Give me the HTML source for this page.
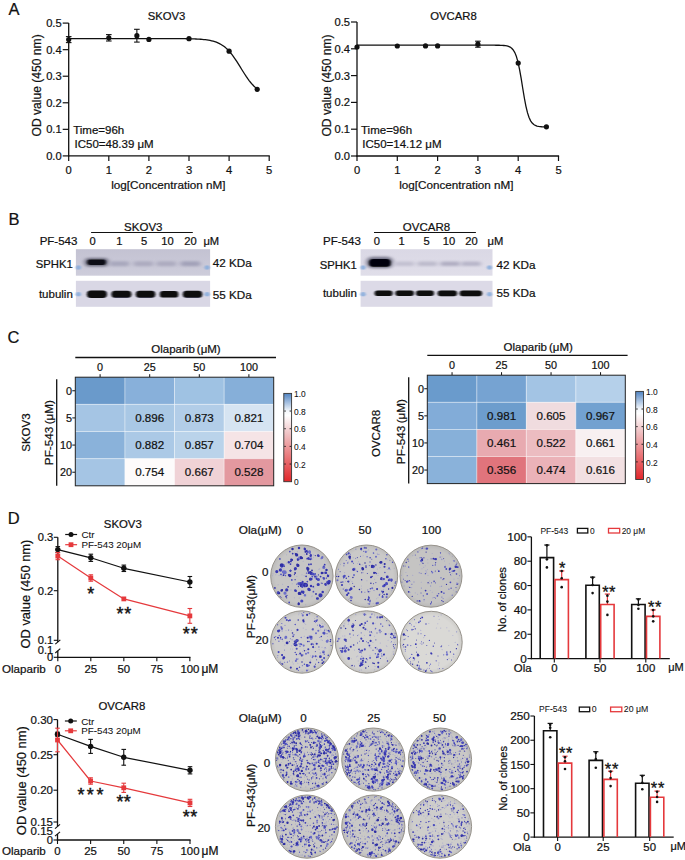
<!DOCTYPE html>
<html><head><meta charset="utf-8"><style>
html,body{margin:0;padding:0;background:#fff;}
svg{display:block;font-family:"Liberation Sans",sans-serif;}
</style></head><body>
<svg width="685" height="860" viewBox="0 0 685 860">
<defs><filter id="bl1" x="-50%" y="-100%" width="200%" height="300%"><feGaussianBlur stdDeviation="0.9 0.7"/></filter><filter id="bl2" x="-50%" y="-100%" width="200%" height="300%"><feGaussianBlur stdDeviation="2.0 1.3"/></filter><linearGradient id="sg75" x1="0" y1="0" x2="0" y2="1"><stop offset="0" stop-color="#c3c2d2"/><stop offset="1" stop-color="#cecddb"/></linearGradient><linearGradient id="sg360" x1="0" y1="0" x2="0" y2="1"><stop offset="0" stop-color="#dad8e5"/><stop offset="1" stop-color="#e0dee9"/></linearGradient><linearGradient id="cb75" x1="0" y1="0" x2="0" y2="1"><stop offset="0" stop-color="#4f83c2"/><stop offset="0.2" stop-color="#f4f7fb"/><stop offset="0.25" stop-color="#ffffff"/><stop offset="0.45" stop-color="#f0c4c6"/><stop offset="1" stop-color="#e2262a"/></linearGradient><linearGradient id="cb427" x1="0" y1="0" x2="0" y2="1"><stop offset="0" stop-color="#4f83c2"/><stop offset="0.2" stop-color="#f4f7fb"/><stop offset="0.25" stop-color="#ffffff"/><stop offset="0.45" stop-color="#f0c4c6"/><stop offset="1" stop-color="#e2262a"/></linearGradient><filter id="pblur" x="-10%" y="-10%" width="120%" height="120%"><feGaussianBlur stdDeviation="0.35"/></filter><radialGradient id="pshade" cx="0.5" cy="0.5" r="0.5"><stop offset="0.85" stop-color="#000" stop-opacity="0"/><stop offset="1" stop-color="#000" stop-opacity="0.06"/></radialGradient></defs>
<rect width="685" height="860" fill="#fff"/>
<text x="8.5" y="15.0" font-size="16.5" text-anchor="start" fill="#111" stroke="#111" stroke-width="0.22">A</text>
<text x="8.5" y="224.5" font-size="16.5" text-anchor="start" fill="#111" stroke="#111" stroke-width="0.22">B</text>
<text x="7.5" y="343.0" font-size="16.5" text-anchor="start" fill="#111" stroke="#111" stroke-width="0.22">C</text>
<text x="7.8" y="523.8" font-size="16.5" text-anchor="start" fill="#111" stroke="#111" stroke-width="0.22">D</text>
<line x1="68.70" y1="23.10" x2="68.70" y2="156.50" stroke="#111" stroke-width="1.3"/>
<line x1="68.10" y1="155.90" x2="269.80" y2="155.90" stroke="#111" stroke-width="1.3"/>
<line x1="62.70" y1="155.90" x2="68.70" y2="155.90" stroke="#111" stroke-width="1.2"/>
<text x="61.7" y="159.9" font-size="11.2" text-anchor="end" fill="#111" stroke="#111" stroke-width="0.22">0.0</text>
<line x1="62.70" y1="129.34" x2="68.70" y2="129.34" stroke="#111" stroke-width="1.2"/>
<text x="61.7" y="133.3" font-size="11.2" text-anchor="end" fill="#111" stroke="#111" stroke-width="0.22">0.1</text>
<line x1="62.70" y1="102.78" x2="68.70" y2="102.78" stroke="#111" stroke-width="1.2"/>
<text x="61.7" y="106.8" font-size="11.2" text-anchor="end" fill="#111" stroke="#111" stroke-width="0.22">0.2</text>
<line x1="62.70" y1="76.22" x2="68.70" y2="76.22" stroke="#111" stroke-width="1.2"/>
<text x="61.7" y="80.2" font-size="11.2" text-anchor="end" fill="#111" stroke="#111" stroke-width="0.22">0.3</text>
<line x1="62.70" y1="49.66" x2="68.70" y2="49.66" stroke="#111" stroke-width="1.2"/>
<text x="61.7" y="53.7" font-size="11.2" text-anchor="end" fill="#111" stroke="#111" stroke-width="0.22">0.4</text>
<line x1="62.70" y1="23.10" x2="68.70" y2="23.10" stroke="#111" stroke-width="1.2"/>
<text x="61.7" y="27.1" font-size="11.2" text-anchor="end" fill="#111" stroke="#111" stroke-width="0.22">0.5</text>
<line x1="68.70" y1="155.90" x2="68.70" y2="160.90" stroke="#111" stroke-width="1.2"/>
<text x="68.7" y="174.2" font-size="11.2" text-anchor="middle" fill="#111" stroke="#111" stroke-width="0.22">0</text>
<line x1="108.80" y1="155.90" x2="108.80" y2="160.90" stroke="#111" stroke-width="1.2"/>
<text x="108.8" y="174.2" font-size="11.2" text-anchor="middle" fill="#111" stroke="#111" stroke-width="0.22">1</text>
<line x1="148.90" y1="155.90" x2="148.90" y2="160.90" stroke="#111" stroke-width="1.2"/>
<text x="148.9" y="174.2" font-size="11.2" text-anchor="middle" fill="#111" stroke="#111" stroke-width="0.22">2</text>
<line x1="189.00" y1="155.90" x2="189.00" y2="160.90" stroke="#111" stroke-width="1.2"/>
<text x="189.0" y="174.2" font-size="11.2" text-anchor="middle" fill="#111" stroke="#111" stroke-width="0.22">3</text>
<line x1="229.10" y1="155.90" x2="229.10" y2="160.90" stroke="#111" stroke-width="1.2"/>
<text x="229.1" y="174.2" font-size="11.2" text-anchor="middle" fill="#111" stroke="#111" stroke-width="0.22">4</text>
<line x1="269.20" y1="155.90" x2="269.20" y2="160.90" stroke="#111" stroke-width="1.2"/>
<text x="269.2" y="174.2" font-size="11.2" text-anchor="middle" fill="#111" stroke="#111" stroke-width="0.22">5</text>
<text x="168.3" y="189.1" font-size="11.7" text-anchor="middle" fill="#111" stroke="#111" stroke-width="0.22">log[Concentration nM]</text>
<text x="40.9" y="85.4" font-size="12.1" text-anchor="middle" fill="#111" stroke="#111" stroke-width="0.22" transform="rotate(-90 40.9 85.4)">OD value (450 nm)</text>
<text x="166.5" y="20.2" font-size="11.3" text-anchor="middle" fill="#111" stroke="#111" stroke-width="0.22">SKOV3</text>
<text x="73.2" y="133.9" font-size="11.5" text-anchor="start" fill="#111" stroke="#111" stroke-width="0.22">Time=96h</text>
<text x="74.5" y="148.3" font-size="11.5" text-anchor="start" fill="#111" stroke="#111" stroke-width="0.22">IC50=48.39 μM</text>
<path d="M68.70 38.60 L70.27 38.60 L71.84 38.60 L73.41 38.60 L74.98 38.60 L76.55 38.60 L78.12 38.60 L79.69 38.60 L81.26 38.60 L82.84 38.60 L84.41 38.60 L85.98 38.60 L87.55 38.60 L89.12 38.60 L90.69 38.60 L92.26 38.60 L93.83 38.60 L95.40 38.60 L96.97 38.60 L98.54 38.60 L100.11 38.60 L101.68 38.60 L103.25 38.60 L104.82 38.60 L106.39 38.60 L107.96 38.60 L109.54 38.60 L111.11 38.60 L112.68 38.60 L114.25 38.60 L115.82 38.60 L117.39 38.60 L118.96 38.60 L120.53 38.60 L122.10 38.60 L123.67 38.60 L125.24 38.60 L126.81 38.60 L128.38 38.60 L129.95 38.60 L131.52 38.60 L133.09 38.60 L134.66 38.60 L136.24 38.60 L137.81 38.60 L139.38 38.60 L140.95 38.60 L142.52 38.60 L144.09 38.60 L145.66 38.60 L147.23 38.60 L148.80 38.60 L150.37 38.60 L151.94 38.60 L153.51 38.60 L155.08 38.60 L156.65 38.60 L158.22 38.61 L159.79 38.61 L161.36 38.61 L162.94 38.61 L164.51 38.61 L166.08 38.61 L167.65 38.62 L169.22 38.62 L170.79 38.62 L172.36 38.63 L173.93 38.63 L175.50 38.64 L177.07 38.65 L178.64 38.66 L180.21 38.67 L181.78 38.68 L183.35 38.70 L184.92 38.72 L186.49 38.74 L188.06 38.76 L189.63 38.80 L191.21 38.83 L192.78 38.88 L194.35 38.93 L195.92 38.99 L197.49 39.07 L199.06 39.16 L200.63 39.26 L202.20 39.39 L203.77 39.54 L205.34 39.71 L206.91 39.92 L208.48 40.17 L210.05 40.45 L211.62 40.80 L213.19 41.20 L214.76 41.67 L216.33 42.22 L217.91 42.86 L219.48 43.60 L221.05 44.46 L222.62 45.45 L224.19 46.59 L225.76 47.87 L227.33 49.32 L228.90 50.93 L230.47 52.72 L232.04 54.68 L233.61 56.79 L235.18 59.05 L236.75 61.44 L238.32 63.91 L239.89 66.44 L241.46 69.00 L243.03 71.53 L244.61 74.01 L246.18 76.40 L247.75 78.67 L249.32 80.79 L250.89 82.76 L252.46 84.56 L254.03 86.18 L255.60 87.64 L257.17 88.94" fill="none" stroke="#111" stroke-width="1.3" stroke-linejoin="round"/>
<line x1="68.70" y1="36.60" x2="68.70" y2="42.60" stroke="#111" stroke-width="1.1"/>
<line x1="65.90" y1="36.60" x2="71.50" y2="36.60" stroke="#111" stroke-width="1.1"/>
<line x1="65.90" y1="42.60" x2="71.50" y2="42.60" stroke="#111" stroke-width="1.1"/>
<circle cx="68.70" cy="39.60" r="2.6" fill="#111"/>
<line x1="108.80" y1="34.60" x2="108.80" y2="41.00" stroke="#111" stroke-width="1.1"/>
<line x1="106.00" y1="34.60" x2="111.60" y2="34.60" stroke="#111" stroke-width="1.1"/>
<line x1="106.00" y1="41.00" x2="111.60" y2="41.00" stroke="#111" stroke-width="1.1"/>
<circle cx="108.80" cy="37.80" r="2.6" fill="#111"/>
<line x1="136.87" y1="29.30" x2="136.87" y2="42.10" stroke="#111" stroke-width="1.1"/>
<line x1="134.07" y1="29.30" x2="139.67" y2="29.30" stroke="#111" stroke-width="1.1"/>
<line x1="134.07" y1="42.10" x2="139.67" y2="42.10" stroke="#111" stroke-width="1.1"/>
<circle cx="136.87" cy="35.70" r="2.6" fill="#111"/>
<circle cx="148.90" cy="39.40" r="2.6" fill="#111"/>
<circle cx="189.00" cy="38.70" r="2.6" fill="#111"/>
<circle cx="229.10" cy="51.20" r="2.6" fill="#111"/>
<circle cx="257.17" cy="89.30" r="2.6" fill="#111"/>
<line x1="357.00" y1="22.00" x2="357.00" y2="156.60" stroke="#111" stroke-width="1.3"/>
<line x1="356.40" y1="156.00" x2="559.10" y2="156.00" stroke="#111" stroke-width="1.3"/>
<line x1="351.00" y1="156.00" x2="357.00" y2="156.00" stroke="#111" stroke-width="1.2"/>
<text x="350.0" y="160.0" font-size="11.2" text-anchor="end" fill="#111" stroke="#111" stroke-width="0.22">0.0</text>
<line x1="351.00" y1="129.20" x2="357.00" y2="129.20" stroke="#111" stroke-width="1.2"/>
<text x="350.0" y="133.2" font-size="11.2" text-anchor="end" fill="#111" stroke="#111" stroke-width="0.22">0.1</text>
<line x1="351.00" y1="102.40" x2="357.00" y2="102.40" stroke="#111" stroke-width="1.2"/>
<text x="350.0" y="106.4" font-size="11.2" text-anchor="end" fill="#111" stroke="#111" stroke-width="0.22">0.2</text>
<line x1="351.00" y1="75.60" x2="357.00" y2="75.60" stroke="#111" stroke-width="1.2"/>
<text x="350.0" y="79.6" font-size="11.2" text-anchor="end" fill="#111" stroke="#111" stroke-width="0.22">0.3</text>
<line x1="351.00" y1="48.80" x2="357.00" y2="48.80" stroke="#111" stroke-width="1.2"/>
<text x="350.0" y="52.8" font-size="11.2" text-anchor="end" fill="#111" stroke="#111" stroke-width="0.22">0.4</text>
<line x1="351.00" y1="22.00" x2="357.00" y2="22.00" stroke="#111" stroke-width="1.2"/>
<text x="350.0" y="26.0" font-size="11.2" text-anchor="end" fill="#111" stroke="#111" stroke-width="0.22">0.5</text>
<line x1="357.00" y1="156.00" x2="357.00" y2="161.00" stroke="#111" stroke-width="1.2"/>
<text x="357.0" y="174.3" font-size="11.2" text-anchor="middle" fill="#111" stroke="#111" stroke-width="0.22">0</text>
<line x1="397.30" y1="156.00" x2="397.30" y2="161.00" stroke="#111" stroke-width="1.2"/>
<text x="397.3" y="174.3" font-size="11.2" text-anchor="middle" fill="#111" stroke="#111" stroke-width="0.22">1</text>
<line x1="437.60" y1="156.00" x2="437.60" y2="161.00" stroke="#111" stroke-width="1.2"/>
<text x="437.6" y="174.3" font-size="11.2" text-anchor="middle" fill="#111" stroke="#111" stroke-width="0.22">2</text>
<line x1="477.90" y1="156.00" x2="477.90" y2="161.00" stroke="#111" stroke-width="1.2"/>
<text x="477.9" y="174.3" font-size="11.2" text-anchor="middle" fill="#111" stroke="#111" stroke-width="0.22">3</text>
<line x1="518.20" y1="156.00" x2="518.20" y2="161.00" stroke="#111" stroke-width="1.2"/>
<text x="518.2" y="174.3" font-size="11.2" text-anchor="middle" fill="#111" stroke="#111" stroke-width="0.22">4</text>
<line x1="558.50" y1="156.00" x2="558.50" y2="161.00" stroke="#111" stroke-width="1.2"/>
<text x="558.5" y="174.3" font-size="11.2" text-anchor="middle" fill="#111" stroke="#111" stroke-width="0.22">5</text>
<text x="456.3" y="189.2" font-size="11.7" text-anchor="middle" fill="#111" stroke="#111" stroke-width="0.22">log[Concentration nM]</text>
<text x="330.5" y="85.5" font-size="12.1" text-anchor="middle" fill="#111" stroke="#111" stroke-width="0.22" transform="rotate(-90 330.5 85.5)">OD value (450 nm)</text>
<text x="453.5" y="20.2" font-size="11.3" text-anchor="middle" fill="#111" stroke="#111" stroke-width="0.22">OVCAR8</text>
<text x="361.0" y="134.0" font-size="11.5" text-anchor="start" fill="#111" stroke="#111" stroke-width="0.22">Time=96h</text>
<text x="362.3" y="148.4" font-size="11.5" text-anchor="start" fill="#111" stroke="#111" stroke-width="0.22">IC50=14.12 μM</text>
<path d="M357.00 45.20 L358.58 45.20 L360.16 45.20 L361.74 45.20 L363.31 45.20 L364.89 45.20 L366.47 45.20 L368.05 45.20 L369.63 45.20 L371.21 45.20 L372.78 45.20 L374.36 45.20 L375.94 45.20 L377.52 45.20 L379.10 45.20 L380.68 45.20 L382.25 45.20 L383.83 45.20 L385.41 45.20 L386.99 45.20 L388.57 45.20 L390.15 45.20 L391.73 45.20 L393.30 45.20 L394.88 45.20 L396.46 45.20 L398.04 45.20 L399.62 45.20 L401.20 45.20 L402.77 45.20 L404.35 45.20 L405.93 45.20 L407.51 45.20 L409.09 45.20 L410.67 45.20 L412.24 45.20 L413.82 45.20 L415.40 45.20 L416.98 45.20 L418.56 45.20 L420.14 45.20 L421.72 45.20 L423.29 45.20 L424.87 45.20 L426.45 45.20 L428.03 45.20 L429.61 45.20 L431.19 45.20 L432.76 45.20 L434.34 45.20 L435.92 45.20 L437.50 45.20 L439.08 45.20 L440.66 45.20 L442.23 45.20 L443.81 45.20 L445.39 45.20 L446.97 45.20 L448.55 45.20 L450.13 45.20 L451.70 45.20 L453.28 45.20 L454.86 45.20 L456.44 45.20 L458.02 45.20 L459.60 45.20 L461.18 45.20 L462.75 45.20 L464.33 45.20 L465.91 45.20 L467.49 45.20 L469.07 45.20 L470.65 45.20 L472.22 45.20 L473.80 45.20 L475.38 45.20 L476.96 45.20 L478.54 45.20 L480.12 45.20 L481.69 45.20 L483.27 45.20 L484.85 45.20 L486.43 45.20 L488.01 45.20 L489.59 45.20 L491.17 45.21 L492.74 45.21 L494.32 45.22 L495.90 45.23 L497.48 45.24 L499.06 45.27 L500.64 45.31 L502.21 45.37 L503.79 45.48 L505.37 45.65 L506.95 45.93 L508.53 46.37 L510.11 47.08 L511.68 48.20 L513.26 49.96 L514.84 52.63 L516.42 56.59 L518.00 62.17 L519.58 69.55 L521.16 78.48 L522.73 88.24 L524.31 97.75 L525.89 106.07 L527.47 112.67 L529.05 117.51 L530.63 120.87 L532.20 123.10 L533.78 124.54 L535.36 125.47 L536.94 126.05 L538.52 126.41 L540.10 126.63 L541.67 126.77 L543.25 126.86 L544.83 126.91 L546.41 126.95" fill="none" stroke="#111" stroke-width="1.3" stroke-linejoin="round"/>
<circle cx="357.00" cy="47.00" r="2.6" fill="#111"/>
<circle cx="397.30" cy="46.00" r="2.6" fill="#111"/>
<circle cx="425.51" cy="45.90" r="2.6" fill="#111"/>
<circle cx="437.60" cy="45.90" r="2.6" fill="#111"/>
<line x1="477.90" y1="41.20" x2="477.90" y2="47.20" stroke="#111" stroke-width="1.1"/>
<line x1="475.10" y1="41.20" x2="480.70" y2="41.20" stroke="#111" stroke-width="1.1"/>
<line x1="475.10" y1="47.20" x2="480.70" y2="47.20" stroke="#111" stroke-width="1.1"/>
<circle cx="477.90" cy="44.20" r="2.6" fill="#111"/>
<circle cx="518.20" cy="63.10" r="2.6" fill="#111"/>
<circle cx="546.41" cy="126.80" r="2.6" fill="#111"/>
<line x1="91.10" y1="232.50" x2="192.80" y2="232.50" stroke="#111" stroke-width="1.2"/>
<text x="143.3" y="230.8" font-size="11.5" text-anchor="middle" fill="#111" stroke="#111" stroke-width="0.22">SKOV3</text>
<text x="77.4" y="245.3" font-size="11.5" text-anchor="end" fill="#111" stroke="#111" stroke-width="0.22">PF-543</text>
<text x="92.6" y="245.3" font-size="11.2" text-anchor="middle" fill="#111" stroke="#111" stroke-width="0.22">0</text>
<text x="119.3" y="245.3" font-size="11.2" text-anchor="middle" fill="#111" stroke="#111" stroke-width="0.22">1</text>
<text x="144.0" y="245.3" font-size="11.2" text-anchor="middle" fill="#111" stroke="#111" stroke-width="0.22">5</text>
<text x="167.4" y="245.3" font-size="11.2" text-anchor="middle" fill="#111" stroke="#111" stroke-width="0.22">10</text>
<text x="190.4" y="245.3" font-size="11.2" text-anchor="middle" fill="#111" stroke="#111" stroke-width="0.22">20</text>
<text x="203.4" y="245.3" font-size="11.2" text-anchor="start" fill="#111" stroke="#111" stroke-width="0.22">μM</text>
<rect x="75.90" y="249.20" width="134.20" height="26.50" fill="url(#sg75)" stroke="none" stroke-width="1"/>
<rect x="75.90" y="280.80" width="134.20" height="26.00" fill="#d9d7e5" stroke="none" stroke-width="1"/>
<rect x="84.6" y="258.1" width="24.0" height="8.5" rx="4.2" fill="#6a6a7c" filter="url(#bl2)"/>
<rect x="87.3" y="259.4" width="18.5" height="5.5" rx="2.8" fill="#101018" filter="url(#bl1)"/>
<rect x="109.3" y="261.3" width="20.0" height="5.0" rx="2.5" fill="#a9a8bd" filter="url(#bl2)"/>
<rect x="133.4" y="261.3" width="20.0" height="5.0" rx="2.5" fill="#adacc0" filter="url(#bl2)"/>
<rect x="156.3" y="261.3" width="20.0" height="5.0" rx="2.5" fill="#adacc0" filter="url(#bl2)"/>
<rect x="180.4" y="261.3" width="20.0" height="5.0" rx="2.5" fill="#a3a2b9" filter="url(#bl2)"/>
<rect x="86.9" y="290.6" width="20.0" height="7.5" rx="3.8" fill="#08080c" filter="url(#bl1)"/>
<rect x="111.4" y="290.8" width="20.0" height="7.0" rx="3.5" fill="#08080c" filter="url(#bl1)"/>
<rect x="135.8" y="290.8" width="19.5" height="7.0" rx="3.5" fill="#08080c" filter="url(#bl1)"/>
<rect x="159.8" y="291.1" width="18.5" height="6.5" rx="3.2" fill="#08080c" filter="url(#bl1)"/>
<rect x="182.8" y="290.8" width="19.5" height="7.0" rx="3.5" fill="#08080c" filter="url(#bl1)"/>
<ellipse cx="78.4" cy="267.5" rx="2.6" ry="2.2" fill="#86acdc" opacity="0.85" filter="url(#bl1)"/>
<ellipse cx="207.1" cy="267.5" rx="2.6" ry="2.2" fill="#86acdc" opacity="0.85" filter="url(#bl1)"/>
<ellipse cx="78.4" cy="294.3" rx="2.6" ry="2.2" fill="#86acdc" opacity="0.85" filter="url(#bl1)"/>
<ellipse cx="207.1" cy="294.3" rx="2.6" ry="2.2" fill="#86acdc" opacity="0.85" filter="url(#bl1)"/>
<text x="72.8" y="267.8" font-size="11.3" text-anchor="end" fill="#111" stroke="#111" stroke-width="0.22">SPHK1</text>
<text x="72.8" y="298.3" font-size="11.5" text-anchor="end" fill="#111" stroke="#111" stroke-width="0.22">tubulin</text>
<text x="212.7" y="267.4" font-size="11.7" text-anchor="start" fill="#111" stroke="#111" stroke-width="0.22">42 KDa</text>
<text x="212.7" y="298.6" font-size="11.7" text-anchor="start" fill="#111" stroke="#111" stroke-width="0.22">55 KDa</text>
<line x1="374.00" y1="232.50" x2="475.90" y2="232.50" stroke="#111" stroke-width="1.2"/>
<text x="426.5" y="230.8" font-size="11.5" text-anchor="middle" fill="#111" stroke="#111" stroke-width="0.22">OVCAR8</text>
<text x="360.8" y="245.3" font-size="11.5" text-anchor="end" fill="#111" stroke="#111" stroke-width="0.22">PF-543</text>
<text x="376.9" y="245.3" font-size="11.2" text-anchor="middle" fill="#111" stroke="#111" stroke-width="0.22">0</text>
<text x="401.7" y="245.3" font-size="11.2" text-anchor="middle" fill="#111" stroke="#111" stroke-width="0.22">1</text>
<text x="426.5" y="245.3" font-size="11.2" text-anchor="middle" fill="#111" stroke="#111" stroke-width="0.22">5</text>
<text x="448.9" y="245.3" font-size="11.2" text-anchor="middle" fill="#111" stroke="#111" stroke-width="0.22">10</text>
<text x="471.5" y="245.3" font-size="11.2" text-anchor="middle" fill="#111" stroke="#111" stroke-width="0.22">20</text>
<text x="487.5" y="245.3" font-size="11.2" text-anchor="start" fill="#111" stroke="#111" stroke-width="0.22">μM</text>
<rect x="360.60" y="249.20" width="131.90" height="26.50" fill="url(#sg360)" stroke="none" stroke-width="1"/>
<rect x="360.60" y="280.80" width="131.90" height="26.00" fill="#dcdae7" stroke="none" stroke-width="1"/>
<rect x="366.3" y="256.8" width="27.0" height="11.5" rx="5.8" fill="#77778a" filter="url(#bl2)"/>
<rect x="369.1" y="258.9" width="21.5" height="7.8" rx="3.9" fill="#050508" filter="url(#bl1)"/>
<rect x="394.3" y="261.6" width="20.0" height="4.5" rx="2.2" fill="#c3c1d1" filter="url(#bl2)"/>
<rect x="417.3" y="261.6" width="20.0" height="4.5" rx="2.2" fill="#bdbbcc" filter="url(#bl2)"/>
<rect x="440.2" y="261.6" width="20.0" height="4.5" rx="2.2" fill="#b1afc3" filter="url(#bl2)"/>
<rect x="461.0" y="261.6" width="20.0" height="4.5" rx="2.2" fill="#b8b6c9" filter="url(#bl2)"/>
<rect x="374.6" y="290.5" width="18.0" height="5.6" rx="2.8" fill="#08080c" filter="url(#bl1)"/>
<rect x="395.4" y="290.6" width="18.5" height="5.4" rx="2.7" fill="#08080c" filter="url(#bl1)"/>
<rect x="416.0" y="290.6" width="18.0" height="5.4" rx="2.7" fill="#08080c" filter="url(#bl1)"/>
<rect x="437.6" y="290.4" width="19.5" height="5.8" rx="2.9" fill="#08080c" filter="url(#bl1)"/>
<rect x="459.6" y="290.4" width="22.5" height="5.8" rx="2.9" fill="#08080c" filter="url(#bl1)"/>
<ellipse cx="363.1" cy="267.5" rx="2.6" ry="2.2" fill="#86acdc" opacity="0.85" filter="url(#bl1)"/>
<ellipse cx="489.5" cy="267.5" rx="2.6" ry="2.2" fill="#86acdc" opacity="0.85" filter="url(#bl1)"/>
<ellipse cx="363.1" cy="294.3" rx="2.6" ry="2.2" fill="#86acdc" opacity="0.85" filter="url(#bl1)"/>
<ellipse cx="489.5" cy="294.3" rx="2.6" ry="2.2" fill="#86acdc" opacity="0.85" filter="url(#bl1)"/>
<text x="356.8" y="269.0" font-size="11.3" text-anchor="end" fill="#111" stroke="#111" stroke-width="0.22">SPHK1</text>
<text x="356.8" y="296.9" font-size="11.5" text-anchor="end" fill="#111" stroke="#111" stroke-width="0.22">tubulin</text>
<text x="496.5" y="269.3" font-size="11.7" text-anchor="start" fill="#111" stroke="#111" stroke-width="0.22">42 KDa</text>
<text x="496.5" y="297.3" font-size="11.7" text-anchor="start" fill="#111" stroke="#111" stroke-width="0.22">55 KDa</text>
<line x1="75.30" y1="357.50" x2="276.00" y2="357.50" stroke="#111" stroke-width="1.3"/>
<text x="186.0" y="353.0" font-size="11.5" text-anchor="middle" fill="#111" stroke="#111" stroke-width="0.22">Olaparib<tspan dx="2">(μM)</tspan></text>
<text x="100.1" y="371.2" font-size="10.8" text-anchor="middle" fill="#111" stroke="#111" stroke-width="0.22">0</text>
<line x1="100.10" y1="374.20" x2="100.10" y2="377.20" stroke="#111" stroke-width="1.0"/>
<text x="149.7" y="371.2" font-size="10.8" text-anchor="middle" fill="#111" stroke="#111" stroke-width="0.22">25</text>
<line x1="149.70" y1="374.20" x2="149.70" y2="377.20" stroke="#111" stroke-width="1.0"/>
<text x="199.3" y="371.2" font-size="10.8" text-anchor="middle" fill="#111" stroke="#111" stroke-width="0.22">50</text>
<line x1="199.30" y1="374.20" x2="199.30" y2="377.20" stroke="#111" stroke-width="1.0"/>
<text x="248.9" y="371.2" font-size="10.8" text-anchor="middle" fill="#111" stroke="#111" stroke-width="0.22">100</text>
<line x1="248.90" y1="374.20" x2="248.90" y2="377.20" stroke="#111" stroke-width="1.0"/>
<text x="71.9" y="394.8" font-size="10.8" text-anchor="end" fill="#111" stroke="#111" stroke-width="0.22">0</text>
<line x1="72.30" y1="390.77" x2="75.30" y2="390.77" stroke="#111" stroke-width="1.0"/>
<text x="71.9" y="421.9" font-size="10.8" text-anchor="end" fill="#111" stroke="#111" stroke-width="0.22">5</text>
<line x1="72.30" y1="417.92" x2="75.30" y2="417.92" stroke="#111" stroke-width="1.0"/>
<text x="71.9" y="449.1" font-size="10.8" text-anchor="end" fill="#111" stroke="#111" stroke-width="0.22">10</text>
<line x1="72.30" y1="445.07" x2="75.30" y2="445.07" stroke="#111" stroke-width="1.0"/>
<text x="71.9" y="476.2" font-size="10.8" text-anchor="end" fill="#111" stroke="#111" stroke-width="0.22">20</text>
<line x1="72.30" y1="472.22" x2="75.30" y2="472.22" stroke="#111" stroke-width="1.0"/>
<rect x="75.30" y="377.20" width="49.60" height="27.15" fill="#6a9acb" stroke="none" stroke-width="1"/>
<rect x="124.90" y="377.20" width="49.60" height="27.15" fill="#88b0da" stroke="none" stroke-width="1"/>
<rect x="174.50" y="377.20" width="49.60" height="27.15" fill="#9fc2e3" stroke="none" stroke-width="1"/>
<rect x="224.10" y="377.20" width="49.60" height="27.15" fill="#86afd9" stroke="none" stroke-width="1"/>
<rect x="75.30" y="404.35" width="49.60" height="27.15" fill="#a5c5e4" stroke="none" stroke-width="1"/>
<rect x="124.90" y="404.35" width="49.60" height="27.15" fill="#a9c8e5" stroke="none" stroke-width="1"/>
<rect x="174.50" y="404.35" width="49.60" height="27.15" fill="#b2cde8" stroke="none" stroke-width="1"/>
<rect x="224.10" y="404.35" width="49.60" height="27.15" fill="#d6e4f2" stroke="none" stroke-width="1"/>
<rect x="75.30" y="431.50" width="49.60" height="27.15" fill="#8ab2da" stroke="none" stroke-width="1"/>
<rect x="124.90" y="431.50" width="49.60" height="27.15" fill="#abc9e6" stroke="none" stroke-width="1"/>
<rect x="174.50" y="431.50" width="49.60" height="27.15" fill="#bad3ea" stroke="none" stroke-width="1"/>
<rect x="224.10" y="431.50" width="49.60" height="27.15" fill="#f5e4e6" stroke="none" stroke-width="1"/>
<rect x="75.30" y="458.65" width="49.60" height="27.15" fill="#a5c5e4" stroke="none" stroke-width="1"/>
<rect x="124.90" y="458.65" width="49.60" height="27.15" fill="#fdfbfb" stroke="none" stroke-width="1"/>
<rect x="174.50" y="458.65" width="49.60" height="27.15" fill="#f0d2d6" stroke="none" stroke-width="1"/>
<rect x="224.10" y="458.65" width="49.60" height="27.15" fill="#e3989f" stroke="none" stroke-width="1"/>
<line x1="124.90" y1="377.20" x2="124.90" y2="485.80" stroke="#ffffff" stroke-width="0.8" opacity="0.55"/>
<line x1="174.50" y1="377.20" x2="174.50" y2="485.80" stroke="#ffffff" stroke-width="0.8" opacity="0.55"/>
<line x1="224.10" y1="377.20" x2="224.10" y2="485.80" stroke="#ffffff" stroke-width="0.8" opacity="0.55"/>
<line x1="75.30" y1="404.35" x2="273.70" y2="404.35" stroke="#ffffff" stroke-width="0.8" opacity="0.55"/>
<line x1="75.30" y1="431.50" x2="273.70" y2="431.50" stroke="#ffffff" stroke-width="0.8" opacity="0.55"/>
<line x1="75.30" y1="458.65" x2="273.70" y2="458.65" stroke="#ffffff" stroke-width="0.8" opacity="0.55"/>
<rect x="75.30" y="377.20" width="198.40" height="108.60" fill="none" stroke="#222" stroke-width="1.0"/>
<text x="149.7" y="422.1" font-size="11.6" text-anchor="middle" fill="#111" stroke="#111" stroke-width="0.22">0.896</text>
<text x="199.3" y="422.1" font-size="11.6" text-anchor="middle" fill="#111" stroke="#111" stroke-width="0.22">0.873</text>
<text x="248.9" y="422.1" font-size="11.6" text-anchor="middle" fill="#111" stroke="#111" stroke-width="0.22">0.821</text>
<text x="149.7" y="449.3" font-size="11.6" text-anchor="middle" fill="#111" stroke="#111" stroke-width="0.22">0.882</text>
<text x="199.3" y="449.3" font-size="11.6" text-anchor="middle" fill="#111" stroke="#111" stroke-width="0.22">0.857</text>
<text x="248.9" y="449.3" font-size="11.6" text-anchor="middle" fill="#111" stroke="#111" stroke-width="0.22">0.704</text>
<text x="149.7" y="476.4" font-size="11.6" text-anchor="middle" fill="#111" stroke="#111" stroke-width="0.22">0.754</text>
<text x="199.3" y="476.4" font-size="11.6" text-anchor="middle" fill="#111" stroke="#111" stroke-width="0.22">0.667</text>
<text x="248.9" y="476.4" font-size="11.6" text-anchor="middle" fill="#111" stroke="#111" stroke-width="0.22">0.528</text>
<line x1="56.70" y1="379.20" x2="56.70" y2="485.80" stroke="#111" stroke-width="1.3"/>
<text x="53.0" y="432.6" font-size="11.7" text-anchor="middle" fill="#111" stroke="#111" stroke-width="0.22" transform="rotate(-90 53.0 432.6)">PF-543<tspan dx="2.5">(μM)</tspan></text>
<text x="30.0" y="432.6" font-size="11.5" text-anchor="middle" fill="#111" stroke="#111" stroke-width="0.22" transform="rotate(-90 30.0 432.6)">SKOV3</text>
<rect x="283.80" y="393.40" width="7.80" height="88.30" fill="url(#cb75)" stroke="#333" stroke-width="0.9"/>
<text x="294.1" y="485.3" font-size="8.4" text-anchor="start" fill="#111" stroke="#111" stroke-width="0.06">0</text>
<line x1="284.30" y1="464.04" x2="285.80" y2="464.04" stroke="#111" stroke-width="0.9"/>
<line x1="289.60" y1="464.04" x2="291.10" y2="464.04" stroke="#111" stroke-width="0.9"/>
<text x="294.1" y="467.6" font-size="8.4" text-anchor="start" fill="#111" stroke="#111" stroke-width="0.06">0.2</text>
<line x1="284.30" y1="446.38" x2="285.80" y2="446.38" stroke="#111" stroke-width="0.9"/>
<line x1="289.60" y1="446.38" x2="291.10" y2="446.38" stroke="#111" stroke-width="0.9"/>
<text x="294.1" y="450.0" font-size="8.4" text-anchor="start" fill="#111" stroke="#111" stroke-width="0.06">0.4</text>
<line x1="284.30" y1="428.72" x2="285.80" y2="428.72" stroke="#111" stroke-width="0.9"/>
<line x1="289.60" y1="428.72" x2="291.10" y2="428.72" stroke="#111" stroke-width="0.9"/>
<text x="294.1" y="432.3" font-size="8.4" text-anchor="start" fill="#111" stroke="#111" stroke-width="0.06">0.6</text>
<line x1="284.30" y1="411.06" x2="285.80" y2="411.06" stroke="#111" stroke-width="0.9"/>
<line x1="289.60" y1="411.06" x2="291.10" y2="411.06" stroke="#111" stroke-width="0.9"/>
<text x="294.1" y="414.7" font-size="8.4" text-anchor="start" fill="#111" stroke="#111" stroke-width="0.06">0.8</text>
<text x="294.1" y="397.0" font-size="8.4" text-anchor="start" fill="#111" stroke="#111" stroke-width="0.06">1.0</text>
<line x1="427.30" y1="355.30" x2="627.60" y2="355.30" stroke="#111" stroke-width="1.3"/>
<text x="538.2" y="350.8" font-size="11.5" text-anchor="middle" fill="#111" stroke="#111" stroke-width="0.22">Olaparib<tspan dx="2">(μM)</tspan></text>
<text x="452.1" y="369.2" font-size="10.8" text-anchor="middle" fill="#111" stroke="#111" stroke-width="0.22">0</text>
<line x1="452.05" y1="372.20" x2="452.05" y2="375.20" stroke="#111" stroke-width="1.0"/>
<text x="501.6" y="369.2" font-size="10.8" text-anchor="middle" fill="#111" stroke="#111" stroke-width="0.22">25</text>
<line x1="501.55" y1="372.20" x2="501.55" y2="375.20" stroke="#111" stroke-width="1.0"/>
<text x="551.0" y="369.2" font-size="10.8" text-anchor="middle" fill="#111" stroke="#111" stroke-width="0.22">50</text>
<line x1="551.05" y1="372.20" x2="551.05" y2="375.20" stroke="#111" stroke-width="1.0"/>
<text x="600.5" y="369.2" font-size="10.8" text-anchor="middle" fill="#111" stroke="#111" stroke-width="0.22">100</text>
<line x1="600.55" y1="372.20" x2="600.55" y2="375.20" stroke="#111" stroke-width="1.0"/>
<text x="423.9" y="392.8" font-size="10.8" text-anchor="end" fill="#111" stroke="#111" stroke-width="0.22">0</text>
<line x1="424.30" y1="388.75" x2="427.30" y2="388.75" stroke="#111" stroke-width="1.0"/>
<text x="423.9" y="419.9" font-size="10.8" text-anchor="end" fill="#111" stroke="#111" stroke-width="0.22">5</text>
<line x1="424.30" y1="415.85" x2="427.30" y2="415.85" stroke="#111" stroke-width="1.0"/>
<text x="423.9" y="446.9" font-size="10.8" text-anchor="end" fill="#111" stroke="#111" stroke-width="0.22">10</text>
<line x1="424.30" y1="442.95" x2="427.30" y2="442.95" stroke="#111" stroke-width="1.0"/>
<text x="423.9" y="474.1" font-size="10.8" text-anchor="end" fill="#111" stroke="#111" stroke-width="0.22">20</text>
<line x1="424.30" y1="470.05" x2="427.30" y2="470.05" stroke="#111" stroke-width="1.0"/>
<rect x="427.30" y="375.20" width="49.50" height="27.10" fill="#6a9bcc" stroke="none" stroke-width="1"/>
<rect x="476.80" y="375.20" width="49.50" height="27.10" fill="#76a3d2" stroke="none" stroke-width="1"/>
<rect x="526.30" y="375.20" width="49.50" height="27.10" fill="#a3c4e4" stroke="none" stroke-width="1"/>
<rect x="575.80" y="375.20" width="49.50" height="27.10" fill="#b5d0ea" stroke="none" stroke-width="1"/>
<rect x="427.30" y="402.30" width="49.50" height="27.10" fill="#82acd8" stroke="none" stroke-width="1"/>
<rect x="476.80" y="402.30" width="49.50" height="27.10" fill="#6d9dcd" stroke="none" stroke-width="1"/>
<rect x="526.30" y="402.30" width="49.50" height="27.10" fill="#f0dcdf" stroke="none" stroke-width="1"/>
<rect x="575.80" y="402.30" width="49.50" height="27.10" fill="#72a1d0" stroke="none" stroke-width="1"/>
<rect x="427.30" y="429.40" width="49.50" height="27.10" fill="#87b0d9" stroke="none" stroke-width="1"/>
<rect x="476.80" y="429.40" width="49.50" height="27.10" fill="#e8aab0" stroke="none" stroke-width="1"/>
<rect x="526.30" y="429.40" width="49.50" height="27.10" fill="#ecbcc1" stroke="none" stroke-width="1"/>
<rect x="575.80" y="429.40" width="49.50" height="27.10" fill="#f8f0f1" stroke="none" stroke-width="1"/>
<rect x="427.30" y="456.50" width="49.50" height="27.10" fill="#8ab2da" stroke="none" stroke-width="1"/>
<rect x="476.80" y="456.50" width="49.50" height="27.10" fill="#e0747c" stroke="none" stroke-width="1"/>
<rect x="526.30" y="456.50" width="49.50" height="27.10" fill="#ebb2b8" stroke="none" stroke-width="1"/>
<rect x="575.80" y="456.50" width="49.50" height="27.10" fill="#f2e0e2" stroke="none" stroke-width="1"/>
<line x1="476.80" y1="375.20" x2="476.80" y2="483.60" stroke="#ffffff" stroke-width="0.8" opacity="0.55"/>
<line x1="526.30" y1="375.20" x2="526.30" y2="483.60" stroke="#ffffff" stroke-width="0.8" opacity="0.55"/>
<line x1="575.80" y1="375.20" x2="575.80" y2="483.60" stroke="#ffffff" stroke-width="0.8" opacity="0.55"/>
<line x1="427.30" y1="402.30" x2="625.30" y2="402.30" stroke="#ffffff" stroke-width="0.8" opacity="0.55"/>
<line x1="427.30" y1="429.40" x2="625.30" y2="429.40" stroke="#ffffff" stroke-width="0.8" opacity="0.55"/>
<line x1="427.30" y1="456.50" x2="625.30" y2="456.50" stroke="#ffffff" stroke-width="0.8" opacity="0.55"/>
<rect x="427.30" y="375.20" width="198.00" height="108.40" fill="none" stroke="#222" stroke-width="1.0"/>
<text x="501.6" y="420.1" font-size="11.6" text-anchor="middle" fill="#111" stroke="#111" stroke-width="0.22">0.981</text>
<text x="551.0" y="420.1" font-size="11.6" text-anchor="middle" fill="#111" stroke="#111" stroke-width="0.22">0.605</text>
<text x="600.5" y="420.1" font-size="11.6" text-anchor="middle" fill="#111" stroke="#111" stroke-width="0.22">0.967</text>
<text x="501.6" y="447.1" font-size="11.6" text-anchor="middle" fill="#111" stroke="#111" stroke-width="0.22">0.461</text>
<text x="551.0" y="447.1" font-size="11.6" text-anchor="middle" fill="#111" stroke="#111" stroke-width="0.22">0.522</text>
<text x="600.5" y="447.1" font-size="11.6" text-anchor="middle" fill="#111" stroke="#111" stroke-width="0.22">0.661</text>
<text x="501.6" y="474.2" font-size="11.6" text-anchor="middle" fill="#111" stroke="#111" stroke-width="0.22">0.356</text>
<text x="551.0" y="474.2" font-size="11.6" text-anchor="middle" fill="#111" stroke="#111" stroke-width="0.22">0.474</text>
<text x="600.5" y="474.2" font-size="11.6" text-anchor="middle" fill="#111" stroke="#111" stroke-width="0.22">0.616</text>
<line x1="408.70" y1="377.20" x2="408.70" y2="483.60" stroke="#111" stroke-width="1.3"/>
<text x="404.6" y="431.6" font-size="11.7" text-anchor="middle" fill="#111" stroke="#111" stroke-width="0.22" transform="rotate(-90 404.6 431.6)">PF-543<tspan dx="2.5">(μM)</tspan></text>
<text x="379.8" y="433.4" font-size="11.5" text-anchor="middle" fill="#111" stroke="#111" stroke-width="0.22" transform="rotate(-90 379.8 433.4)">OVCAR8</text>
<rect x="635.70" y="391.40" width="7.80" height="88.10" fill="url(#cb427)" stroke="#333" stroke-width="0.9"/>
<text x="646.0" y="483.1" font-size="8.4" text-anchor="start" fill="#111" stroke="#111" stroke-width="0.06">0</text>
<line x1="636.20" y1="461.88" x2="637.70" y2="461.88" stroke="#111" stroke-width="0.9"/>
<line x1="641.50" y1="461.88" x2="643.00" y2="461.88" stroke="#111" stroke-width="0.9"/>
<text x="646.0" y="465.5" font-size="8.4" text-anchor="start" fill="#111" stroke="#111" stroke-width="0.06">0.2</text>
<line x1="636.20" y1="444.26" x2="637.70" y2="444.26" stroke="#111" stroke-width="0.9"/>
<line x1="641.50" y1="444.26" x2="643.00" y2="444.26" stroke="#111" stroke-width="0.9"/>
<text x="646.0" y="447.9" font-size="8.4" text-anchor="start" fill="#111" stroke="#111" stroke-width="0.06">0.4</text>
<line x1="636.20" y1="426.64" x2="637.70" y2="426.64" stroke="#111" stroke-width="0.9"/>
<line x1="641.50" y1="426.64" x2="643.00" y2="426.64" stroke="#111" stroke-width="0.9"/>
<text x="646.0" y="430.2" font-size="8.4" text-anchor="start" fill="#111" stroke="#111" stroke-width="0.06">0.6</text>
<line x1="636.20" y1="409.02" x2="637.70" y2="409.02" stroke="#111" stroke-width="0.9"/>
<line x1="641.50" y1="409.02" x2="643.00" y2="409.02" stroke="#111" stroke-width="0.9"/>
<text x="646.0" y="412.6" font-size="8.4" text-anchor="start" fill="#111" stroke="#111" stroke-width="0.06">0.8</text>
<text x="646.0" y="395.0" font-size="8.4" text-anchor="start" fill="#111" stroke="#111" stroke-width="0.06">1.0</text>
<line x1="57.80" y1="537.30" x2="57.80" y2="642.00" stroke="#111" stroke-width="1.3"/>
<line x1="57.80" y1="650.80" x2="57.80" y2="657.90" stroke="#111" stroke-width="1.3"/>
<line x1="55.30" y1="644.20" x2="60.30" y2="639.80" stroke="#111" stroke-width="1.1"/>
<line x1="55.30" y1="653.00" x2="60.30" y2="648.60" stroke="#111" stroke-width="1.1"/>
<line x1="57.20" y1="657.30" x2="190.45" y2="657.30" stroke="#111" stroke-width="1.3"/>
<line x1="53.80" y1="640.30" x2="57.80" y2="640.30" stroke="#111" stroke-width="1.1"/>
<text x="53.3" y="644.3" font-size="11.2" text-anchor="end" fill="#111" stroke="#111" stroke-width="0.22">0.1</text>
<line x1="53.80" y1="590.70" x2="57.80" y2="590.70" stroke="#111" stroke-width="1.1"/>
<text x="53.3" y="594.7" font-size="11.2" text-anchor="end" fill="#111" stroke="#111" stroke-width="0.22">0.2</text>
<line x1="53.80" y1="537.30" x2="57.80" y2="537.30" stroke="#111" stroke-width="1.1"/>
<text x="53.3" y="541.3" font-size="11.2" text-anchor="end" fill="#111" stroke="#111" stroke-width="0.22">0.3</text>
<line x1="53.80" y1="657.30" x2="57.80" y2="657.30" stroke="#111" stroke-width="1.1"/>
<text x="53.3" y="661.3" font-size="11.2" text-anchor="end" fill="#111" stroke="#111" stroke-width="0.22">0</text>
<line x1="57.80" y1="657.30" x2="57.80" y2="661.30" stroke="#111" stroke-width="1.1"/>
<text x="57.8" y="672.6" font-size="11.4" text-anchor="middle" fill="#111" stroke="#111" stroke-width="0.22">0</text>
<line x1="90.81" y1="657.30" x2="90.81" y2="661.30" stroke="#111" stroke-width="1.1"/>
<text x="90.8" y="672.6" font-size="11.4" text-anchor="middle" fill="#111" stroke="#111" stroke-width="0.22">25</text>
<line x1="123.83" y1="657.30" x2="123.83" y2="661.30" stroke="#111" stroke-width="1.1"/>
<text x="123.8" y="672.6" font-size="11.4" text-anchor="middle" fill="#111" stroke="#111" stroke-width="0.22">50</text>
<line x1="156.84" y1="657.30" x2="156.84" y2="661.30" stroke="#111" stroke-width="1.1"/>
<text x="156.8" y="672.6" font-size="11.4" text-anchor="middle" fill="#111" stroke="#111" stroke-width="0.22">75</text>
<line x1="189.85" y1="657.30" x2="189.85" y2="661.30" stroke="#111" stroke-width="1.1"/>
<text x="189.9" y="672.6" font-size="11.4" text-anchor="middle" fill="#111" stroke="#111" stroke-width="0.22">100</text>
<text x="201.4" y="672.6" font-size="12.0" text-anchor="start" fill="#111" stroke="#111" stroke-width="0.22">μM</text>
<text x="2.0" y="672.6" font-size="11.6" text-anchor="start" fill="#111" stroke="#111" stroke-width="0.22">Olaparib</text>
<text x="122.8" y="527.7" font-size="11.4" text-anchor="middle" fill="#111" stroke="#111" stroke-width="0.22">SKOV3</text>
<text x="30.3" y="594.1" font-size="12.9" text-anchor="middle" fill="#111" stroke="#111" stroke-width="0.22" transform="rotate(-90 30.3 594.1)">OD value (450 nm)</text>
<line x1="65.20" y1="534.50" x2="77.10" y2="534.50" stroke="#111" stroke-width="1.2"/>
<circle cx="71.00" cy="534.50" r="2.5" fill="#111"/>
<line x1="65.20" y1="544.70" x2="77.10" y2="544.70" stroke="#e5393c" stroke-width="1.2"/>
<rect x="68.60" y="542.30" width="4.80" height="4.80" fill="#e5393c" stroke="none" stroke-width="1"/>
<text x="81.5" y="538.1" font-size="9.8" text-anchor="start" fill="#111" stroke="#111" stroke-width="0.06">Ctr</text>
<text x="81.5" y="548.3" font-size="9.8" text-anchor="start" fill="#111" stroke="#111" stroke-width="0.06">PF-543 20μM</text>
<path d="M57.80 549.60 L90.81 557.80 L123.83 568.30 L189.85 582.00" fill="none" stroke="#111" stroke-width="1.2" stroke-linejoin="round"/>
<path d="M57.80 556.10 L90.81 578.00 L123.83 598.90 L189.85 615.90" fill="none" stroke="#e5393c" stroke-width="1.2" stroke-linejoin="round"/>
<line x1="57.80" y1="546.60" x2="57.80" y2="552.60" stroke="#111" stroke-width="1.1"/>
<line x1="55.50" y1="546.60" x2="60.10" y2="546.60" stroke="#111" stroke-width="1.1"/>
<line x1="55.50" y1="552.60" x2="60.10" y2="552.60" stroke="#111" stroke-width="1.1"/>
<circle cx="57.80" cy="549.60" r="2.7" fill="#111"/>
<line x1="90.81" y1="554.20" x2="90.81" y2="561.40" stroke="#111" stroke-width="1.1"/>
<line x1="88.51" y1="554.20" x2="93.11" y2="554.20" stroke="#111" stroke-width="1.1"/>
<line x1="88.51" y1="561.40" x2="93.11" y2="561.40" stroke="#111" stroke-width="1.1"/>
<circle cx="90.81" cy="557.80" r="2.7" fill="#111"/>
<line x1="123.83" y1="565.10" x2="123.83" y2="571.50" stroke="#111" stroke-width="1.1"/>
<line x1="121.53" y1="565.10" x2="126.12" y2="565.10" stroke="#111" stroke-width="1.1"/>
<line x1="121.53" y1="571.50" x2="126.12" y2="571.50" stroke="#111" stroke-width="1.1"/>
<circle cx="123.83" cy="568.30" r="2.7" fill="#111"/>
<line x1="189.85" y1="576.50" x2="189.85" y2="587.50" stroke="#111" stroke-width="1.1"/>
<line x1="187.55" y1="576.50" x2="192.15" y2="576.50" stroke="#111" stroke-width="1.1"/>
<line x1="187.55" y1="587.50" x2="192.15" y2="587.50" stroke="#111" stroke-width="1.1"/>
<circle cx="189.85" cy="582.00" r="2.7" fill="#111"/>
<line x1="57.80" y1="552.50" x2="57.80" y2="559.70" stroke="#e5393c" stroke-width="1.1"/>
<line x1="55.50" y1="552.50" x2="60.10" y2="552.50" stroke="#e5393c" stroke-width="1.1"/>
<line x1="55.50" y1="559.70" x2="60.10" y2="559.70" stroke="#e5393c" stroke-width="1.1"/>
<rect x="55.40" y="553.70" width="4.80" height="4.80" fill="#e5393c" stroke="none" stroke-width="1"/>
<line x1="90.81" y1="574.80" x2="90.81" y2="581.20" stroke="#e5393c" stroke-width="1.1"/>
<line x1="88.51" y1="574.80" x2="93.11" y2="574.80" stroke="#e5393c" stroke-width="1.1"/>
<line x1="88.51" y1="581.20" x2="93.11" y2="581.20" stroke="#e5393c" stroke-width="1.1"/>
<rect x="88.41" y="575.60" width="4.80" height="4.80" fill="#e5393c" stroke="none" stroke-width="1"/>
<rect x="121.42" y="596.50" width="4.80" height="4.80" fill="#e5393c" stroke="none" stroke-width="1"/>
<line x1="189.85" y1="608.50" x2="189.85" y2="623.30" stroke="#e5393c" stroke-width="1.1"/>
<line x1="187.55" y1="608.50" x2="192.15" y2="608.50" stroke="#e5393c" stroke-width="1.1"/>
<line x1="187.55" y1="623.30" x2="192.15" y2="623.30" stroke="#e5393c" stroke-width="1.1"/>
<rect x="187.45" y="613.50" width="4.80" height="4.80" fill="#e5393c" stroke="none" stroke-width="1"/>
<text x="90.7" y="600.1" font-size="18" text-anchor="middle" fill="#111" stroke="#111" stroke-width="0.45">*</text>
<text x="119.9" y="619.9" font-size="18" text-anchor="middle" fill="#111" stroke="#111" stroke-width="0.45">*</text>
<text x="127.8" y="619.9" font-size="18" text-anchor="middle" fill="#111" stroke="#111" stroke-width="0.45">*</text>
<text x="186.3" y="639.7" font-size="18" text-anchor="middle" fill="#111" stroke="#111" stroke-width="0.45">*</text>
<text x="194.2" y="639.7" font-size="18" text-anchor="middle" fill="#111" stroke="#111" stroke-width="0.45">*</text>
<text x="53.3" y="653.6" font-size="11.2" text-anchor="end" fill="#111" stroke="#111" stroke-width="0.22">0.1</text>
<line x1="57.50" y1="719.60" x2="57.50" y2="826.50" stroke="#111" stroke-width="1.3"/>
<line x1="57.50" y1="834.00" x2="57.50" y2="840.60" stroke="#111" stroke-width="1.3"/>
<line x1="55.00" y1="828.70" x2="60.00" y2="824.30" stroke="#111" stroke-width="1.1"/>
<line x1="55.00" y1="836.20" x2="60.00" y2="831.80" stroke="#111" stroke-width="1.1"/>
<line x1="56.90" y1="840.00" x2="190.60" y2="840.00" stroke="#111" stroke-width="1.3"/>
<line x1="53.50" y1="822.00" x2="57.50" y2="822.00" stroke="#111" stroke-width="1.1"/>
<text x="53.0" y="826.0" font-size="11.5" text-anchor="end" fill="#111" stroke="#111" stroke-width="0.22">0.15</text>
<line x1="53.50" y1="790.20" x2="57.50" y2="790.20" stroke="#111" stroke-width="1.1"/>
<text x="53.0" y="794.2" font-size="11.5" text-anchor="end" fill="#111" stroke="#111" stroke-width="0.22">0.20</text>
<line x1="53.50" y1="754.70" x2="57.50" y2="754.70" stroke="#111" stroke-width="1.1"/>
<text x="53.0" y="758.7" font-size="11.5" text-anchor="end" fill="#111" stroke="#111" stroke-width="0.22">0.25</text>
<line x1="53.50" y1="719.60" x2="57.50" y2="719.60" stroke="#111" stroke-width="1.1"/>
<text x="53.0" y="723.6" font-size="11.5" text-anchor="end" fill="#111" stroke="#111" stroke-width="0.22">0.30</text>
<line x1="53.50" y1="840.00" x2="57.50" y2="840.00" stroke="#111" stroke-width="1.1"/>
<text x="53.0" y="844.0" font-size="11.2" text-anchor="end" fill="#111" stroke="#111" stroke-width="0.22">0</text>
<line x1="57.50" y1="840.00" x2="57.50" y2="844.00" stroke="#111" stroke-width="1.1"/>
<text x="57.5" y="855.3" font-size="11.4" text-anchor="middle" fill="#111" stroke="#111" stroke-width="0.22">0</text>
<line x1="90.62" y1="840.00" x2="90.62" y2="844.00" stroke="#111" stroke-width="1.1"/>
<text x="90.6" y="855.3" font-size="11.4" text-anchor="middle" fill="#111" stroke="#111" stroke-width="0.22">25</text>
<line x1="123.75" y1="840.00" x2="123.75" y2="844.00" stroke="#111" stroke-width="1.1"/>
<text x="123.8" y="855.3" font-size="11.4" text-anchor="middle" fill="#111" stroke="#111" stroke-width="0.22">50</text>
<line x1="156.88" y1="840.00" x2="156.88" y2="844.00" stroke="#111" stroke-width="1.1"/>
<text x="156.9" y="855.3" font-size="11.4" text-anchor="middle" fill="#111" stroke="#111" stroke-width="0.22">75</text>
<line x1="190.00" y1="840.00" x2="190.00" y2="844.00" stroke="#111" stroke-width="1.1"/>
<text x="190.0" y="855.3" font-size="11.4" text-anchor="middle" fill="#111" stroke="#111" stroke-width="0.22">100</text>
<text x="201.5" y="855.3" font-size="12.0" text-anchor="start" fill="#111" stroke="#111" stroke-width="0.22">μM</text>
<text x="2.0" y="855.3" font-size="11.6" text-anchor="start" fill="#111" stroke="#111" stroke-width="0.22">Olaparib</text>
<text x="121.8" y="709.7" font-size="11.4" text-anchor="middle" fill="#111" stroke="#111" stroke-width="0.22">OVCAR8</text>
<text x="26.1" y="780.7" font-size="12.9" text-anchor="middle" fill="#111" stroke="#111" stroke-width="0.22" transform="rotate(-90 26.1 780.7)">OD value (450 nm)</text>
<line x1="64.90" y1="721.00" x2="76.80" y2="721.00" stroke="#111" stroke-width="1.2"/>
<circle cx="70.70" cy="721.00" r="2.5" fill="#111"/>
<line x1="64.90" y1="730.80" x2="76.80" y2="730.80" stroke="#e5393c" stroke-width="1.2"/>
<rect x="68.30" y="728.40" width="4.80" height="4.80" fill="#e5393c" stroke="none" stroke-width="1"/>
<text x="81.2" y="724.6" font-size="9.8" text-anchor="start" fill="#111" stroke="#111" stroke-width="0.06">Ctr</text>
<text x="81.2" y="734.4" font-size="9.8" text-anchor="start" fill="#111" stroke="#111" stroke-width="0.06">PF-543 20μM</text>
<path d="M57.50 734.20 L90.62 746.40 L123.75 757.30 L190.00 770.30" fill="none" stroke="#111" stroke-width="1.2" stroke-linejoin="round"/>
<path d="M57.50 740.00 L90.62 781.00 L123.75 787.80 L190.00 802.90" fill="none" stroke="#e5393c" stroke-width="1.2" stroke-linejoin="round"/>
<line x1="57.50" y1="732.20" x2="57.50" y2="736.20" stroke="#111" stroke-width="1.1"/>
<line x1="55.20" y1="732.20" x2="59.80" y2="732.20" stroke="#111" stroke-width="1.1"/>
<line x1="55.20" y1="736.20" x2="59.80" y2="736.20" stroke="#111" stroke-width="1.1"/>
<circle cx="57.50" cy="734.20" r="2.7" fill="#111"/>
<line x1="90.62" y1="739.40" x2="90.62" y2="753.40" stroke="#111" stroke-width="1.1"/>
<line x1="88.33" y1="739.40" x2="92.92" y2="739.40" stroke="#111" stroke-width="1.1"/>
<line x1="88.33" y1="753.40" x2="92.92" y2="753.40" stroke="#111" stroke-width="1.1"/>
<circle cx="90.62" cy="746.40" r="2.7" fill="#111"/>
<line x1="123.75" y1="749.40" x2="123.75" y2="765.20" stroke="#111" stroke-width="1.1"/>
<line x1="121.45" y1="749.40" x2="126.05" y2="749.40" stroke="#111" stroke-width="1.1"/>
<line x1="121.45" y1="765.20" x2="126.05" y2="765.20" stroke="#111" stroke-width="1.1"/>
<circle cx="123.75" cy="757.30" r="2.7" fill="#111"/>
<line x1="190.00" y1="766.70" x2="190.00" y2="773.90" stroke="#111" stroke-width="1.1"/>
<line x1="187.70" y1="766.70" x2="192.30" y2="766.70" stroke="#111" stroke-width="1.1"/>
<line x1="187.70" y1="773.90" x2="192.30" y2="773.90" stroke="#111" stroke-width="1.1"/>
<circle cx="190.00" cy="770.30" r="2.7" fill="#111"/>
<line x1="57.50" y1="728.20" x2="57.50" y2="751.80" stroke="#e5393c" stroke-width="1.1"/>
<line x1="55.20" y1="728.20" x2="59.80" y2="728.20" stroke="#e5393c" stroke-width="1.1"/>
<line x1="55.20" y1="751.80" x2="59.80" y2="751.80" stroke="#e5393c" stroke-width="1.1"/>
<rect x="55.10" y="737.60" width="4.80" height="4.80" fill="#e5393c" stroke="none" stroke-width="1"/>
<line x1="90.62" y1="777.80" x2="90.62" y2="784.20" stroke="#e5393c" stroke-width="1.1"/>
<line x1="88.33" y1="777.80" x2="92.92" y2="777.80" stroke="#e5393c" stroke-width="1.1"/>
<line x1="88.33" y1="784.20" x2="92.92" y2="784.20" stroke="#e5393c" stroke-width="1.1"/>
<rect x="88.22" y="778.60" width="4.80" height="4.80" fill="#e5393c" stroke="none" stroke-width="1"/>
<line x1="123.75" y1="783.20" x2="123.75" y2="792.40" stroke="#e5393c" stroke-width="1.1"/>
<line x1="121.45" y1="783.20" x2="126.05" y2="783.20" stroke="#e5393c" stroke-width="1.1"/>
<line x1="121.45" y1="792.40" x2="126.05" y2="792.40" stroke="#e5393c" stroke-width="1.1"/>
<rect x="121.35" y="785.40" width="4.80" height="4.80" fill="#e5393c" stroke="none" stroke-width="1"/>
<line x1="190.00" y1="799.30" x2="190.00" y2="806.50" stroke="#e5393c" stroke-width="1.1"/>
<line x1="187.70" y1="799.30" x2="192.30" y2="799.30" stroke="#e5393c" stroke-width="1.1"/>
<line x1="187.70" y1="806.50" x2="192.30" y2="806.50" stroke="#e5393c" stroke-width="1.1"/>
<rect x="187.60" y="800.50" width="4.80" height="4.80" fill="#e5393c" stroke="none" stroke-width="1"/>
<text x="80.9" y="800.7" font-size="18" text-anchor="middle" fill="#111" stroke="#111" stroke-width="0.45">*</text>
<text x="90.3" y="800.7" font-size="18" text-anchor="middle" fill="#111" stroke="#111" stroke-width="0.45">*</text>
<text x="99.9" y="800.7" font-size="18" text-anchor="middle" fill="#111" stroke="#111" stroke-width="0.45">*</text>
<text x="120.0" y="808.4" font-size="18" text-anchor="middle" fill="#111" stroke="#111" stroke-width="0.45">*</text>
<text x="127.3" y="808.4" font-size="18" text-anchor="middle" fill="#111" stroke="#111" stroke-width="0.45">*</text>
<text x="186.2" y="823.0" font-size="18" text-anchor="middle" fill="#111" stroke="#111" stroke-width="0.45">*</text>
<text x="193.8" y="823.0" font-size="18" text-anchor="middle" fill="#111" stroke="#111" stroke-width="0.45">*</text>
<text x="53.0" y="834.8" font-size="11.5" text-anchor="end" fill="#111" stroke="#111" stroke-width="0.22">0.15</text>
<text x="238.8" y="534.4" font-size="11.8" text-anchor="start" fill="#111" stroke="#111" stroke-width="0.22">Ola(μM)</text>
<text x="300.0" y="534.4" font-size="11.6" text-anchor="middle" fill="#111" stroke="#111" stroke-width="0.22">0</text>
<text x="364.9" y="534.4" font-size="11.6" text-anchor="middle" fill="#111" stroke="#111" stroke-width="0.22">50</text>
<text x="431.5" y="534.4" font-size="11.6" text-anchor="middle" fill="#111" stroke="#111" stroke-width="0.22">100</text>
<text x="255.4" y="606.6" font-size="11.8" text-anchor="middle" fill="#111" stroke="#111" stroke-width="0.22" transform="rotate(-90 255.4 606.6)">PF-543(μM)</text>
<circle cx="301.9" cy="576.2" r="31.2" fill="#c7c6c5"/>
<path d="M320.1 596.6h0M303.2 561.3h0M282.0 576.8h0M286.6 554.7h0M306.1 579.0h0M311.9 559.4h0M302.0 574.8h0M278.1 584.7h0M305.7 604.8h0M306.1 573.2h0M323.5 579.7h0M318.9 569.4h0M305.9 595.1h0M315.7 578.7h0M282.6 584.2h0M303.4 590.4h0M305.8 595.9h0M300.8 580.4h0M313.5 557.3h0M293.9 566.2h0M329.4 574.9h0M314.3 588.0h0M297.4 551.6h0M319.7 568.7h0M313.6 554.9h0M294.4 597.7h0M322.1 557.8h0M279.1 575.4h0M316.2 579.3h0M307.5 557.9h0M312.1 595.7h0M294.8 552.9h0M288.0 590.1h0M275.7 574.8h0M283.4 573.8h0M296.8 576.5h0M325.9 582.9h0M324.6 573.8h0M292.3 583.8h0M272.5 575.8h0M304.7 554.6h0M311.0 565.2h0M273.0 573.7h0M284.1 566.8h0M299.2 598.0h0M304.1 575.6h0M307.5 549.9h0M321.2 559.4h0M309.7 556.3h0M283.9 568.9h0M327.9 585.8h0M289.9 570.5h0M281.2 575.6h0M291.0 589.9h0M279.1 570.6h0M286.6 563.1h0M315.9 578.7h0M311.9 596.6h0M318.9 555.9h0M309.7 550.5h0" stroke="#9596d2" stroke-opacity="0.55" stroke-width="1.1" stroke-linecap="round" fill="none"/>
<g filter="url(#pblur)">
<path d="M328.3 582.6h0M320.5 595.3h0" stroke="#3838b2" stroke-width="4.2" stroke-linecap="round" fill="none"/>
<path d="M306.0 585.2h0M281.8 565.3h0" stroke="#2e2ea4" stroke-width="4.2" stroke-linecap="round" fill="none"/>
<path d="M301.8 583.8h0" stroke="#4c4ebe" stroke-width="4.2" stroke-linecap="round" fill="none"/>
<path d="M284.6 572.4h0" stroke="#6d6fc9" stroke-width="4.2" stroke-linecap="round" fill="none"/>
<path d="M307.9 568.8h0M289.9 575.6h0M296.7 554.9h0M300.9 557.7h0M299.3 593.4h0M297.9 565.4h0" stroke="#2e2ea4" stroke-width="3.2" stroke-linecap="round" fill="none"/>
<path d="M318.4 579.5h0M301.8 601.0h0M280.6 570.1h0" stroke="#4c4ebe" stroke-width="3.2" stroke-linecap="round" fill="none"/>
<path d="M295.4 568.5h0M318.2 584.5h0M276.8 571.6h0M310.5 579.2h0M286.7 589.9h0M308.9 589.3h0" stroke="#3838b2" stroke-width="3.2" stroke-linecap="round" fill="none"/>
<path d="M323.8 567.4h0M309.5 551.8h0M285.0 593.2h0" stroke="#6d6fc9" stroke-width="3.2" stroke-linecap="round" fill="none"/>
<path d="M278.2 592.8h0" stroke="#2e2ea4" stroke-width="3.0004196095319458" stroke-linecap="round" fill="none"/>
<path d="M329.3 581.5h0" stroke="#3838b2" stroke-width="2.9" stroke-linecap="round" fill="none"/>
<path d="M304.9 584.2h0" stroke="#2e2ea4" stroke-width="2.9" stroke-linecap="round" fill="none"/>
<path d="M300.4 583.4h0" stroke="#4c4ebe" stroke-width="2.9" stroke-linecap="round" fill="none"/>
<path d="M283.3 571.9h0" stroke="#6d6fc9" stroke-width="2.9" stroke-linecap="round" fill="none"/>
<path d="M278.2 592.9h0" stroke="#4c4ebe" stroke-width="2.7355260762890623" stroke-linecap="round" fill="none"/>
<path d="M301.9 586.1h0M325.5 572.8h0M306.6 551.3h0M309.3 572.5h0M310.7 555.8h0M328.0 575.9h0M325.4 584.2h0M311.9 573.6h0M318.1 555.5h0M299.0 547.9h0M288.8 562.3h0M304.9 549.3h0M317.7 598.6h0M303.3 592.1h0M309.0 558.8h0M295.3 590.4h0M280.0 570.1h0M322.7 591.9h0M311.0 585.9h0M301.9 591.8h0M301.3 583.6h0" stroke="#3838b2" stroke-width="2.5" stroke-linecap="round" fill="none"/>
<path d="M301.3 585.3h0M305.0 583.9h0M291.4 559.7h0M305.2 585.3h0M299.9 593.4h0M298.7 604.0h0M326.5 570.1h0M281.6 590.6h0M311.3 573.7h0M321.9 572.9h0M304.7 585.9h0M292.5 548.9h0" stroke="#2e2ea4" stroke-width="2.5" stroke-linecap="round" fill="none"/>
<path d="M304.7 585.9h0M310.6 558.8h0M322.0 557.7h0M316.3 576.7h0M304.9 595.2h0M313.9 574.4h0" stroke="#6d6fc9" stroke-width="2.5" stroke-linecap="round" fill="none"/>
<path d="M302.1 585.7h0M297.9 559.3h0M313.0 574.1h0M324.0 578.4h0M298.6 583.6h0" stroke="#4c4ebe" stroke-width="2.5" stroke-linecap="round" fill="none"/>
<path d="M307.4 567.9h0M288.9 575.0h0M295.8 554.1h0M302.0 558.1h0" stroke="#2e2ea4" stroke-width="2.2" stroke-linecap="round" fill="none"/>
<path d="M295.0 569.5h0M311.6 579.0h0M309.7 590.1h0" stroke="#3838b2" stroke-width="2.2" stroke-linecap="round" fill="none"/>
<path d="M309.9 552.9h0" stroke="#6d6fc9" stroke-width="2.2" stroke-linecap="round" fill="none"/>
<path d="M279.2 593.3h0" stroke="#2e2ea4" stroke-width="2.1" stroke-linecap="round" fill="none"/>
<path d="M274.9 587.9h0" stroke="#3838b2" stroke-width="1.8687038837787" stroke-linecap="round" fill="none"/>
<path d="M302.4 586.9h0M310.4 559.3h0M326.3 572.9h0M324.7 564.7h0M292.7 553.6h0M308.5 573.1h0M310.9 554.9h0M325.8 584.9h0M311.7 574.4h0M308.9 564.5h0M318.8 556.0h0M320.6 576.6h0M304.6 548.4h0M316.8 598.5h0M286.0 596.5h0M290.5 570.6h0M302.7 581.7h0M308.5 588.7h0M303.3 593.0h0M296.0 591.0h0M311.0 564.2h0M307.2 558.7h0M280.4 569.3h0M290.5 564.1h0M313.3 586.7h0M310.5 573.7h0M306.1 576.3h0M302.6 592.3h0" stroke="#3838b2" stroke-width="1.8" stroke-linecap="round" fill="none"/>
<path d="M300.8 586.0h0M292.2 559.9h0M301.2 583.9h0M283.5 575.2h0M304.8 586.1h0M300.6 594.0h0M310.6 571.9h0M297.9 559.9h0M298.7 603.1h0M297.2 564.4h0M288.1 586.8h0M295.1 573.0h0M290.5 570.7h0M315.0 576.5h0M282.2 590.0h0M311.2 572.8h0M312.0 570.4h0M283.0 565.7h0M306.8 554.0h0M316.7 578.9h0M328.7 583.1h0M322.8 572.9h0M305.3 551.8h0M308.0 570.8h0M303.9 585.5h0M316.0 594.0h0" stroke="#2e2ea4" stroke-width="1.8" stroke-linecap="round" fill="none"/>
<path d="M315.3 577.7h0M311.3 558.3h0M299.0 557.5h0M322.5 557.0h0M281.7 567.6h0" stroke="#6d6fc9" stroke-width="1.8" stroke-linecap="round" fill="none"/>
<path d="M301.5 582.6h0M302.3 586.6h0M315.2 573.9h0M299.3 584.6h0M291.8 579.9h0M290.5 570.6h0M312.2 574.0h0M307.3 581.6h0M291.0 561.5h0M289.8 551.6h0M281.0 574.3h0M312.3 576.6h0M323.3 577.8h0M283.8 565.2h0M313.4 591.7h0M323.8 566.5h0M289.2 602.5h0M279.9 558.9h0M299.5 583.4h0M305.9 584.9h0" stroke="#4c4ebe" stroke-width="1.8" stroke-linecap="round" fill="none"/>
<path d="M315.3 555.6h0M294.4 574.6h0M326.4 578.1h0M308.3 557.5h0M290.8 561.4h0M305.6 551.7h0M295.1 579.7h0M298.4 586.6h0M286.7 597.8h0M322.1 583.3h0" stroke="#2e2ea4" stroke-width="1.2" stroke-linecap="round" fill="none"/>
<path d="M302.8 582.1h0M318.4 574.9h0M287.0 595.4h0M327.7 574.8h0M307.5 552.2h0M284.3 566.4h0M290.4 571.0h0" stroke="#3838b2" stroke-width="1.2" stroke-linecap="round" fill="none"/>
<path d="M285.6 575.7h0M301.6 582.8h0M306.6 573.1h0M327.6 581.9h0M296.8 584.2h0M321.3 583.0h0" stroke="#4c4ebe" stroke-width="1.2" stroke-linecap="round" fill="none"/>
<path d="M321.0 558.3h0M299.5 559.6h0" stroke="#6d6fc9" stroke-width="1.2" stroke-linecap="round" fill="none"/>
<path d="M280.1 596.6h0" stroke="#2e2ea4" stroke-width="1.0635776309597773" stroke-linecap="round" fill="none"/>
<path d="M281.1 597.7h0" stroke="#2e2ea4" stroke-width="1.0" stroke-linecap="round" fill="none"/>
</g>
<circle cx="301.9" cy="576.2" r="31.2" fill="url(#pshade)" stroke="#96928b" stroke-width="1.0"/>
<circle cx="366.5" cy="576.2" r="31.2" fill="#cac9c8"/>
<path d="M394.3 568.3h0M374.6 579.2h0M379.5 554.3h0M358.5 561.8h0M348.3 561.9h0M356.2 570.4h0M349.6 584.1h0M361.5 547.0h0M387.3 569.4h0M352.0 581.4h0M371.3 577.3h0M350.1 579.9h0M346.1 595.4h0M344.6 572.6h0M366.9 580.8h0M361.5 586.0h0M336.9 574.3h0M360.7 564.9h0M387.3 559.8h0M363.7 548.1h0M368.6 549.9h0M348.6 599.6h0M378.1 573.4h0M367.1 551.1h0M345.5 581.4h0M338.0 578.0h0M339.4 576.1h0M349.5 598.4h0M382.8 564.3h0M340.5 564.4h0M363.1 555.8h0M369.5 592.9h0M362.7 564.7h0M379.4 567.8h0M380.5 567.5h0M390.6 569.6h0M345.1 575.6h0M353.3 557.7h0M361.4 588.7h0M337.9 574.1h0M360.7 570.5h0M377.3 553.3h0M377.4 569.1h0M366.3 569.0h0M357.6 563.5h0M370.6 603.7h0M383.4 589.5h0M375.4 564.5h0M373.3 603.2h0M344.2 587.9h0M384.0 579.8h0M378.0 597.7h0M391.7 590.6h0M391.5 580.2h0M381.4 578.2h0M371.1 565.3h0M376.5 598.8h0M361.9 580.3h0M378.0 575.5h0M383.5 580.1h0" stroke="#9596d2" stroke-opacity="0.55" stroke-width="1.1" stroke-linecap="round" fill="none"/>
<g filter="url(#pblur)">
<path d="M346.4 590.3h0M386.5 583.3h0M373.1 566.9h0M384.0 585.9h0M391.4 579.8h0M344.0 576.6h0" stroke="#4c4ebe" stroke-width="2.8" stroke-linecap="round" fill="none"/>
<path d="M351.4 597.6h0M354.2 569.2h0" stroke="#6d6fc9" stroke-width="2.8" stroke-linecap="round" fill="none"/>
<path d="M372.3 566.1h0M349.7 556.8h0M381.1 562.3h0M362.8 569.0h0" stroke="#2e2ea4" stroke-width="2.8" stroke-linecap="round" fill="none"/>
<path d="M351.1 588.7h0M353.5 569.6h0M387.3 576.9h0" stroke="#3838b2" stroke-width="2.8" stroke-linecap="round" fill="none"/>
<path d="M377.9 603.2h0" stroke="#6d6fc9" stroke-width="2.1402771402657876" stroke-linecap="round" fill="none"/>
<path d="M364.7 547.8h0M389.4 579.3h0M337.5 580.3h0M376.3 549.5h0M365.8 551.9h0M354.0 575.1h0M386.6 597.1h0M376.0 556.7h0M389.1 568.4h0M346.6 589.8h0M372.2 588.3h0M377.9 602.9h0M369.9 601.5h0" stroke="#6d6fc9" stroke-width="2.1" stroke-linecap="round" fill="none"/>
<path d="M381.1 579.1h0M383.1 591.7h0M374.1 572.9h0M384.7 564.0h0M392.4 587.9h0M383.8 579.0h0M361.2 548.9h0" stroke="#2e2ea4" stroke-width="2.1" stroke-linecap="round" fill="none"/>
<path d="M381.5 578.1h0M348.4 593.2h0M371.0 577.2h0M384.5 566.7h0M368.3 599.8h0M347.1 594.9h0M388.8 580.3h0M342.0 585.0h0M384.9 584.9h0M377.1 589.1h0M386.9 594.2h0" stroke="#3838b2" stroke-width="2.1" stroke-linecap="round" fill="none"/>
<path d="M349.6 590.0h0M368.9 597.9h0M348.5 581.6h0M352.1 561.5h0M386.9 584.1h0M348.7 553.4h0M376.6 603.4h0M382.6 596.9h0" stroke="#4c4ebe" stroke-width="2.1" stroke-linecap="round" fill="none"/>
<path d="M345.5 590.5h0M386.3 584.2h0M383.1 586.2h0M391.4 580.8h0M344.7 575.8h0" stroke="#4c4ebe" stroke-width="2.0" stroke-linecap="round" fill="none"/>
<path d="M350.8 596.9h0" stroke="#6d6fc9" stroke-width="2.0" stroke-linecap="round" fill="none"/>
<path d="M371.8 566.9h0M349.6 557.7h0M380.2 562.4h0M362.4 568.1h0" stroke="#2e2ea4" stroke-width="2.0" stroke-linecap="round" fill="none"/>
<path d="M350.4 589.4h0" stroke="#3838b2" stroke-width="2.0" stroke-linecap="round" fill="none"/>
<path d="M346.6 554.4h0" stroke="#4c4ebe" stroke-width="1.7213381175570035" stroke-linecap="round" fill="none"/>
<path d="M392.6 562.2h0" stroke="#4c4ebe" stroke-width="1.5589439436200792" stroke-linecap="round" fill="none"/>
<path d="M366.0 566.1h0M365.2 599.5h0M372.1 576.4h0M352.9 577.4h0M341.1 582.2h0M388.6 589.1h0M359.4 589.4h0M350.0 558.8h0M338.5 576.6h0M354.2 586.4h0M348.0 581.6h0M384.1 594.6h0M366.1 547.9h0M370.9 583.3h0M375.5 572.8h0M351.0 600.5h0M361.6 579.7h0M365.0 563.0h0M359.7 564.3h0" stroke="#2e2ea4" stroke-width="1.5" stroke-linecap="round" fill="none"/>
<path d="M382.5 592.7h0M348.6 576.4h0M382.0 578.9h0M395.3 583.1h0M369.2 604.1h0M361.3 549.7h0M385.9 558.7h0M357.4 571.5h0M379.4 595.1h0M370.4 588.8h0M386.9 554.8h0M342.8 582.0h0M376.4 573.6h0M384.9 572.4h0M381.8 591.3h0" stroke="#4c4ebe" stroke-width="1.5" stroke-linecap="round" fill="none"/>
<path d="M366.0 567.2h0M346.3 578.2h0M361.6 592.0h0M368.3 591.8h0M370.1 557.8h0M375.9 565.0h0" stroke="#3838b2" stroke-width="1.5" stroke-linecap="round" fill="none"/>
<path d="M373.4 552.9h0M347.7 563.0h0M370.0 562.0h0M383.9 578.9h0M367.1 556.8h0" stroke="#6d6fc9" stroke-width="1.5" stroke-linecap="round" fill="none"/>
<path d="M336.7 576.4h0" stroke="#3838b2" stroke-width="1.1632706352536104" stroke-linecap="round" fill="none"/>
<path d="M370.2 600.3h0M373.8 565.6h0M361.7 572.8h0M343.2 589.1h0M340.1 571.7h0M374.1 566.0h0M357.3 557.6h0" stroke="#2e2ea4" stroke-width="1.0" stroke-linecap="round" fill="none"/>
<path d="M364.7 547.8h0M346.1 590.3h0M360.4 556.4h0M389.6 579.9h0M379.9 594.2h0M367.8 590.0h0M353.5 563.3h0M360.5 549.0h0M373.8 553.2h0M352.7 583.4h0M343.9 565.8h0M371.8 559.3h0M369.3 565.6h0" stroke="#4c4ebe" stroke-width="1.0" stroke-linecap="round" fill="none"/>
<path d="M355.7 558.4h0M355.9 549.2h0M374.0 590.4h0M350.6 554.3h0M389.9 560.4h0M338.6 569.3h0M369.8 591.5h0M382.4 579.8h0M361.5 592.6h0M378.0 554.4h0M362.9 572.7h0M346.2 560.5h0M368.1 603.6h0M364.9 592.3h0" stroke="#6d6fc9" stroke-width="1.0" stroke-linecap="round" fill="none"/>
<path d="M368.7 596.4h0M395.9 581.6h0M344.1 563.7h0M394.9 585.7h0M375.9 582.6h0M374.7 566.6h0M367.3 573.5h0M373.4 583.7h0M372.7 566.9h0M382.6 595.6h0M363.8 551.4h0M343.5 578.0h0M344.0 563.2h0" stroke="#3838b2" stroke-width="1.0" stroke-linecap="round" fill="none"/>
</g>
<circle cx="366.5" cy="576.2" r="31.2" fill="url(#pshade)" stroke="#96928b" stroke-width="1.0"/>
<circle cx="431.0" cy="576.2" r="31.0" fill="#c5c4c3"/>
<path d="M432.6 597.9h0M415.3 592.9h0M425.7 570.8h0M457.9 578.4h0M430.2 590.5h0M451.2 575.6h0M441.5 558.8h0M423.7 567.4h0M412.8 555.6h0M405.9 572.5h0M427.5 569.6h0M432.2 553.5h0M429.4 581.1h0M444.5 561.0h0M425.6 549.1h0M424.7 548.6h0M410.1 592.4h0M404.2 585.9h0M437.7 569.8h0M440.0 586.6h0M450.0 572.0h0M419.7 564.6h0M412.7 575.4h0M417.6 594.4h0M406.8 562.0h0M419.2 550.3h0M449.2 553.2h0M425.3 565.7h0M449.6 553.9h0M449.4 563.7h0M427.9 563.0h0M442.0 556.7h0M429.4 583.5h0M448.8 552.9h0M453.4 590.1h0M421.3 582.3h0M424.0 601.1h0M435.3 571.8h0M426.3 572.1h0M427.7 559.6h0M452.4 556.3h0M401.5 575.2h0M428.0 583.8h0M426.8 573.1h0M437.1 594.0h0M422.0 568.7h0M457.5 583.4h0M419.7 602.8h0M445.4 565.2h0M410.4 581.4h0M416.9 558.3h0M409.4 567.7h0M450.6 568.5h0M408.3 586.7h0M432.3 592.3h0M452.1 573.2h0M428.0 575.3h0M411.6 587.6h0M454.0 579.1h0M426.1 570.9h0" stroke="#9596d2" stroke-opacity="0.55" stroke-width="1.1" stroke-linecap="round" fill="none"/>
<g filter="url(#pblur)">
<path d="M422.0 559.9h0" stroke="#2e2ea4" stroke-width="2.4" stroke-linecap="round" fill="none"/>
<path d="M455.7 566.8h0M450.1 568.6h0M435.8 559.1h0" stroke="#3838b2" stroke-width="2.4" stroke-linecap="round" fill="none"/>
<path d="M426.9 548.6h0" stroke="#4c4ebe" stroke-width="2.4" stroke-linecap="round" fill="none"/>
<path d="M407.6 581.4h0M452.4 571.2h0M432.4 572.6h0M443.9 593.2h0" stroke="#6d6fc9" stroke-width="1.8" stroke-linecap="round" fill="none"/>
<path d="M437.4 595.8h0M446.3 569.0h0M407.2 581.7h0M450.4 582.3h0M445.0 566.9h0M427.1 594.0h0M421.1 560.9h0" stroke="#4c4ebe" stroke-width="1.8" stroke-linecap="round" fill="none"/>
<path d="M453.9 571.0h0M425.6 590.6h0M438.8 571.2h0M408.7 591.8h0M457.8 567.1h0" stroke="#3838b2" stroke-width="1.8" stroke-linecap="round" fill="none"/>
<path d="M441.5 591.9h0M449.6 569.2h0M433.4 558.7h0M419.4 600.9h0" stroke="#2e2ea4" stroke-width="1.8" stroke-linecap="round" fill="none"/>
<path d="M456.6 566.9h0M434.9 559.1h0" stroke="#3838b2" stroke-width="1.7" stroke-linecap="round" fill="none"/>
<path d="M409.3 580.7h0M451.1 588.2h0M440.5 552.8h0M434.0 581.1h0M406.6 581.8h0M456.7 574.0h0M417.2 600.9h0M441.8 600.6h0M422.2 558.3h0M409.8 587.4h0M422.6 548.1h0M421.1 557.6h0" stroke="#3838b2" stroke-width="1.3" stroke-linecap="round" fill="none"/>
<path d="M431.7 571.4h0M430.6 603.9h0M425.4 573.7h0M441.0 577.8h0M449.8 572.3h0M417.9 551.9h0M432.8 565.3h0M430.9 603.3h0M408.6 567.1h0M423.3 595.8h0M407.9 559.2h0M456.2 564.7h0M421.0 560.7h0M438.7 593.7h0M435.3 564.9h0" stroke="#4c4ebe" stroke-width="1.3" stroke-linecap="round" fill="none"/>
<path d="M420.2 601.2h0M448.9 589.2h0M421.8 548.6h0M424.1 599.7h0M452.2 595.2h0M440.1 557.1h0M442.9 579.5h0M422.0 561.9h0M456.9 583.1h0M453.5 560.8h0" stroke="#6d6fc9" stroke-width="1.3" stroke-linecap="round" fill="none"/>
<path d="M406.2 562.5h0M454.7 570.3h0M426.1 552.1h0M443.1 601.6h0M443.8 578.7h0M423.9 557.8h0M412.2 596.3h0M428.1 582.7h0M457.1 584.4h0M446.5 584.4h0M423.0 563.3h0" stroke="#2e2ea4" stroke-width="1.3" stroke-linecap="round" fill="none"/>
<path d="M456.2 591.9h0" stroke="#4c4ebe" stroke-width="1.0" stroke-linecap="round" fill="none"/>
<path d="M407.0 581.4h0M406.9 581.7h0M435.5 598.2h0M407.8 581.4h0M434.1 597.5h0M401.9 582.2h0M458.0 583.8h0M405.1 566.1h0M403.5 579.2h0M411.9 584.3h0M421.1 573.4h0M441.9 597.1h0M407.2 575.7h0M431.4 582.8h0M408.7 561.2h0" stroke="#4c4ebe" stroke-width="0.9" stroke-linecap="round" fill="none"/>
<path d="M435.8 562.5h0M456.1 573.9h0M435.3 571.1h0M435.4 582.9h0M449.3 570.3h0M403.5 566.0h0M415.3 555.1h0M431.5 602.3h0M456.9 563.2h0M431.6 601.8h0M456.0 587.6h0M454.5 561.0h0M421.0 593.0h0" stroke="#3838b2" stroke-width="0.9" stroke-linecap="round" fill="none"/>
<path d="M441.7 586.3h0M419.8 557.8h0M408.8 566.7h0M421.3 588.1h0M419.2 572.8h0M441.9 559.6h0M414.0 582.0h0M440.4 553.2h0M430.7 586.0h0M459.6 575.7h0M434.6 581.3h0M443.1 598.6h0" stroke="#6d6fc9" stroke-width="0.9" stroke-linecap="round" fill="none"/>
<path d="M405.1 580.6h0M450.5 574.7h0M435.6 562.9h0M443.7 558.6h0M434.1 581.7h0M431.1 558.9h0" stroke="#2e2ea4" stroke-width="0.9" stroke-linecap="round" fill="none"/>
</g>
<circle cx="431.0" cy="576.2" r="31.0" fill="url(#pshade)" stroke="#96928b" stroke-width="1.0"/>
<circle cx="301.9" cy="642.0" r="31.2" fill="#cfcecd"/>
<path d="M302.7 651.5h0M292.6 649.1h0M319.1 649.6h0M325.0 628.9h0M303.2 628.1h0M286.7 638.4h0M306.4 650.6h0M308.2 669.9h0M314.6 618.5h0M306.0 629.6h0M293.3 663.9h0M298.8 614.7h0M308.3 636.0h0M282.7 627.0h0M289.4 641.5h0M293.1 643.5h0M327.2 631.0h0M286.3 637.2h0M320.8 629.8h0M322.1 623.6h0M282.8 641.0h0M286.0 630.6h0M310.6 655.9h0M304.3 636.3h0M324.4 648.7h0M297.8 663.3h0M284.8 645.1h0M315.0 641.8h0M290.5 649.0h0M291.4 630.4h0M286.1 662.2h0M292.4 662.0h0M309.7 636.7h0M315.1 647.4h0M304.1 618.8h0M303.2 659.0h0M310.7 660.1h0M325.8 648.6h0M324.9 624.3h0M299.1 613.0h0M317.8 643.8h0M327.5 636.5h0M277.5 657.4h0M282.4 623.6h0M298.4 654.5h0M291.6 645.8h0M280.5 661.7h0M300.5 644.5h0M313.6 645.4h0M305.7 624.5h0M299.6 651.0h0M321.1 639.8h0M303.8 649.0h0M313.4 646.2h0M296.8 631.7h0M322.0 647.3h0M302.1 671.7h0M317.4 657.0h0M304.7 623.2h0M322.4 640.4h0" stroke="#9596d2" stroke-opacity="0.55" stroke-width="1.1" stroke-linecap="round" fill="none"/>
<g filter="url(#pblur)">
<path d="M278.4 631.1h0M295.7 645.0h0M320.4 656.7h0M283.9 657.6h0" stroke="#3838b2" stroke-width="2.8" stroke-linecap="round" fill="none"/>
<path d="M324.2 633.3h0M307.5 665.7h0" stroke="#4c4ebe" stroke-width="2.8" stroke-linecap="round" fill="none"/>
<path d="M295.1 644.7h0M297.3 640.6h0M287.1 642.9h0" stroke="#2e2ea4" stroke-width="2.8" stroke-linecap="round" fill="none"/>
<path d="M327.1 641.4h0M310.1 637.0h0M311.2 638.5h0M285.9 637.2h0M323.5 652.0h0" stroke="#6d6fc9" stroke-width="2.8" stroke-linecap="round" fill="none"/>
<path d="M286.8 620.0h0M285.5 617.8h0M320.0 625.7h0M296.7 648.8h0M307.0 665.5h0M315.6 656.3h0M278.6 652.1h0M316.3 620.9h0M289.9 620.3h0M281.8 628.5h0M324.1 658.1h0M311.5 636.9h0M314.6 666.5h0" stroke="#4c4ebe" stroke-width="2.1" stroke-linecap="round" fill="none"/>
<path d="M295.6 643.6h0M322.1 660.0h0M316.0 633.2h0M306.9 670.5h0M312.9 656.2h0M312.6 629.5h0M303.7 645.6h0M322.8 626.6h0M282.1 628.8h0M296.7 659.3h0M329.2 631.4h0M306.0 653.7h0M302.8 615.4h0M300.8 644.0h0M318.3 630.8h0M308.2 652.8h0M295.9 660.9h0" stroke="#6d6fc9" stroke-width="2.1" stroke-linecap="round" fill="none"/>
<path d="M278.0 637.7h0M316.7 643.7h0M313.1 647.1h0M282.1 655.1h0M308.3 649.3h0M290.8 667.6h0M303.6 621.5h0M311.6 644.2h0M297.0 668.8h0M300.2 653.6h0M307.1 614.9h0M295.2 642.5h0M297.5 629.9h0" stroke="#3838b2" stroke-width="2.1" stroke-linecap="round" fill="none"/>
<path d="M303.3 620.2h0M310.2 662.5h0M301.8 655.4h0M307.7 637.8h0" stroke="#2e2ea4" stroke-width="2.1" stroke-linecap="round" fill="none"/>
<path d="M279.3 630.6h0M283.3 658.4h0" stroke="#3838b2" stroke-width="2.0" stroke-linecap="round" fill="none"/>
<path d="M323.3 632.9h0M306.8 665.0h0" stroke="#4c4ebe" stroke-width="2.0" stroke-linecap="round" fill="none"/>
<path d="M294.5 643.9h0M296.3 640.6h0" stroke="#2e2ea4" stroke-width="2.0" stroke-linecap="round" fill="none"/>
<path d="M327.7 640.6h0M285.4 638.0h0" stroke="#6d6fc9" stroke-width="2.0" stroke-linecap="round" fill="none"/>
<path d="M322.4 663.2h0" stroke="#2e2ea4" stroke-width="1.7514956323099824" stroke-linecap="round" fill="none"/>
<path d="M309.5 613.5h0" stroke="#6d6fc9" stroke-width="1.7071211399700559" stroke-linecap="round" fill="none"/>
<path d="M328.3 655.3h0" stroke="#4c4ebe" stroke-width="1.6737131333235595" stroke-linecap="round" fill="none"/>
<path d="M297.0 645.1h0M280.6 637.5h0M294.4 641.2h0M330.3 641.4h0M330.6 639.8h0M313.0 628.9h0M296.4 640.3h0M314.5 621.2h0M321.3 636.4h0M296.4 654.6h0M307.7 641.6h0M288.5 620.8h0M328.3 630.5h0M281.1 627.1h0" stroke="#3838b2" stroke-width="1.5" stroke-linecap="round" fill="none"/>
<path d="M300.0 646.3h0M309.3 665.5h0M293.2 635.0h0M279.3 635.4h0M296.8 640.5h0M320.7 627.5h0M301.2 637.5h0M313.4 644.3h0M324.3 654.3h0M318.9 646.9h0M280.4 638.8h0M272.9 643.8h0M302.9 654.9h0M312.4 657.6h0M278.9 641.3h0M317.1 616.8h0" stroke="#6d6fc9" stroke-width="1.5" stroke-linecap="round" fill="none"/>
<path d="M323.4 662.0h0M282.6 664.0h0M298.2 620.0h0M304.5 650.8h0M293.1 636.6h0M292.5 633.0h0M295.7 642.0h0M302.0 661.9h0" stroke="#2e2ea4" stroke-width="1.5" stroke-linecap="round" fill="none"/>
<path d="M318.6 662.4h0M314.8 667.1h0M282.2 639.3h0M304.4 664.2h0M295.2 652.5h0M317.2 620.0h0M297.0 640.5h0M299.5 667.3h0M274.5 637.4h0M301.6 644.6h0M295.2 624.5h0M309.0 641.4h0" stroke="#4c4ebe" stroke-width="1.5" stroke-linecap="round" fill="none"/>
<path d="M323.9 661.9h0" stroke="#4c4ebe" stroke-width="1.4479955581769133" stroke-linecap="round" fill="none"/>
<path d="M282.3 664.5h0" stroke="#6d6fc9" stroke-width="1.1148144720696962" stroke-linecap="round" fill="none"/>
<path d="M277.6 624.7h0" stroke="#3838b2" stroke-width="1.0897471379377563" stroke-linecap="round" fill="none"/>
<path d="M296.6 642.0h0M281.1 663.5h0M322.0 626.8h0M284.1 657.0h0M296.7 641.6h0M324.4 630.2h0M287.4 662.1h0M298.3 670.4h0M315.3 651.6h0M296.5 642.6h0M289.3 641.6h0M327.0 633.7h0M321.2 626.8h0M316.7 659.8h0" stroke="#3838b2" stroke-width="1.0" stroke-linecap="round" fill="none"/>
<path d="M297.1 641.2h0M282.0 664.3h0M303.8 612.5h0M299.0 643.8h0M312.1 643.4h0M288.7 630.1h0M299.9 644.2h0M302.3 665.7h0M294.2 634.8h0M282.0 654.8h0M280.0 662.3h0M275.6 639.7h0M275.8 636.5h0" stroke="#4c4ebe" stroke-width="1.0" stroke-linecap="round" fill="none"/>
<path d="M281.7 623.5h0M325.1 647.5h0M301.9 655.4h0M285.0 625.4h0M317.5 625.2h0M324.1 631.4h0M284.6 650.1h0M292.1 639.8h0M315.5 622.4h0M282.1 631.0h0M319.6 624.6h0M298.1 659.0h0M277.9 655.6h0M313.2 629.9h0M290.3 638.7h0M319.9 637.5h0M326.1 630.0h0M284.6 662.3h0M289.5 661.0h0M301.8 613.7h0M320.2 653.0h0M294.2 644.5h0" stroke="#6d6fc9" stroke-width="1.0" stroke-linecap="round" fill="none"/>
<path d="M331.1 645.5h0M315.5 664.2h0M323.1 652.6h0M310.5 637.1h0" stroke="#2e2ea4" stroke-width="1.0" stroke-linecap="round" fill="none"/>
</g>
<circle cx="301.9" cy="642.0" r="31.2" fill="url(#pshade)" stroke="#96928b" stroke-width="1.0"/>
<circle cx="366.5" cy="642.0" r="31.2" fill="#d2d1d0"/>
<path d="M348.2 624.2h0M374.6 614.3h0M364.7 613.5h0M386.4 645.7h0M388.9 633.7h0M374.6 636.2h0M352.0 644.8h0M344.8 635.9h0M380.3 643.1h0M361.3 669.9h0M367.7 630.2h0M369.7 631.4h0M358.7 634.9h0M394.2 642.3h0M370.0 655.3h0M394.1 638.9h0M359.4 670.2h0M342.8 636.0h0M374.6 669.7h0M355.9 614.8h0M379.2 631.9h0M358.7 651.3h0M371.1 648.0h0M359.2 663.9h0M390.9 642.5h0M357.8 656.1h0M375.1 623.3h0M358.2 660.9h0M364.5 635.2h0M370.9 641.3h0M366.5 614.7h0M392.7 645.0h0M351.4 658.8h0M372.9 642.4h0M378.7 668.3h0M375.0 666.4h0M392.6 629.7h0M356.6 656.7h0M340.7 638.0h0M386.5 658.1h0M374.6 615.7h0M394.6 648.6h0M381.1 651.4h0M344.7 623.7h0M351.2 666.1h0M350.6 637.4h0M361.4 653.4h0M376.6 647.4h0M355.4 614.5h0M370.0 647.6h0M388.1 640.2h0M354.5 650.1h0M344.1 627.0h0M348.0 647.3h0M393.2 651.7h0M386.9 646.3h0M372.2 632.9h0M363.2 613.2h0M348.5 622.7h0M381.8 654.2h0" stroke="#9596d2" stroke-opacity="0.55" stroke-width="1.1" stroke-linecap="round" fill="none"/>
<g filter="url(#pblur)">
<path d="M377.7 656.7h0" stroke="#6d6fc9" stroke-width="2.8" stroke-linecap="round" fill="none"/>
<path d="M379.8 650.7h0" stroke="#2e2ea4" stroke-width="2.8" stroke-linecap="round" fill="none"/>
<path d="M352.5 626.6h0M361.5 664.7h0M348.7 620.3h0M348.7 658.5h0" stroke="#3838b2" stroke-width="2.8" stroke-linecap="round" fill="none"/>
<path d="M342.0 651.5h0M380.1 650.1h0M345.3 651.2h0" stroke="#4c4ebe" stroke-width="2.8" stroke-linecap="round" fill="none"/>
<path d="M346.4 648.0h0M362.5 662.5h0M385.6 634.1h0M370.2 635.2h0M365.4 629.3h0M373.1 623.4h0M363.3 658.5h0M378.2 654.3h0M364.8 649.4h0M344.7 639.6h0" stroke="#4c4ebe" stroke-width="2.1" stroke-linecap="round" fill="none"/>
<path d="M379.8 650.3h0M370.4 617.3h0M369.4 645.6h0M338.8 638.8h0M365.2 622.9h0M392.1 634.5h0M360.9 658.9h0M377.4 617.4h0M361.2 662.5h0M379.7 630.4h0M370.1 657.9h0" stroke="#6d6fc9" stroke-width="2.1" stroke-linecap="round" fill="none"/>
<path d="M361.7 624.0h0M362.9 660.8h0M360.2 665.8h0M363.5 627.7h0M353.5 625.3h0M391.6 633.7h0M348.6 649.7h0M342.6 648.4h0M345.7 639.9h0" stroke="#2e2ea4" stroke-width="2.1" stroke-linecap="round" fill="none"/>
<path d="M364.6 614.6h0M363.0 641.0h0M360.1 625.2h0M370.6 640.9h0M378.3 662.7h0M380.1 617.4h0M362.1 650.5h0M378.2 666.9h0M384.0 654.5h0M361.3 638.6h0M382.1 617.1h0M350.8 646.7h0" stroke="#3838b2" stroke-width="2.1" stroke-linecap="round" fill="none"/>
<path d="M379.6 651.6h0" stroke="#2e2ea4" stroke-width="2.0" stroke-linecap="round" fill="none"/>
<path d="M353.0 625.8h0M361.2 663.7h0" stroke="#3838b2" stroke-width="2.0" stroke-linecap="round" fill="none"/>
<path d="M381.1 650.4h0" stroke="#4c4ebe" stroke-width="2.0" stroke-linecap="round" fill="none"/>
<path d="M375.6 628.5h0M340.1 648.3h0M364.4 614.8h0M393.6 637.4h0M382.6 626.2h0M360.8 652.3h0M394.3 647.9h0M345.4 646.1h0M375.4 653.7h0M390.6 637.3h0M389.6 625.6h0M381.9 655.9h0" stroke="#6d6fc9" stroke-width="1.5" stroke-linecap="round" fill="none"/>
<path d="M395.5 637.6h0M360.1 650.7h0M394.5 637.4h0M337.9 640.9h0M349.9 634.0h0M367.2 621.3h0M345.3 640.2h0M368.2 642.7h0M345.2 650.0h0M380.8 624.1h0" stroke="#4c4ebe" stroke-width="1.5" stroke-linecap="round" fill="none"/>
<path d="M374.2 663.6h0M365.8 668.0h0M353.1 630.4h0M353.7 645.1h0M341.0 628.1h0M346.0 641.2h0M352.1 665.6h0M345.6 628.6h0M372.9 663.0h0" stroke="#2e2ea4" stroke-width="1.5" stroke-linecap="round" fill="none"/>
<path d="M394.4 637.6h0M365.5 661.9h0M376.8 657.5h0M375.4 647.7h0M371.3 631.9h0M359.2 649.3h0M344.3 648.0h0M362.8 664.6h0M387.5 660.9h0M366.4 658.8h0" stroke="#3838b2" stroke-width="1.5" stroke-linecap="round" fill="none"/>
<path d="M353.0 623.5h0M395.5 637.0h0M361.7 638.9h0M372.0 613.9h0M354.6 666.0h0M353.3 635.1h0M359.7 652.4h0M384.5 654.3h0M393.4 636.1h0M380.1 632.7h0M380.2 650.9h0M361.2 632.9h0M381.1 631.6h0" stroke="#4c4ebe" stroke-width="1.0" stroke-linecap="round" fill="none"/>
<path d="M375.2 629.0h0M361.8 656.3h0M371.8 614.6h0M391.6 641.7h0M351.6 625.3h0M344.6 646.2h0M393.8 654.2h0M366.5 641.7h0M369.4 632.1h0M367.4 659.8h0M352.5 629.2h0M394.9 635.2h0M348.5 648.9h0M359.6 641.3h0M357.5 635.6h0M381.4 653.7h0M348.7 618.0h0" stroke="#6d6fc9" stroke-width="1.0" stroke-linecap="round" fill="none"/>
<path d="M390.7 634.5h0M377.1 649.0h0M361.0 651.8h0M395.1 633.3h0M357.5 643.0h0M377.0 633.0h0M380.5 658.5h0M385.9 634.1h0M393.5 644.5h0M364.2 625.1h0M355.4 620.5h0M337.2 641.5h0" stroke="#3838b2" stroke-width="1.0" stroke-linecap="round" fill="none"/>
<path d="M392.0 638.4h0M393.7 635.8h0M365.3 623.2h0M366.0 662.2h0M343.9 625.9h0M340.6 650.6h0M358.5 649.3h0M393.6 646.3h0M395.3 644.6h0M375.9 639.9h0M389.1 625.0h0M369.4 645.6h0M386.8 620.6h0M368.4 666.4h0M383.6 654.7h0M373.0 650.3h0" stroke="#2e2ea4" stroke-width="1.0" stroke-linecap="round" fill="none"/>
</g>
<circle cx="366.5" cy="642.0" r="31.2" fill="url(#pshade)" stroke="#96928b" stroke-width="1.0"/>
<circle cx="431.2" cy="642.3" r="31.0" fill="#dad9d6"/>
<path d="M438.4 616.5h0M416.2 643.7h0M455.2 642.4h0M405.9 647.1h0M413.1 660.8h0M427.4 668.4h0M428.8 623.5h0M407.5 636.5h0M438.9 662.9h0M436.4 628.0h0M439.2 619.2h0M440.7 628.1h0M453.2 656.9h0M437.8 623.8h0M442.1 649.6h0M420.7 630.4h0M452.8 635.5h0M438.5 665.1h0M413.0 664.2h0M449.0 630.9h0M416.0 622.9h0M441.2 614.9h0M448.7 645.5h0M418.1 632.6h0M423.7 637.6h0M446.8 627.7h0M449.0 658.4h0M426.2 654.4h0M420.3 643.4h0M438.0 668.9h0" stroke="#9596d2" stroke-opacity="0.55" stroke-width="1.1" stroke-linecap="round" fill="none"/>
<g filter="url(#pblur)">
<path d="M417.9 655.2h0M403.8 634.5h0" stroke="#2e2ea4" stroke-width="2.4" stroke-linecap="round" fill="none"/>
<path d="M419.1 668.5h0M447.0 654.4h0" stroke="#6d6fc9" stroke-width="2.4" stroke-linecap="round" fill="none"/>
<path d="M422.0 617.4h0M446.8 652.1h0M412.0 629.7h0M407.6 645.1h0M420.2 621.2h0" stroke="#6d6fc9" stroke-width="1.8" stroke-linecap="round" fill="none"/>
<path d="M425.7 671.1h0M417.4 665.3h0" stroke="#2e2ea4" stroke-width="1.8" stroke-linecap="round" fill="none"/>
<path d="M415.8 644.2h0M431.1 653.2h0M413.6 658.0h0M426.9 662.8h0M431.5 653.7h0" stroke="#3838b2" stroke-width="1.8" stroke-linecap="round" fill="none"/>
<path d="M418.8 622.3h0" stroke="#4c4ebe" stroke-width="1.8" stroke-linecap="round" fill="none"/>
<path d="M417.8 654.4h0" stroke="#2e2ea4" stroke-width="1.7" stroke-linecap="round" fill="none"/>
<path d="M432.1 671.8h0M405.7 635.3h0M405.3 649.6h0M403.9 646.9h0M443.7 654.8h0M419.4 666.0h0M430.5 664.2h0M414.1 626.5h0M409.4 658.4h0" stroke="#6d6fc9" stroke-width="1.3" stroke-linecap="round" fill="none"/>
<path d="M426.0 624.0h0M433.3 646.2h0M420.9 669.2h0M415.3 628.8h0M418.8 655.5h0M422.5 617.5h0M403.6 644.5h0" stroke="#3838b2" stroke-width="1.3" stroke-linecap="round" fill="none"/>
<path d="M424.8 635.6h0M409.9 623.4h0M453.7 654.2h0M441.1 646.7h0M411.8 654.4h0M426.5 670.1h0M436.2 660.8h0M429.4 640.4h0M447.4 659.6h0" stroke="#4c4ebe" stroke-width="1.3" stroke-linecap="round" fill="none"/>
<path d="M450.4 651.9h0M456.4 648.7h0M420.6 618.3h0M405.6 646.9h0" stroke="#2e2ea4" stroke-width="1.3" stroke-linecap="round" fill="none"/>
<path d="M410.7 663.8h0" stroke="#2e2ea4" stroke-width="1.0041946662756658" stroke-linecap="round" fill="none"/>
<path d="M407.4 660.1h0" stroke="#4c4ebe" stroke-width="1.0" stroke-linecap="round" fill="none"/>
<path d="M457.4 644.4h0M405.3 651.2h0M456.7 631.9h0M416.4 647.4h0M405.2 639.0h0M406.5 629.8h0M429.4 665.7h0M402.5 645.3h0M429.3 668.4h0M411.6 624.9h0" stroke="#6d6fc9" stroke-width="0.9" stroke-linecap="round" fill="none"/>
<path d="M410.8 645.6h0M407.5 630.7h0M418.1 633.9h0M438.0 656.0h0M431.3 671.2h0M423.9 670.1h0M426.8 645.5h0M416.5 640.1h0M451.4 660.0h0" stroke="#3838b2" stroke-width="0.9" stroke-linecap="round" fill="none"/>
<path d="M414.7 658.6h0M421.9 644.1h0M414.3 659.8h0M410.5 661.9h0M442.9 668.5h0M408.3 636.6h0M430.6 670.7h0M414.6 619.7h0M412.7 663.9h0M434.0 616.3h0M439.5 668.6h0M421.5 641.8h0M421.0 633.7h0M410.4 657.4h0" stroke="#4c4ebe" stroke-width="0.9" stroke-linecap="round" fill="none"/>
<path d="M418.5 662.0h0M441.7 645.9h0M434.6 643.1h0M423.3 642.9h0M412.6 664.5h0M457.8 644.9h0M404.1 639.6h0M416.4 652.2h0M413.2 629.5h0" stroke="#2e2ea4" stroke-width="0.9" stroke-linecap="round" fill="none"/>
</g>
<circle cx="431.2" cy="642.3" r="31.0" fill="url(#pshade)" stroke="#96928b" stroke-width="1.0"/>
<text x="268.5" y="575.8" font-size="11.6" text-anchor="end" fill="#111" stroke="#111" stroke-width="0.22">0</text>
<text x="268.5" y="643.5" font-size="11.6" text-anchor="end" fill="#111" stroke="#111" stroke-width="0.22">20</text>
<text x="238.8" y="721.8" font-size="11.8" text-anchor="start" fill="#111" stroke="#111" stroke-width="0.22">Ola(μM)</text>
<text x="303.6" y="721.8" font-size="11.6" text-anchor="middle" fill="#111" stroke="#111" stroke-width="0.22">0</text>
<text x="373.7" y="721.8" font-size="11.6" text-anchor="middle" fill="#111" stroke="#111" stroke-width="0.22">25</text>
<text x="439.5" y="721.8" font-size="11.6" text-anchor="middle" fill="#111" stroke="#111" stroke-width="0.22">50</text>
<text x="255.4" y="795.4" font-size="11.8" text-anchor="middle" fill="#111" stroke="#111" stroke-width="0.22" transform="rotate(-90 255.4 795.4)">PF-543(μM)</text>
<circle cx="307.0" cy="759.6" r="31.6" fill="#c9c8c6"/>
<path d="M285.5 766.2h0M325.3 750.2h0M284.0 758.5h0M315.6 779.3h0M288.6 740.1h0M320.8 768.8h0M329.8 774.2h0M304.9 753.8h0M336.4 756.3h0M293.6 740.2h0M309.0 762.7h0M299.8 758.3h0M312.4 773.4h0M327.1 763.5h0M281.3 769.7h0M283.1 756.7h0M282.5 759.6h0M291.7 763.8h0M337.0 759.2h0M320.6 738.2h0M301.2 772.8h0M305.1 767.3h0M308.9 740.7h0M317.7 744.2h0M333.7 752.4h0M320.8 759.6h0M324.4 748.6h0M325.8 757.3h0M328.4 770.2h0M309.8 744.2h0M321.8 768.6h0M332.5 753.7h0M318.0 769.7h0M312.9 764.0h0M310.7 747.5h0M288.2 752.3h0M316.4 783.6h0M323.4 777.3h0M321.5 772.7h0M310.6 774.8h0M333.5 754.7h0M297.6 786.3h0M311.6 777.9h0M321.7 740.5h0M331.2 777.2h0M310.5 774.5h0M309.5 742.5h0M304.7 767.4h0M326.4 771.9h0M308.0 782.9h0M293.0 774.2h0M327.2 754.3h0M282.0 746.9h0M311.8 770.4h0M329.8 744.8h0M307.0 772.7h0M305.1 730.5h0M316.7 787.3h0M324.3 743.8h0M298.5 764.2h0M335.7 766.7h0M308.8 784.8h0M305.8 786.9h0M293.6 750.3h0M318.5 782.4h0M320.1 765.6h0M281.1 749.5h0M295.0 749.1h0M318.8 752.9h0M322.5 761.2h0M300.0 762.1h0M315.2 776.0h0M297.2 754.8h0M288.6 781.2h0M331.2 756.6h0M298.7 738.1h0M310.6 764.0h0M335.5 762.8h0M298.0 731.5h0M330.8 762.8h0M281.4 762.5h0M294.4 786.9h0M326.8 769.7h0M304.7 731.1h0M305.0 734.4h0M314.7 731.9h0M292.1 779.6h0M329.8 743.2h0M283.8 772.9h0M321.9 742.4h0M293.8 746.4h0M286.6 747.9h0M328.1 771.2h0M335.2 758.4h0M304.4 741.0h0M304.8 736.8h0M281.3 769.7h0M329.5 772.7h0M329.9 763.9h0M292.7 761.3h0M300.2 739.5h0M285.3 740.6h0M306.9 762.8h0M299.2 783.1h0M310.6 771.4h0M327.3 745.9h0M280.4 769.7h0M295.6 781.3h0M313.3 778.3h0M316.9 732.6h0M320.6 746.8h0M292.3 751.2h0M320.9 775.6h0M321.4 735.9h0M299.9 731.1h0M304.9 771.8h0M292.0 764.4h0M311.3 778.5h0M292.1 744.6h0M296.0 784.9h0M327.1 757.3h0M311.8 762.0h0M311.3 755.2h0M301.2 737.6h0M297.3 784.6h0M318.0 760.9h0M302.5 760.9h0M314.0 746.7h0M311.1 764.6h0M293.2 745.0h0M290.3 741.8h0M317.4 732.0h0M301.6 747.3h0M294.4 761.6h0M327.6 761.0h0M304.2 747.2h0M304.5 777.1h0M299.9 739.1h0M287.3 742.4h0M286.0 776.2h0M314.4 754.7h0M330.3 749.1h0M320.9 774.4h0M286.8 739.2h0M290.8 775.5h0M326.5 741.1h0M326.3 752.6h0M299.1 748.5h0M302.2 732.8h0M290.9 739.8h0M313.5 787.4h0M336.5 756.0h0M281.0 753.4h0M294.7 785.6h0M318.0 745.6h0M324.3 769.5h0M281.9 751.4h0M301.9 760.0h0M309.8 752.5h0M310.9 747.7h0M293.4 782.6h0M314.4 768.6h0M281.5 756.9h0M320.4 738.5h0M326.9 752.5h0M315.4 756.8h0M310.9 781.1h0M300.6 784.5h0M293.0 742.9h0M319.5 740.9h0M300.0 776.8h0M323.1 736.0h0M314.2 786.4h0M328.4 755.3h0M294.9 753.6h0M286.2 754.8h0M303.0 756.5h0M328.2 755.5h0M285.1 775.4h0M287.5 751.5h0M304.2 752.4h0M288.2 754.9h0M334.9 751.9h0M304.5 780.2h0M320.8 773.8h0M318.5 733.4h0M290.2 762.1h0M315.5 781.7h0M316.7 754.7h0M307.8 755.1h0M311.9 773.1h0M300.4 743.8h0M292.4 778.3h0M327.3 775.4h0M322.4 774.6h0M307.0 773.0h0M287.5 755.8h0M293.3 773.2h0M295.2 757.4h0M313.8 782.5h0M292.9 742.9h0M321.0 740.7h0M316.0 748.2h0M305.4 732.5h0M320.9 749.9h0M295.5 786.1h0M313.0 789.1h0M315.4 752.4h0M308.7 785.2h0M306.4 769.0h0M316.6 742.6h0M309.7 749.3h0M286.6 773.9h0M320.4 761.1h0M295.2 733.4h0M317.0 757.6h0M280.8 758.7h0M282.1 759.2h0M310.0 767.0h0M311.6 763.2h0" stroke="#9596d2" stroke-opacity="0.55" stroke-width="1.1" stroke-linecap="round" fill="none"/>
<g filter="url(#pblur)">
<path d="M296.6 749.3h0M300.6 783.3h0M298.3 733.0h0M298.6 770.1h0M310.8 730.7h0M287.0 751.8h0M326.1 749.8h0M335.3 757.2h0M324.5 774.2h0M298.3 769.0h0M328.3 742.3h0" stroke="#3838b2" stroke-width="2.4" stroke-linecap="round" fill="none"/>
<path d="M282.9 757.1h0M318.2 786.1h0M336.1 761.3h0M286.2 765.4h0M291.0 783.5h0M333.6 746.9h0M324.1 753.3h0M301.8 770.9h0M319.3 738.0h0M305.9 731.5h0M280.3 751.8h0M292.9 748.5h0M299.5 750.7h0M297.4 776.0h0M320.9 746.7h0M280.1 765.0h0" stroke="#2e2ea4" stroke-width="2.4" stroke-linecap="round" fill="none"/>
<path d="M286.1 743.9h0M314.2 742.7h0M298.3 731.5h0M318.8 786.2h0M318.3 740.9h0M306.2 769.3h0M296.5 782.0h0" stroke="#6d6fc9" stroke-width="2.4" stroke-linecap="round" fill="none"/>
<path d="M319.7 747.5h0M281.0 756.2h0M314.8 768.8h0M283.9 741.5h0M304.1 756.1h0M319.6 752.0h0M326.7 763.0h0M330.3 752.3h0M334.3 748.8h0M282.9 775.3h0M314.4 765.0h0" stroke="#4c4ebe" stroke-width="2.4" stroke-linecap="round" fill="none"/>
<path d="M278.8 750.2h0" stroke="#6d6fc9" stroke-width="2.0771961638820073" stroke-linecap="round" fill="none"/>
<path d="M332.4 761.7h0M330.6 763.0h0M300.6 766.5h0M319.5 766.1h0M329.6 762.2h0M278.8 754.6h0M325.6 761.0h0M317.2 736.6h0M320.2 744.9h0M314.8 754.2h0M280.5 753.0h0M320.9 768.1h0M319.1 755.8h0M292.4 765.2h0M288.5 764.0h0M294.4 742.7h0M293.7 771.4h0M298.0 775.1h0M295.4 732.1h0M334.4 757.7h0M286.1 775.3h0M301.7 747.7h0M292.1 742.5h0M320.1 755.5h0M296.5 735.5h0M296.2 743.2h0M318.2 755.2h0M331.4 766.6h0M287.5 782.0h0M312.2 754.2h0M311.0 747.5h0M334.6 750.1h0M321.4 753.3h0M310.3 744.9h0M283.9 747.4h0M286.7 774.1h0M299.0 732.8h0M295.7 733.0h0M326.9 740.2h0M281.6 748.3h0M300.3 773.6h0M279.5 753.0h0M291.2 769.6h0M279.6 750.7h0M287.1 767.8h0M310.7 732.2h0M328.1 749.7h0M297.0 752.1h0M297.0 750.0h0M298.5 736.5h0M313.5 743.0h0M283.3 770.3h0" stroke="#2e2ea4" stroke-width="1.8" stroke-linecap="round" fill="none"/>
<path d="M331.1 744.1h0M299.3 733.1h0M328.1 751.6h0M334.8 758.7h0M301.5 763.8h0M317.5 756.7h0M329.3 741.1h0M320.7 759.4h0M287.8 739.5h0M324.3 751.9h0M290.3 763.3h0M326.1 758.7h0M327.6 755.7h0M301.9 761.1h0M291.5 735.8h0M289.6 756.7h0M303.7 773.6h0M322.2 765.5h0M279.8 747.5h0M309.7 763.6h0M289.0 737.2h0M318.5 762.2h0M316.6 777.9h0M307.9 762.7h0M312.7 732.4h0M317.1 745.6h0M283.8 743.2h0M330.1 743.9h0M320.7 768.4h0M333.4 764.2h0M315.4 732.2h0M322.2 736.1h0M332.5 745.8h0M300.3 743.2h0M280.3 749.2h0M315.6 773.1h0" stroke="#3838b2" stroke-width="1.8" stroke-linecap="round" fill="none"/>
<path d="M316.2 762.3h0M329.9 769.5h0M298.2 733.9h0M301.0 777.3h0M331.2 760.2h0M316.1 733.5h0M314.0 773.9h0M327.2 764.8h0M282.6 747.5h0M314.9 759.6h0M290.8 735.1h0M294.3 748.0h0M310.0 736.1h0M288.7 777.1h0M278.9 750.2h0M332.2 748.2h0" stroke="#6d6fc9" stroke-width="1.8" stroke-linecap="round" fill="none"/>
<path d="M295.2 754.7h0M286.6 772.3h0M331.4 768.3h0M305.8 741.6h0M319.6 749.0h0M323.6 766.0h0M305.7 746.9h0M283.1 775.9h0M301.2 752.5h0M329.0 761.1h0M295.8 754.5h0M318.9 760.4h0M335.3 750.1h0M289.1 754.6h0M296.7 738.9h0M285.5 743.7h0M322.5 737.3h0M298.4 738.3h0M311.4 731.7h0M320.6 738.1h0M329.7 745.6h0M324.8 740.9h0M296.0 769.4h0M322.4 783.8h0" stroke="#4c4ebe" stroke-width="1.8" stroke-linecap="round" fill="none"/>
<path d="M335.3 769.3h0" stroke="#4c4ebe" stroke-width="1.7764605155744206" stroke-linecap="round" fill="none"/>
<path d="M326.5 782.3h0" stroke="#3838b2" stroke-width="1.7711365145086049" stroke-linecap="round" fill="none"/>
<path d="M296.1 748.6h0M298.6 733.8h0M287.9 751.8h0M327.0 749.9h0M336.1 757.3h0M298.1 768.2h0M328.4 741.4h0" stroke="#3838b2" stroke-width="1.7" stroke-linecap="round" fill="none"/>
<path d="M283.4 757.8h0M318.2 785.3h0M335.3 761.7h0M334.2 747.5h0M324.9 753.1h0M318.9 737.3h0M305.8 730.6h0M280.1 752.6h0M293.6 748.9h0M300.4 750.5h0M298.3 776.1h0" stroke="#2e2ea4" stroke-width="1.7" stroke-linecap="round" fill="none"/>
<path d="M320.2 748.2h0M281.0 757.1h0M314.2 769.5h0M284.5 742.1h0M304.9 756.2h0M325.9 763.2h0M334.3 749.7h0M313.6 765.1h0" stroke="#4c4ebe" stroke-width="1.7" stroke-linecap="round" fill="none"/>
<path d="M302.5 729.9h0" stroke="#2e2ea4" stroke-width="1.591127382566981" stroke-linecap="round" fill="none"/>
<path d="M327.4 737.6h0" stroke="#6d6fc9" stroke-width="1.5110206294732578" stroke-linecap="round" fill="none"/>
<path d="M297.8 731.0h0" stroke="#3838b2" stroke-width="1.4189194536294139" stroke-linecap="round" fill="none"/>
<path d="M326.5 782.5h0" stroke="#2e2ea4" stroke-width="1.363309091820959" stroke-linecap="round" fill="none"/>
<path d="M276.9 758.8h0" stroke="#2e2ea4" stroke-width="1.3288201971340854" stroke-linecap="round" fill="none"/>
<path d="M308.6 742.3h0M320.8 742.0h0M310.1 731.7h0M312.9 776.8h0M310.6 731.1h0M301.5 761.8h0M299.6 736.7h0M315.2 742.6h0M302.6 773.6h0M285.2 741.3h0M325.3 747.2h0M331.4 744.1h0M316.3 785.8h0M294.1 759.6h0M285.0 744.9h0M325.4 740.7h0M327.3 740.6h0M306.5 730.4h0M295.4 781.7h0M329.3 742.8h0M293.8 741.4h0M304.4 754.1h0M301.2 764.0h0M293.6 733.1h0M314.4 730.7h0M308.0 763.1h0M297.3 765.9h0M325.9 768.0h0M294.1 742.4h0M292.6 750.5h0M307.2 740.9h0M293.6 733.6h0M316.3 775.0h0M317.0 744.4h0M284.7 742.9h0M315.3 783.8h0M328.1 762.3h0M279.9 752.8h0M285.4 751.6h0M288.8 738.4h0M324.3 744.2h0M282.7 753.9h0M324.5 769.1h0M293.1 739.0h0M306.7 766.9h0M312.4 763.5h0M295.4 770.5h0M327.0 737.3h0M296.8 771.5h0M290.0 754.8h0M321.8 736.3h0M321.4 738.5h0M325.9 776.3h0M315.5 783.1h0M313.8 757.0h0M293.3 773.4h0M301.1 749.0h0M329.2 769.0h0M312.6 783.5h0M298.7 732.4h0M319.7 754.8h0M322.3 766.1h0M331.9 772.7h0M320.5 770.8h0M294.1 737.8h0M300.4 757.5h0M319.5 778.8h0M306.6 766.1h0M286.1 753.2h0M300.8 781.8h0M307.1 731.4h0M295.8 761.7h0" stroke="#3838b2" stroke-width="1.3" stroke-linecap="round" fill="none"/>
<path d="M311.8 732.6h0M309.9 733.2h0M324.3 758.4h0M296.8 768.3h0M305.5 740.9h0M311.5 738.2h0M293.1 737.9h0M326.3 778.2h0M281.9 750.7h0M281.0 769.5h0M332.2 748.5h0M302.9 768.0h0M332.3 750.0h0M299.9 735.5h0M311.7 778.6h0M326.3 777.9h0M326.0 738.4h0M309.1 779.9h0M329.2 766.5h0M328.5 762.7h0M308.7 754.6h0M321.9 745.5h0M277.8 752.3h0M287.4 744.6h0M325.9 740.1h0M288.6 765.0h0M296.6 751.3h0M317.9 786.5h0M329.0 748.3h0M330.0 760.4h0M329.6 760.1h0M320.0 763.6h0" stroke="#4c4ebe" stroke-width="1.3" stroke-linecap="round" fill="none"/>
<path d="M294.9 737.0h0M330.5 762.9h0M299.7 734.9h0M294.4 746.0h0M319.0 750.3h0M299.3 780.7h0M290.9 781.7h0M332.3 761.7h0M318.3 766.5h0M303.8 757.0h0M308.6 782.5h0M313.4 748.2h0M330.1 743.6h0M300.6 758.4h0M294.2 742.0h0M308.2 733.9h0M324.1 761.8h0M299.5 739.1h0M307.1 760.5h0M294.1 732.5h0M313.8 742.6h0M279.8 765.3h0M299.7 773.2h0M301.3 783.8h0M309.1 732.9h0M293.6 773.2h0M308.6 769.0h0M301.3 766.1h0M300.6 766.1h0M330.5 742.7h0M304.8 737.1h0M326.4 753.2h0M318.8 765.3h0M290.9 738.7h0M290.5 751.5h0M293.8 774.7h0M305.9 733.6h0M285.8 740.2h0M297.2 775.1h0M301.5 781.7h0M298.0 756.1h0M312.8 757.1h0M299.6 759.9h0M311.9 731.0h0M323.2 750.5h0M307.4 766.6h0M284.0 777.5h0M313.5 759.6h0M319.0 752.7h0M298.4 735.1h0M324.2 735.0h0M297.9 779.4h0M287.8 767.4h0M293.4 757.8h0M313.9 754.9h0M301.6 751.8h0M280.3 749.3h0M290.7 735.0h0M316.2 732.6h0M334.6 749.0h0M321.8 734.0h0M293.1 739.9h0M309.2 773.0h0M288.0 746.2h0M319.4 743.2h0M297.3 765.9h0M298.5 733.6h0M296.1 745.2h0M281.5 755.0h0M312.2 746.6h0M325.7 777.3h0" stroke="#2e2ea4" stroke-width="1.3" stroke-linecap="round" fill="none"/>
<path d="M292.4 733.7h0M325.9 776.8h0M325.4 741.4h0M280.1 769.9h0M299.2 777.3h0M294.2 735.1h0M322.6 774.2h0M323.4 738.5h0M287.4 758.2h0M315.2 756.0h0M314.7 787.5h0M311.6 758.5h0M287.5 757.1h0M333.2 763.2h0M312.8 739.0h0M315.8 738.4h0M312.3 763.2h0M296.6 785.9h0M277.7 757.9h0M300.7 760.2h0M285.6 739.9h0M329.6 741.2h0M300.3 757.8h0" stroke="#6d6fc9" stroke-width="1.3" stroke-linecap="round" fill="none"/>
<path d="M294.1 732.3h0" stroke="#2e2ea4" stroke-width="1.297820575188112" stroke-linecap="round" fill="none"/>
<path d="M335.2 748.9h0" stroke="#4c4ebe" stroke-width="1.2574843301863794" stroke-linecap="round" fill="none"/>
<path d="M308.5 729.5h0" stroke="#2e2ea4" stroke-width="1.2570164795936236" stroke-linecap="round" fill="none"/>
<path d="M337.2 761.6h0" stroke="#2e2ea4" stroke-width="1.0551593506665924" stroke-linecap="round" fill="none"/>
<path d="M283.7 779.0h0M277.3 753.8h0" stroke="#4c4ebe" stroke-width="1.0" stroke-linecap="round" fill="none"/>
<path d="M277.7 752.0h0M277.7 752.1h0M277.4 766.1h0M333.8 745.4h0M276.7 760.5h0" stroke="#2e2ea4" stroke-width="1.0" stroke-linecap="round" fill="none"/>
<path d="M276.8 757.4h0" stroke="#6d6fc9" stroke-width="1.0" stroke-linecap="round" fill="none"/>
<path d="M284.2 757.5h0M336.2 757.8h0M331.2 760.2h0M301.6 784.8h0M330.8 744.3h0M289.3 740.0h0M311.4 755.4h0M324.9 773.0h0M301.4 744.4h0M281.8 769.9h0M292.2 783.8h0M297.5 752.1h0M329.9 762.0h0M302.8 759.4h0M297.1 749.9h0M299.4 754.6h0M299.1 781.6h0M322.0 759.7h0M327.7 756.6h0M324.5 744.1h0M316.0 750.4h0M280.9 752.3h0M309.8 737.9h0M321.1 776.4h0M329.4 748.3h0M287.8 782.7h0M329.4 758.0h0M337.1 756.3h0M277.8 752.7h0M329.8 763.0h0M283.0 752.4h0M308.0 732.8h0M287.0 737.3h0M310.5 788.8h0M313.5 732.5h0M311.7 777.5h0M307.4 779.2h0M329.0 775.1h0M293.2 748.4h0M312.9 773.0h0M287.7 748.3h0M331.3 764.6h0M323.2 784.3h0M321.5 770.4h0M293.5 771.6h0M331.8 768.4h0M279.4 747.7h0M320.9 753.4h0M307.4 747.1h0M316.1 746.2h0M330.4 752.3h0M285.4 741.3h0M296.9 755.4h0M329.1 758.6h0M311.4 742.5h0M323.0 778.8h0M285.3 758.3h0M329.1 745.9h0M314.9 730.8h0M283.9 745.4h0M280.9 772.4h0M327.3 742.1h0M279.1 750.5h0M288.3 760.6h0M298.3 734.1h0M310.4 754.4h0M331.6 767.4h0M329.5 770.2h0M300.8 744.4h0M284.2 741.1h0M323.1 761.1h0M303.5 732.1h0M290.3 743.5h0M329.3 758.4h0M325.4 738.5h0" stroke="#2e2ea4" stroke-width="0.9" stroke-linecap="round" fill="none"/>
<path d="M295.9 767.1h0M279.3 756.0h0M328.0 761.1h0M295.3 735.3h0M292.0 736.0h0M325.7 760.1h0M329.7 747.2h0M306.7 729.8h0M337.0 764.0h0M290.1 748.0h0M319.1 741.9h0M305.2 775.3h0M323.5 782.9h0M303.2 767.4h0M329.6 763.0h0M299.9 754.7h0M333.5 768.1h0M322.1 739.7h0M327.7 775.7h0M305.6 774.7h0M326.5 769.9h0M312.3 770.1h0M308.8 784.1h0M294.1 764.8h0M301.0 760.0h0M285.9 750.9h0M281.6 744.2h0M329.2 749.6h0M326.5 771.5h0M312.2 788.4h0M292.2 783.9h0M316.0 763.3h0M287.2 752.1h0M296.8 733.9h0M316.8 746.5h0M306.8 782.3h0M326.0 736.8h0M312.4 732.7h0M334.0 758.0h0M313.8 741.9h0M321.0 753.6h0M310.5 746.2h0M299.5 766.8h0M308.4 732.8h0M331.9 748.4h0M310.9 738.5h0M289.4 746.1h0M322.4 737.1h0M332.0 755.1h0M307.9 733.3h0M289.5 746.5h0M309.4 738.0h0M279.5 749.9h0M320.1 744.9h0M331.4 743.5h0M298.6 731.8h0M317.8 735.2h0M302.2 730.9h0M293.0 754.8h0" stroke="#3838b2" stroke-width="0.9" stroke-linecap="round" fill="none"/>
<path d="M295.6 784.2h0M334.0 748.5h0M311.4 752.6h0M311.5 778.9h0M325.4 758.8h0M328.5 770.1h0M292.7 737.0h0M328.8 771.1h0M329.3 743.4h0M292.5 752.7h0M326.5 751.1h0M294.4 748.9h0M325.0 735.7h0M312.2 788.4h0M277.9 759.0h0M290.0 752.4h0M335.7 754.0h0M300.8 787.3h0M294.8 770.0h0M279.9 766.7h0M291.4 734.0h0M302.2 745.7h0M297.8 775.0h0M312.6 738.0h0M325.4 760.4h0M291.6 781.4h0M314.2 762.8h0M285.9 739.8h0M307.4 752.3h0M304.4 782.2h0M283.1 743.4h0M306.9 776.7h0M296.6 763.8h0M325.7 736.7h0" stroke="#4c4ebe" stroke-width="0.9" stroke-linecap="round" fill="none"/>
<path d="M331.2 765.5h0M295.3 768.6h0M302.9 783.6h0M331.8 744.8h0M333.4 755.3h0M314.9 766.4h0M311.6 778.8h0M290.4 754.0h0M309.4 744.3h0M290.6 752.4h0M316.4 763.1h0M331.1 768.2h0M286.3 743.9h0M311.2 752.5h0M317.3 731.5h0M316.9 774.1h0M298.5 731.0h0M278.2 767.3h0M312.6 733.2h0M289.8 755.1h0M277.5 766.7h0" stroke="#6d6fc9" stroke-width="0.9" stroke-linecap="round" fill="none"/>
</g>
<circle cx="307.0" cy="759.6" r="31.6" fill="url(#pshade)" stroke="#96928b" stroke-width="1.0"/>
<circle cx="373.3" cy="759.6" r="31.6" fill="#c9c8c6"/>
<path d="M349.2 763.5h0M367.6 749.8h0M391.7 760.9h0M369.2 786.4h0M364.8 737.9h0M350.4 750.8h0M385.5 775.4h0M388.3 784.0h0M398.7 769.4h0M395.6 770.9h0M363.3 776.0h0M375.6 756.2h0M400.0 770.3h0M364.2 759.1h0M402.5 757.2h0M388.2 772.3h0M384.4 772.2h0M364.5 751.2h0M371.1 753.2h0M386.2 783.5h0M357.5 771.0h0M356.2 747.8h0M369.4 763.1h0M368.9 730.3h0M397.5 756.0h0M362.1 773.8h0M364.2 736.6h0M384.3 769.2h0M359.2 775.9h0M381.1 739.8h0M400.2 764.4h0M353.7 768.8h0M376.7 779.0h0M353.1 776.7h0M391.1 773.0h0M384.3 782.2h0M388.7 763.2h0M359.9 779.5h0M392.6 766.2h0M377.4 775.0h0M344.2 764.0h0M344.1 763.1h0M387.6 784.7h0M364.7 769.5h0M373.0 730.9h0M388.9 760.3h0M375.6 742.2h0M373.4 762.4h0M396.2 765.5h0M403.2 756.5h0M368.6 759.5h0M361.6 783.6h0M385.2 738.7h0M376.1 781.3h0M349.7 763.0h0M371.0 788.8h0M382.8 752.1h0M366.1 786.8h0M368.1 788.4h0M348.3 757.2h0M369.4 746.2h0M370.0 774.4h0M363.1 736.7h0M392.5 780.5h0M360.3 766.7h0M345.9 771.4h0M351.2 750.9h0M399.2 745.4h0M374.6 740.2h0M349.0 744.5h0M378.9 737.4h0M362.8 774.6h0M371.3 737.1h0M398.5 762.3h0M395.4 744.3h0M396.3 742.4h0M347.2 753.8h0M366.4 766.1h0M363.1 773.0h0M396.2 749.5h0M350.4 753.5h0M388.9 775.1h0M367.5 741.6h0M373.8 778.8h0M362.2 781.9h0M379.0 766.6h0M363.7 782.8h0M374.8 735.2h0M390.0 752.3h0M394.0 763.5h0M361.3 764.0h0M364.6 744.3h0M374.6 776.8h0M375.8 758.7h0M363.1 771.8h0M379.3 778.5h0M378.6 788.0h0M348.2 759.4h0M384.0 777.1h0M351.6 742.5h0M373.3 780.0h0M390.1 737.9h0M376.4 781.5h0M374.6 740.7h0M362.0 737.9h0M395.4 755.7h0M365.8 743.4h0M371.4 742.6h0M355.2 759.6h0M369.4 770.0h0M376.7 781.5h0M373.2 766.0h0M378.6 744.4h0M394.7 750.5h0M351.7 777.7h0M386.9 749.3h0M390.2 776.7h0M386.2 740.0h0M377.4 740.7h0M361.9 749.2h0M357.8 769.8h0M359.1 772.2h0M377.7 748.0h0M377.5 774.2h0M394.7 755.7h0M399.3 768.6h0M392.4 740.1h0M357.0 779.6h0M369.5 770.1h0M391.5 739.0h0M380.1 787.0h0M389.8 762.2h0M385.7 760.6h0M386.5 781.4h0M369.5 772.2h0M380.1 775.0h0M388.5 741.7h0M393.2 774.5h0M353.7 755.0h0M349.4 755.4h0M380.0 739.3h0M359.7 744.1h0M360.8 745.6h0M354.7 770.6h0M369.8 744.1h0M392.1 750.0h0M388.7 739.9h0M397.2 752.9h0M356.1 768.1h0M352.9 743.2h0M379.0 750.4h0M382.4 763.4h0M379.5 763.2h0M388.3 760.4h0M392.2 775.9h0M351.2 739.9h0M398.5 753.2h0M378.1 758.0h0M377.3 788.3h0M359.8 761.7h0M374.1 740.0h0M357.0 755.1h0M373.8 768.5h0M350.3 741.3h0M399.5 757.4h0M389.9 752.2h0M364.7 787.2h0M353.4 745.1h0M387.6 760.7h0M347.7 762.4h0M385.3 736.3h0M363.4 775.3h0M392.7 736.8h0M360.1 760.9h0M357.7 744.1h0M364.0 770.6h0M355.6 775.1h0M388.8 775.4h0M398.1 751.9h0M373.0 779.1h0M394.0 775.1h0M364.8 750.4h0M351.1 752.7h0M356.9 751.0h0M366.7 776.3h0M390.6 759.3h0M352.9 759.3h0M382.2 776.4h0M378.1 776.0h0M361.3 772.8h0M388.5 753.4h0M361.2 780.8h0M356.0 772.6h0M368.4 753.1h0M368.8 751.2h0M373.3 786.7h0M398.0 758.0h0M382.7 777.2h0M367.7 786.6h0M374.7 772.9h0M357.8 741.3h0M355.7 748.5h0M393.0 754.4h0M390.7 752.3h0M355.7 763.5h0M367.6 734.1h0M374.8 781.4h0M370.2 738.5h0M360.9 739.5h0M369.3 742.1h0M371.7 764.0h0M393.9 742.6h0M350.5 778.4h0M382.9 752.9h0M383.4 742.9h0M367.3 773.7h0M367.4 763.1h0M383.1 762.8h0M369.1 770.8h0M393.1 778.6h0" stroke="#9596d2" stroke-opacity="0.55" stroke-width="1.1" stroke-linecap="round" fill="none"/>
<g filter="url(#pblur)">
<path d="M349.8 761.0h0M376.3 769.8h0M374.3 777.1h0M356.5 762.4h0M373.6 777.1h0M345.8 750.6h0M369.1 786.6h0M382.1 784.0h0" stroke="#2e2ea4" stroke-width="2.4" stroke-linecap="round" fill="none"/>
<path d="M347.4 767.1h0M361.4 734.5h0M383.7 763.7h0M374.8 769.5h0M377.0 780.2h0M382.6 780.9h0M352.5 741.0h0M383.9 758.5h0M389.5 761.0h0M362.7 767.2h0M385.9 751.2h0M383.8 760.9h0M388.8 747.6h0M367.3 736.9h0M399.6 752.3h0" stroke="#4c4ebe" stroke-width="2.4" stroke-linecap="round" fill="none"/>
<path d="M348.2 760.2h0M392.0 767.5h0M372.4 769.3h0M376.2 758.0h0M379.7 753.6h0M348.5 761.1h0M383.3 757.9h0M395.9 751.7h0M357.8 756.2h0M356.9 746.4h0M360.7 764.9h0M360.8 746.1h0M387.2 771.9h0M395.8 762.9h0" stroke="#6d6fc9" stroke-width="2.4" stroke-linecap="round" fill="none"/>
<path d="M368.5 787.2h0M388.7 783.4h0M380.0 748.8h0M371.9 778.9h0M385.3 754.2h0M396.3 774.6h0M384.8 753.1h0M388.1 756.6h0M379.1 764.8h0M354.0 741.6h0M399.3 773.4h0M362.8 745.7h0M363.1 774.1h0M383.0 780.1h0M372.9 781.4h0M347.3 753.8h0" stroke="#3838b2" stroke-width="2.4" stroke-linecap="round" fill="none"/>
<path d="M352.7 740.9h0M375.9 737.1h0M382.7 767.2h0M354.5 738.4h0M348.9 758.1h0M355.0 760.4h0M359.5 784.1h0M398.5 771.6h0M359.2 781.4h0M375.0 781.9h0M348.4 754.8h0M366.1 776.6h0M375.2 779.9h0M363.1 766.6h0M396.7 749.3h0M358.4 782.6h0M386.6 784.6h0M384.9 734.4h0M388.5 744.5h0M376.0 742.7h0M372.7 787.7h0M382.8 783.0h0M375.2 755.2h0M388.3 766.3h0M357.4 779.5h0M358.9 779.2h0" stroke="#4c4ebe" stroke-width="1.8" stroke-linecap="round" fill="none"/>
<path d="M349.4 743.8h0M388.3 774.5h0M349.6 766.2h0M381.0 758.5h0M372.9 741.7h0M363.8 778.7h0M351.1 770.7h0M388.4 749.2h0M347.4 774.0h0M354.6 740.7h0M363.8 765.5h0M355.2 757.3h0M379.9 748.4h0M380.3 762.7h0M387.9 777.4h0M375.6 764.1h0M387.7 776.6h0M375.2 776.5h0M356.3 740.1h0M368.3 770.0h0M392.0 768.4h0M392.7 744.9h0M388.3 735.3h0M388.7 735.8h0M349.9 775.6h0" stroke="#2e2ea4" stroke-width="1.8" stroke-linecap="round" fill="none"/>
<path d="M350.2 748.9h0M351.0 759.8h0M367.3 764.8h0M403.0 761.0h0M370.5 739.0h0M387.2 782.9h0M381.4 783.0h0M381.9 731.8h0M385.0 767.0h0M399.7 752.2h0M346.0 759.3h0M376.1 759.2h0M391.1 738.5h0M396.8 751.7h0M382.0 785.4h0M392.1 750.5h0M357.4 767.2h0M391.6 759.6h0M378.6 751.0h0M348.2 768.8h0M395.4 771.7h0M357.6 770.4h0M361.2 760.5h0M346.5 770.0h0M391.2 739.3h0M365.9 785.6h0M382.5 745.9h0" stroke="#6d6fc9" stroke-width="1.8" stroke-linecap="round" fill="none"/>
<path d="M380.4 772.5h0M381.8 751.0h0M360.8 744.3h0M384.2 779.6h0M401.3 750.3h0M402.1 766.1h0M369.8 787.8h0M378.6 756.3h0M371.4 744.1h0M349.8 764.9h0M396.1 761.1h0M385.7 748.8h0M345.8 757.0h0M398.8 752.8h0M387.5 778.0h0M353.5 749.6h0M383.5 757.5h0M387.8 775.0h0M372.3 786.9h0M346.4 757.5h0M363.3 731.5h0M360.5 735.2h0M373.5 783.1h0M346.1 750.2h0M348.9 772.6h0M369.4 765.6h0M386.4 777.0h0M394.1 748.6h0M364.8 737.7h0M361.7 743.1h0M391.5 736.2h0" stroke="#3838b2" stroke-width="1.8" stroke-linecap="round" fill="none"/>
<path d="M392.8 782.3h0" stroke="#2e2ea4" stroke-width="1.7994227951051442" stroke-linecap="round" fill="none"/>
<path d="M350.3 760.4h0M375.5 770.1h0M374.6 777.9h0" stroke="#2e2ea4" stroke-width="1.7" stroke-linecap="round" fill="none"/>
<path d="M348.2 767.2h0M361.0 733.8h0M382.1 780.2h0M352.9 741.7h0M384.1 759.3h0M390.0 760.4h0M363.4 766.7h0M389.6 747.6h0" stroke="#4c4ebe" stroke-width="1.7" stroke-linecap="round" fill="none"/>
<path d="M349.0 759.8h0M392.0 766.7h0M371.5 769.2h0M375.4 758.1h0M347.8 760.7h0M396.1 752.5h0M358.0 757.1h0M360.1 745.6h0M396.5 762.4h0" stroke="#6d6fc9" stroke-width="1.7" stroke-linecap="round" fill="none"/>
<path d="M367.6 787.3h0M389.3 783.9h0M384.5 754.6h0M396.7 775.4h0M385.4 752.5h0M388.7 756.0h0M379.2 764.0h0M362.0 745.7h0M382.2 780.3h0M373.1 782.2h0" stroke="#3838b2" stroke-width="1.7" stroke-linecap="round" fill="none"/>
<path d="M351.6 780.2h0" stroke="#3838b2" stroke-width="1.6586124774915305" stroke-linecap="round" fill="none"/>
<path d="M396.1 779.1h0" stroke="#2e2ea4" stroke-width="1.6205963522706668" stroke-linecap="round" fill="none"/>
<path d="M386.7 732.6h0" stroke="#2e2ea4" stroke-width="1.415647915276324" stroke-linecap="round" fill="none"/>
<path d="M377.3 744.6h0M400.1 759.3h0M358.4 771.7h0M379.2 742.2h0M373.3 778.7h0M390.6 778.3h0M374.1 765.9h0M378.3 788.5h0M376.3 767.3h0M369.4 746.3h0M371.5 786.5h0M395.2 759.5h0M345.3 765.8h0M354.1 771.4h0M355.1 756.8h0M363.4 764.4h0M351.7 742.0h0M367.4 785.6h0M383.2 732.6h0M380.1 785.9h0M377.7 781.0h0M357.4 779.8h0" stroke="#6d6fc9" stroke-width="1.3" stroke-linecap="round" fill="none"/>
<path d="M368.4 774.9h0M391.0 771.5h0M381.4 751.8h0M396.4 764.0h0M394.1 779.7h0M355.0 782.3h0M381.7 769.3h0M355.8 771.6h0M357.7 779.7h0M349.2 757.8h0M347.6 769.9h0M387.6 784.9h0M398.9 759.2h0M378.9 741.8h0M359.6 777.9h0M395.3 777.6h0M385.4 756.2h0M384.8 766.6h0M361.4 755.1h0M395.0 775.1h0M386.8 770.6h0M378.3 739.1h0M359.6 747.2h0M348.5 772.1h0M372.6 737.2h0M383.8 777.4h0M353.9 782.1h0M383.9 778.0h0M364.0 764.9h0M366.0 739.8h0M366.1 780.8h0M371.0 745.1h0M388.3 769.2h0M374.7 762.6h0M365.0 754.0h0M355.7 740.8h0M387.0 743.2h0M373.9 789.3h0M350.5 772.2h0M365.9 735.0h0M358.4 755.9h0M389.0 753.1h0M376.2 749.1h0M387.6 743.3h0M396.0 745.2h0M371.5 764.3h0M389.6 764.6h0" stroke="#3838b2" stroke-width="1.3" stroke-linecap="round" fill="none"/>
<path d="M361.0 732.4h0M390.2 761.0h0M396.5 763.7h0M379.3 771.8h0M390.1 781.2h0M380.3 783.8h0M368.4 755.5h0M382.0 787.9h0M372.3 764.5h0M374.0 734.3h0M375.4 753.9h0M365.8 769.9h0M370.3 745.2h0M387.3 778.0h0M387.8 763.0h0M391.4 762.6h0M375.1 745.5h0M352.7 776.9h0M373.9 742.1h0M391.8 736.4h0M372.5 732.2h0M378.1 737.0h0M376.6 760.5h0M371.7 786.1h0M372.2 787.9h0M375.4 782.6h0M374.8 774.6h0M387.0 765.7h0M357.8 742.2h0M374.1 736.5h0M365.6 730.8h0M345.4 768.1h0M377.6 770.3h0" stroke="#4c4ebe" stroke-width="1.3" stroke-linecap="round" fill="none"/>
<path d="M366.5 750.3h0M345.6 766.3h0M380.6 732.5h0M359.8 766.2h0M388.2 743.1h0M393.5 749.5h0M402.5 766.6h0M389.8 771.1h0M383.8 758.6h0M368.9 783.7h0M396.1 757.7h0M358.4 764.9h0M374.0 733.6h0M346.8 772.4h0M384.4 751.1h0M349.7 756.4h0M372.5 782.2h0M376.9 756.5h0M391.9 739.1h0M389.7 734.9h0M393.7 773.3h0M363.2 736.4h0M357.8 743.8h0M348.9 770.3h0M391.4 742.7h0M354.9 777.2h0M390.2 760.6h0M390.3 774.0h0M368.9 775.8h0M391.8 779.4h0M347.5 751.8h0M349.1 755.7h0M372.8 743.7h0M349.1 760.1h0M368.8 788.7h0M381.6 759.9h0M351.6 769.8h0" stroke="#2e2ea4" stroke-width="1.3" stroke-linecap="round" fill="none"/>
<path d="M399.0 743.8h0" stroke="#6d6fc9" stroke-width="1.2515034837072747" stroke-linecap="round" fill="none"/>
<path d="M343.6 754.0h0" stroke="#2e2ea4" stroke-width="1.188570646524056" stroke-linecap="round" fill="none"/>
<path d="M362.6 731.3h0M357.3 733.9h0M347.1 744.3h0" stroke="#2e2ea4" stroke-width="1.0" stroke-linecap="round" fill="none"/>
<path d="M344.0 752.0h0" stroke="#6d6fc9" stroke-width="1.0" stroke-linecap="round" fill="none"/>
<path d="M401.2 771.4h0" stroke="#4c4ebe" stroke-width="1.0" stroke-linecap="round" fill="none"/>
<path d="M355.2 756.3h0M380.0 756.8h0M359.7 770.8h0M355.9 767.3h0M372.8 779.8h0M397.5 768.7h0M372.1 744.6h0M386.9 767.0h0M352.2 773.2h0M372.6 785.6h0M382.8 760.1h0M391.6 738.2h0M370.9 779.5h0M380.6 785.7h0M370.6 787.7h0M358.5 784.9h0M373.7 774.9h0M394.0 744.7h0M354.6 768.3h0M352.0 744.8h0M393.2 780.4h0M349.1 776.9h0M385.8 752.0h0M375.4 779.6h0M364.8 732.7h0M375.6 757.1h0M394.4 751.6h0M382.6 742.1h0M397.5 758.6h0M355.4 771.5h0M381.9 730.9h0M377.9 774.2h0M353.2 757.9h0M356.5 783.6h0M385.8 764.0h0M384.1 746.1h0M386.8 751.2h0M361.3 759.5h0M400.5 754.8h0M362.3 771.2h0M355.4 782.8h0" stroke="#6d6fc9" stroke-width="0.9" stroke-linecap="round" fill="none"/>
<path d="M384.4 773.3h0M377.8 744.8h0M383.2 760.3h0M366.7 753.2h0M356.2 770.2h0M399.3 751.6h0M347.2 759.9h0M364.8 769.7h0M360.5 742.0h0M381.4 749.5h0M372.2 761.3h0M393.7 751.2h0M346.8 774.3h0M389.5 773.9h0M357.5 750.7h0M369.8 789.0h0M388.3 766.8h0M369.0 786.2h0M388.9 746.1h0M392.0 749.3h0M374.1 743.2h0M365.0 746.2h0M400.5 753.9h0M373.7 760.5h0M387.0 741.5h0M369.2 750.6h0M383.0 732.8h0M347.5 758.2h0M379.8 730.9h0M400.4 760.4h0M377.8 783.1h0M401.4 766.1h0" stroke="#4c4ebe" stroke-width="0.9" stroke-linecap="round" fill="none"/>
<path d="M363.6 730.9h0M347.1 767.1h0M386.8 770.6h0M355.7 761.9h0M373.3 778.1h0M400.0 770.6h0M348.4 760.1h0M353.3 758.6h0M390.8 770.0h0M382.7 760.2h0M393.5 782.0h0M356.7 736.0h0M396.9 774.2h0M345.0 760.6h0M350.7 766.4h0M385.1 757.0h0M389.2 779.8h0M367.4 774.3h0M362.2 733.0h0M382.5 759.6h0M348.3 769.2h0M391.5 744.4h0M372.3 733.2h0M360.7 744.9h0M383.1 752.9h0M364.6 731.4h0M369.9 735.5h0M388.1 764.0h0M347.6 765.2h0M361.7 759.1h0M359.1 744.1h0M375.4 773.4h0M370.8 767.2h0M379.3 786.2h0M390.8 780.2h0M366.8 732.5h0M365.6 774.6h0M379.1 766.7h0M362.8 760.6h0M396.9 751.4h0M360.3 741.5h0M390.8 740.7h0M365.0 779.8h0M386.4 736.7h0M382.4 756.3h0M365.7 735.6h0M356.6 779.8h0M402.3 752.3h0M356.3 757.9h0M351.8 761.3h0M349.5 754.2h0" stroke="#3838b2" stroke-width="0.9" stroke-linecap="round" fill="none"/>
<path d="M374.0 739.6h0M351.8 738.2h0M363.4 783.3h0M347.7 755.4h0M377.6 770.9h0M352.9 760.1h0M387.3 779.4h0M368.3 761.6h0M351.1 747.4h0M388.6 779.1h0M355.3 773.3h0M361.7 746.5h0M377.8 731.4h0M363.0 731.1h0M349.6 773.4h0M382.7 747.5h0M390.0 754.3h0M400.7 754.6h0M389.3 773.0h0M377.0 738.1h0M363.5 731.8h0M388.3 772.1h0M347.3 749.0h0M356.8 747.8h0M399.1 752.6h0M371.5 766.3h0M360.2 771.3h0M345.6 761.6h0M375.4 789.8h0M345.6 771.6h0M352.9 751.0h0M380.2 736.7h0M389.8 760.9h0M348.9 770.9h0M376.0 745.6h0M393.5 751.2h0M368.3 738.8h0M383.8 776.3h0M379.6 743.8h0M346.9 751.1h0M379.7 784.2h0M377.1 768.2h0M347.6 775.7h0M363.7 778.3h0" stroke="#2e2ea4" stroke-width="0.9" stroke-linecap="round" fill="none"/>
</g>
<circle cx="373.3" cy="759.6" r="31.6" fill="url(#pshade)" stroke="#96928b" stroke-width="1.0"/>
<circle cx="440.0" cy="759.6" r="31.6" fill="#c9c8c6"/>
<path d="M438.6 784.5h0M428.8 734.2h0M445.7 772.9h0M448.6 771.0h0M438.9 748.8h0M426.3 756.9h0M434.5 778.6h0M452.3 739.6h0M455.7 761.0h0M457.0 782.0h0M449.9 734.5h0M452.0 736.6h0M465.5 751.2h0M438.8 787.3h0M413.9 761.8h0M421.9 751.9h0M427.0 774.5h0M436.0 769.1h0M451.4 735.2h0M464.9 757.4h0M415.5 750.9h0M456.4 778.2h0M428.1 764.0h0M446.4 780.4h0M439.6 780.0h0M425.1 747.9h0M454.4 775.0h0M441.3 774.2h0M446.2 776.7h0M461.8 770.4h0M458.0 754.2h0M434.4 731.1h0M450.9 762.6h0M449.5 733.7h0M432.3 750.4h0M416.0 774.1h0M460.4 741.9h0M448.1 786.2h0M422.0 777.6h0M459.3 782.1h0M419.6 744.1h0M445.6 782.6h0M419.8 748.3h0M423.7 779.5h0M431.1 773.3h0M452.7 781.0h0M450.9 768.9h0M461.9 769.8h0M419.2 751.9h0M459.4 764.4h0M434.9 767.2h0M470.1 760.2h0M451.9 771.0h0M437.2 782.7h0M458.2 769.2h0M421.6 780.0h0M457.4 760.2h0M410.4 760.2h0M419.4 757.4h0M432.1 745.3h0M460.9 763.8h0M461.9 745.8h0M438.7 784.5h0M448.9 747.2h0M424.7 750.2h0M440.6 775.7h0M445.1 776.7h0M458.4 764.1h0M462.4 773.2h0M438.4 758.5h0M442.0 746.6h0M417.7 762.3h0M431.9 773.6h0M429.8 764.0h0M446.6 752.0h0M446.3 747.0h0M433.8 777.3h0M450.5 761.8h0M427.1 774.9h0M461.4 738.6h0M461.2 765.6h0M458.6 779.2h0M427.5 785.1h0M429.8 756.6h0M455.0 760.1h0M447.9 751.0h0M421.8 762.0h0M424.9 781.9h0M445.8 784.5h0M425.4 734.4h0M411.3 756.0h0M418.8 767.9h0M420.0 740.6h0M448.2 753.5h0M454.3 776.3h0M448.4 739.3h0M431.0 787.7h0M437.4 768.1h0M445.0 761.3h0M438.6 749.9h0M434.1 732.2h0M467.1 759.5h0M418.9 770.5h0M452.7 737.5h0M433.4 785.0h0M452.9 770.2h0M460.7 759.1h0M437.0 786.1h0M438.3 760.2h0M455.1 762.4h0M425.6 785.0h0M440.5 787.3h0M451.8 744.1h0M466.2 758.5h0M424.7 761.1h0M412.3 766.5h0M427.1 756.6h0M425.3 774.2h0M448.3 780.8h0M466.7 765.4h0M444.2 768.3h0M425.8 750.8h0M455.9 745.6h0M412.8 755.9h0M445.8 784.9h0M428.3 743.7h0M444.3 758.5h0M447.4 750.9h0M446.3 749.6h0M460.1 766.6h0M453.6 752.7h0M416.6 761.6h0M440.9 781.5h0M460.1 760.8h0M441.1 742.1h0M441.3 766.3h0M434.0 740.9h0M462.2 746.3h0M463.2 776.6h0M464.8 748.3h0M452.1 737.9h0M435.5 735.4h0M427.1 751.4h0M457.1 778.7h0M434.1 755.5h0M425.2 741.3h0M413.6 757.7h0M453.2 746.6h0M448.4 740.1h0M422.6 751.1h0M458.3 751.4h0M456.7 754.4h0M426.5 734.2h0M432.5 742.7h0M458.4 769.4h0M416.7 773.5h0M446.4 730.4h0M421.7 765.8h0M416.0 749.4h0M452.2 766.3h0M450.4 773.2h0M430.9 787.8h0M447.6 787.7h0M436.2 772.7h0M448.9 758.2h0M448.2 766.6h0M457.1 767.2h0M442.8 771.3h0M465.0 762.1h0M453.8 764.0h0M414.1 748.3h0M426.3 738.3h0M431.8 734.0h0M447.1 750.1h0M462.4 767.5h0M418.4 757.0h0M442.5 747.3h0M434.6 740.7h0M426.9 766.6h0M435.5 782.1h0M413.0 750.1h0M435.2 784.6h0M459.9 773.5h0M454.8 783.2h0M454.8 756.3h0M445.0 746.4h0M436.7 768.7h0M430.9 763.1h0M433.5 737.7h0M417.8 771.8h0M441.8 776.8h0M439.1 760.6h0M446.8 753.8h0M461.6 775.6h0M448.4 741.3h0M430.1 764.9h0M461.7 759.8h0M440.5 771.3h0M443.5 757.3h0M423.1 779.5h0M439.8 749.8h0M438.9 737.0h0M420.0 738.3h0M447.0 737.4h0M442.6 738.7h0M414.2 750.9h0M426.5 747.0h0M466.5 763.0h0M429.4 776.2h0M434.8 781.4h0M417.7 775.6h0M421.3 747.1h0M444.1 740.1h0M414.6 753.7h0M435.5 734.0h0M457.4 745.4h0M427.7 755.2h0M441.1 779.4h0M411.5 759.8h0M457.2 764.3h0" stroke="#9596d2" stroke-opacity="0.55" stroke-width="1.1" stroke-linecap="round" fill="none"/>
<g filter="url(#pblur)">
<path d="M447.8 751.8h0M443.5 753.4h0M426.0 784.3h0M421.3 758.4h0M427.5 743.4h0M430.6 764.9h0M438.8 768.4h0M468.0 761.8h0" stroke="#2e2ea4" stroke-width="2.4" stroke-linecap="round" fill="none"/>
<path d="M414.8 765.0h0M414.8 767.2h0M420.3 750.9h0M426.2 770.6h0M453.8 784.4h0M432.1 785.9h0M433.1 738.8h0M442.1 783.0h0M444.2 780.1h0M456.8 737.5h0M451.6 776.4h0" stroke="#3838b2" stroke-width="2.4" stroke-linecap="round" fill="none"/>
<path d="M461.7 746.1h0M448.1 743.9h0M439.7 748.4h0M462.8 742.7h0M450.1 750.3h0M427.8 736.8h0M427.9 740.1h0" stroke="#4c4ebe" stroke-width="2.4" stroke-linecap="round" fill="none"/>
<path d="M421.7 751.2h0M436.9 769.2h0M419.3 757.2h0M461.3 739.5h0M442.0 732.6h0" stroke="#6d6fc9" stroke-width="2.4" stroke-linecap="round" fill="none"/>
<path d="M458.1 766.4h0M414.2 745.5h0M461.7 746.1h0M429.2 751.0h0M454.2 743.2h0M435.6 769.5h0M431.1 765.9h0M445.4 781.0h0M416.8 772.1h0M413.1 762.6h0M412.5 758.4h0M438.8 743.2h0M421.6 781.5h0M429.7 731.7h0M438.6 734.7h0M454.1 743.0h0M427.7 781.9h0M424.7 773.8h0M444.7 784.4h0" stroke="#4c4ebe" stroke-width="1.8" stroke-linecap="round" fill="none"/>
<path d="M456.2 781.3h0M431.5 745.5h0M430.3 771.0h0M425.7 779.3h0M417.4 744.8h0M439.4 771.4h0M467.0 771.6h0M411.9 753.2h0M462.5 768.8h0M433.9 769.8h0M414.8 753.9h0M433.4 740.6h0M435.6 754.3h0M419.5 777.9h0M421.9 739.8h0M439.8 734.8h0M412.5 767.0h0M462.8 778.5h0M416.1 747.3h0M413.7 763.6h0M430.8 769.4h0M452.8 782.9h0M432.8 739.2h0" stroke="#2e2ea4" stroke-width="1.8" stroke-linecap="round" fill="none"/>
<path d="M430.0 731.5h0M440.3 757.2h0M442.5 731.6h0M427.6 770.7h0M417.7 770.6h0M413.2 762.0h0M462.7 777.0h0M466.7 765.6h0M442.4 744.9h0M418.7 758.7h0M444.2 730.6h0M437.8 777.8h0M429.7 753.3h0M415.4 752.7h0M460.5 746.2h0M442.8 751.5h0M433.9 737.2h0M423.9 743.2h0M454.0 754.8h0M454.6 754.9h0M462.5 746.3h0M458.0 781.2h0M426.1 740.4h0M417.7 740.6h0M457.5 741.5h0M462.6 772.6h0M458.6 739.6h0M458.4 781.8h0M424.3 784.5h0M429.4 756.0h0" stroke="#3838b2" stroke-width="1.8" stroke-linecap="round" fill="none"/>
<path d="M441.7 763.6h0M432.3 788.3h0M440.9 731.3h0M422.8 766.1h0M431.9 739.1h0M425.5 771.2h0M460.1 776.7h0M425.9 779.3h0M440.9 772.3h0M460.8 772.6h0M410.6 757.2h0M453.5 740.9h0M425.2 783.5h0M451.7 772.4h0" stroke="#6d6fc9" stroke-width="1.8" stroke-linecap="round" fill="none"/>
<path d="M442.1 789.4h0" stroke="#3838b2" stroke-width="1.768831935982611" stroke-linecap="round" fill="none"/>
<path d="M425.2 784.0h0M421.4 757.6h0M428.2 743.9h0M439.6 768.3h0" stroke="#2e2ea4" stroke-width="1.7" stroke-linecap="round" fill="none"/>
<path d="M414.0 766.9h0M419.6 750.4h0M425.8 769.8h0M453.0 784.1h0M432.8 786.3h0M432.8 739.6h0M443.5 780.6h0M457.2 736.9h0M452.4 776.2h0" stroke="#3838b2" stroke-width="1.7" stroke-linecap="round" fill="none"/>
<path d="M421.1 750.6h0M437.0 770.1h0M418.6 756.7h0M461.0 740.3h0M442.3 733.4h0" stroke="#6d6fc9" stroke-width="1.7" stroke-linecap="round" fill="none"/>
<path d="M448.1 744.8h0M462.0 742.7h0M449.9 749.5h0" stroke="#4c4ebe" stroke-width="1.7" stroke-linecap="round" fill="none"/>
<path d="M421.7 735.9h0" stroke="#2e2ea4" stroke-width="1.6694868498665798" stroke-linecap="round" fill="none"/>
<path d="M465.9 744.5h0" stroke="#4c4ebe" stroke-width="1.6544028083714792" stroke-linecap="round" fill="none"/>
<path d="M449.1 731.0h0" stroke="#6d6fc9" stroke-width="1.5920585668420628" stroke-linecap="round" fill="none"/>
<path d="M465.9 744.5h0" stroke="#3838b2" stroke-width="1.568535679792511" stroke-linecap="round" fill="none"/>
<path d="M464.7 765.8h0M456.8 778.2h0M430.4 777.5h0M438.0 742.3h0M412.7 756.1h0M463.0 777.9h0M448.0 754.5h0M444.7 784.0h0M445.5 787.8h0M450.0 786.2h0M462.0 748.8h0M462.8 748.6h0M449.3 734.6h0M431.8 765.9h0M414.2 751.4h0M419.4 759.4h0M415.1 773.0h0M438.0 770.5h0M448.0 751.5h0M462.7 758.3h0M414.3 762.8h0M463.3 771.6h0M430.8 784.8h0M458.2 770.4h0M457.9 760.9h0M446.2 769.5h0M431.6 751.4h0M431.9 779.6h0M435.0 749.8h0M431.8 786.4h0M416.1 773.0h0" stroke="#4c4ebe" stroke-width="1.3" stroke-linecap="round" fill="none"/>
<path d="M460.0 751.1h0M434.7 744.5h0M426.5 735.7h0M414.5 773.0h0M424.0 748.9h0M434.8 778.0h0M432.2 788.6h0M461.2 776.4h0M445.7 781.9h0M430.3 771.0h0M415.0 747.0h0M461.9 749.0h0M459.8 777.5h0M459.1 771.8h0M443.6 747.2h0M435.1 786.0h0M450.1 752.6h0M412.0 766.6h0M452.8 772.8h0M468.8 761.3h0M467.0 759.3h0M437.5 780.0h0M456.0 737.2h0M464.4 751.1h0M436.8 769.8h0M445.8 731.6h0M432.5 753.7h0M455.5 771.4h0M438.4 761.1h0M464.0 767.3h0M428.0 758.1h0M419.5 760.4h0M441.5 787.0h0M437.0 760.5h0M465.5 762.8h0M444.4 760.9h0M413.3 752.1h0M454.7 744.1h0M446.4 769.6h0M453.6 757.5h0M441.2 788.9h0M458.1 745.3h0M441.7 767.3h0" stroke="#2e2ea4" stroke-width="1.3" stroke-linecap="round" fill="none"/>
<path d="M440.7 769.8h0M450.3 752.0h0M441.0 743.2h0M460.0 766.1h0M458.7 782.7h0M445.8 744.9h0M446.2 781.6h0M417.7 749.0h0M449.7 753.9h0M412.7 762.3h0M445.3 784.9h0M418.8 763.0h0M418.5 772.8h0M416.7 752.9h0M429.2 756.1h0M455.6 752.6h0M449.8 760.5h0M449.6 771.8h0M464.1 745.7h0M452.0 770.8h0M415.4 775.5h0" stroke="#6d6fc9" stroke-width="1.3" stroke-linecap="round" fill="none"/>
<path d="M415.2 771.3h0M433.4 779.4h0M443.7 741.3h0M411.5 765.3h0M427.3 761.4h0M448.1 782.3h0M444.4 757.6h0M461.2 776.8h0M435.0 739.8h0M444.1 778.4h0M435.0 771.3h0M463.7 775.5h0M449.9 769.3h0M454.1 785.9h0M464.2 745.5h0M447.8 745.4h0M459.9 767.9h0M459.6 741.5h0M412.3 765.3h0M445.7 770.0h0M441.7 763.5h0M443.4 741.8h0M460.3 775.0h0M448.9 736.2h0M445.5 744.0h0M425.8 779.9h0M451.1 753.9h0M457.8 777.8h0M423.1 762.5h0M440.5 758.8h0M419.6 759.0h0M445.1 754.7h0M412.6 753.9h0M459.4 754.0h0M449.0 733.7h0M454.2 767.5h0M425.0 745.5h0M413.2 748.5h0M453.1 776.7h0M435.5 741.1h0M466.9 748.7h0M423.2 758.2h0M450.6 783.3h0M446.5 733.9h0M428.1 787.0h0M436.7 736.4h0M435.5 741.6h0M452.9 740.4h0M467.1 758.3h0M412.1 753.0h0M412.1 769.7h0" stroke="#3838b2" stroke-width="1.3" stroke-linecap="round" fill="none"/>
<path d="M455.9 785.3h0" stroke="#6d6fc9" stroke-width="1.0406304399624702" stroke-linecap="round" fill="none"/>
<path d="M427.1 787.0h0M429.4 788.0h0" stroke="#4c4ebe" stroke-width="1.0" stroke-linecap="round" fill="none"/>
<path d="M412.9 766.7h0M467.0 765.8h0M460.0 777.7h0M415.0 743.7h0M428.3 784.9h0M460.3 768.6h0M429.1 783.9h0M436.0 745.5h0M461.6 762.0h0M440.4 740.4h0M463.7 742.4h0M412.7 770.5h0M434.9 752.9h0M466.0 761.1h0M426.5 767.2h0M411.1 759.7h0M434.4 733.4h0M421.4 759.6h0M444.1 737.9h0M468.0 764.6h0M468.3 764.6h0M413.9 744.5h0M459.5 775.7h0M466.0 746.1h0M436.0 757.4h0M445.2 738.1h0M415.7 753.7h0M467.1 759.3h0M423.1 748.1h0M461.0 740.6h0M421.6 780.9h0M429.1 734.8h0M455.4 744.6h0" stroke="#4c4ebe" stroke-width="0.9" stroke-linecap="round" fill="none"/>
<path d="M437.9 740.9h0M443.6 732.3h0M462.7 741.3h0M437.7 769.8h0M425.6 779.0h0M438.5 764.9h0M440.2 774.3h0M432.1 788.9h0M429.5 788.0h0M466.0 744.4h0M459.3 766.1h0M457.2 757.7h0M469.7 755.1h0M460.8 772.7h0M463.5 749.6h0M414.0 773.6h0M432.8 731.6h0M442.0 757.1h0M456.7 738.0h0M414.0 750.5h0" stroke="#6d6fc9" stroke-width="0.9" stroke-linecap="round" fill="none"/>
<path d="M433.4 742.6h0M432.8 742.1h0M431.7 756.8h0M442.4 751.2h0M444.9 780.6h0M445.7 781.9h0M413.8 745.3h0M426.6 738.5h0M446.4 769.6h0M421.8 780.8h0M437.4 751.4h0M454.6 745.8h0M411.3 766.0h0M434.1 786.3h0M466.3 765.1h0M426.1 737.9h0M467.2 747.2h0M429.6 766.6h0M459.9 746.5h0M464.0 748.4h0M417.0 741.1h0M455.8 745.8h0M443.6 783.7h0M455.9 779.1h0M458.8 774.7h0M442.9 765.2h0M457.5 769.3h0M453.7 755.4h0M469.7 757.1h0M436.5 769.9h0M436.4 752.7h0M449.9 777.8h0M419.8 739.0h0M450.8 732.9h0" stroke="#3838b2" stroke-width="0.9" stroke-linecap="round" fill="none"/>
<path d="M458.0 769.2h0M429.3 784.6h0M440.3 783.0h0M452.9 745.3h0M420.7 756.2h0M426.5 785.4h0M432.0 752.5h0M466.9 761.2h0M419.4 752.7h0M420.8 764.7h0M421.1 748.7h0M436.7 782.4h0M451.2 773.0h0M438.0 737.9h0M422.1 746.6h0M417.8 740.5h0M441.6 778.1h0M457.2 782.0h0M459.4 781.1h0M417.6 752.2h0M424.6 766.4h0M430.0 771.2h0M416.8 773.5h0M456.3 784.7h0M427.3 786.8h0M420.4 744.7h0M436.7 746.0h0M467.6 764.3h0M417.5 779.9h0M438.3 741.0h0M434.2 759.1h0M437.3 781.9h0M448.6 761.2h0M443.8 777.8h0M443.0 778.9h0M415.0 765.8h0M420.0 744.9h0M414.7 762.9h0M412.5 757.2h0M412.5 769.8h0M420.4 771.1h0M449.0 763.2h0M444.9 730.9h0M439.0 742.5h0M415.8 758.5h0M425.5 759.6h0M430.0 752.8h0M459.5 764.0h0M437.3 745.1h0M463.3 755.4h0M441.0 772.4h0M451.8 764.0h0" stroke="#2e2ea4" stroke-width="0.9" stroke-linecap="round" fill="none"/>
</g>
<circle cx="440.0" cy="759.6" r="31.6" fill="url(#pshade)" stroke="#96928b" stroke-width="1.0"/>
<circle cx="307.0" cy="826.6" r="31.6" fill="#c9c8c6"/>
<path d="M326.8 842.3h0M290.1 802.8h0M305.0 841.7h0M304.6 802.3h0M298.9 850.1h0M285.9 842.6h0M317.5 836.2h0M321.7 816.1h0M305.2 853.5h0M299.1 818.0h0M283.7 818.8h0M319.4 847.5h0M319.5 838.8h0M318.8 833.4h0M325.9 824.0h0M326.9 825.4h0M285.1 809.0h0M303.1 817.3h0M286.7 813.9h0M310.9 835.0h0M322.2 811.3h0M314.0 845.6h0M312.3 853.0h0M297.4 826.6h0M310.7 818.4h0M306.0 831.5h0M306.4 816.5h0M297.9 825.1h0M282.3 829.7h0M287.2 822.2h0M287.2 828.5h0M299.3 821.4h0M292.6 828.9h0M326.4 804.8h0M317.4 831.2h0M300.4 804.8h0M332.1 829.6h0M325.4 819.8h0M293.9 845.2h0M321.3 820.8h0M302.8 839.0h0M292.7 811.7h0M306.3 845.3h0M323.4 830.2h0M329.9 824.1h0M301.1 855.1h0M297.5 838.3h0M318.2 829.1h0M311.5 840.3h0M317.8 815.5h0M307.2 850.0h0M321.1 818.5h0M308.3 808.4h0M285.5 817.9h0M331.5 817.3h0M279.4 825.2h0M294.5 840.5h0M328.5 821.1h0M309.5 809.9h0M327.3 814.6h0M307.5 855.7h0M289.8 830.0h0M306.2 836.2h0M314.6 850.4h0M316.7 838.4h0M286.0 833.8h0M287.5 844.8h0M306.2 844.9h0M297.4 831.5h0M309.0 837.9h0M305.2 815.2h0M300.0 814.3h0M292.3 807.1h0M289.4 849.7h0M294.6 807.9h0M325.4 832.1h0M304.9 847.1h0M332.6 815.2h0M330.0 836.0h0M327.3 817.7h0M330.0 842.6h0M280.3 839.9h0M326.3 807.2h0M314.1 823.3h0M311.5 810.6h0M319.2 840.5h0M305.2 825.5h0M281.7 834.9h0M285.1 827.2h0M298.5 855.0h0M307.3 851.4h0M306.6 826.0h0M321.6 826.3h0M335.9 824.6h0M329.6 810.4h0M290.9 838.6h0M290.5 850.6h0M317.9 828.6h0M333.0 819.3h0M298.9 798.1h0M279.8 822.5h0M280.3 836.6h0M325.0 835.0h0M283.3 814.1h0M285.1 838.2h0M326.1 822.7h0M308.6 831.6h0M320.4 810.7h0M290.5 840.6h0M317.3 836.3h0M308.4 841.7h0M316.5 815.1h0M330.6 841.7h0M302.3 824.8h0M295.7 804.4h0M291.4 805.2h0M294.3 833.2h0M306.1 802.8h0M303.3 814.2h0M289.6 844.5h0M289.5 842.1h0M281.2 831.0h0M294.7 843.9h0M314.9 811.8h0M317.8 848.0h0M325.7 847.3h0M302.5 854.9h0M295.4 824.1h0M282.3 823.3h0M283.1 828.7h0M287.0 848.2h0M319.3 850.5h0M328.2 829.8h0M317.0 831.0h0M282.7 811.5h0M300.0 844.4h0M283.9 830.1h0M296.5 841.0h0M320.6 808.7h0M290.7 848.4h0M326.8 826.5h0M323.6 828.2h0M317.0 819.1h0M315.5 852.0h0M327.9 844.9h0M309.8 845.1h0M298.6 821.0h0M310.1 806.9h0M310.3 800.5h0M331.2 839.3h0M313.4 813.2h0M295.5 819.2h0M281.7 820.3h0M291.3 842.0h0M326.0 847.2h0M287.8 807.0h0M329.7 839.2h0M325.9 838.7h0M310.4 855.0h0M323.3 839.4h0M288.6 830.0h0M329.6 836.3h0M324.8 823.4h0M321.1 816.2h0M304.1 846.7h0M333.2 822.1h0M303.0 822.2h0M303.5 827.7h0M324.1 833.6h0M307.4 836.3h0M280.4 824.6h0M332.7 813.6h0M295.6 832.3h0M326.1 822.2h0M291.9 849.4h0M279.6 816.1h0M298.2 798.7h0M323.7 850.6h0M282.7 820.1h0M302.3 840.7h0M303.4 838.5h0M317.1 824.1h0M308.1 850.5h0M310.9 840.0h0M306.7 841.2h0M332.8 828.3h0M297.9 812.5h0M325.1 813.3h0M312.5 855.6h0M310.4 853.5h0M307.7 825.1h0M318.2 810.6h0M277.7 826.2h0M292.9 831.0h0M334.0 835.3h0M282.6 833.7h0M288.1 803.5h0M333.8 815.2h0M278.3 825.8h0M303.3 836.5h0M303.7 822.7h0M323.9 823.6h0M292.6 834.0h0M297.2 846.4h0M308.1 823.2h0M298.7 839.1h0M326.3 821.5h0M279.6 836.6h0M292.8 838.8h0M295.2 835.3h0M302.4 811.1h0M284.3 825.3h0M309.7 800.8h0M277.9 830.1h0M334.5 816.8h0M302.5 806.8h0M289.2 848.1h0M281.3 830.9h0M293.2 838.4h0M332.6 829.5h0" stroke="#9596d2" stroke-opacity="0.55" stroke-width="1.1" stroke-linecap="round" fill="none"/>
<g filter="url(#pblur)">
<path d="M311.0 836.9h0M300.7 839.9h0M321.5 805.0h0M313.8 833.6h0M297.9 844.8h0M316.2 801.7h0M297.6 830.3h0M301.5 838.1h0M327.5 844.1h0" stroke="#6d6fc9" stroke-width="2.4" stroke-linecap="round" fill="none"/>
<path d="M333.5 820.1h0M287.5 822.8h0M308.7 798.3h0M286.0 806.7h0M290.7 808.2h0M293.8 851.5h0M303.0 798.5h0M282.0 839.3h0M284.3 843.9h0M327.6 805.5h0M297.0 843.7h0" stroke="#2e2ea4" stroke-width="2.4" stroke-linecap="round" fill="none"/>
<path d="M324.6 827.6h0M335.0 828.8h0" stroke="#4c4ebe" stroke-width="2.4" stroke-linecap="round" fill="none"/>
<path d="M283.9 810.4h0M293.1 802.3h0M316.9 827.9h0M320.7 840.3h0M282.0 839.3h0M290.0 817.0h0M309.1 845.5h0" stroke="#3838b2" stroke-width="2.4" stroke-linecap="round" fill="none"/>
<path d="M290.8 851.5h0" stroke="#3838b2" stroke-width="2.0905211437462583" stroke-linecap="round" fill="none"/>
<path d="M302.1 797.2h0" stroke="#3838b2" stroke-width="1.978808683426692" stroke-linecap="round" fill="none"/>
<path d="M331.9 810.2h0" stroke="#4c4ebe" stroke-width="1.975939547243243" stroke-linecap="round" fill="none"/>
<path d="M281.1 827.6h0M318.5 839.1h0M294.6 830.8h0M301.4 826.4h0M317.3 820.7h0M306.5 806.8h0M293.5 800.2h0M316.8 838.4h0M293.4 809.8h0M308.5 807.0h0M306.9 850.0h0M309.9 797.7h0M301.2 812.4h0M310.2 811.3h0M301.6 829.5h0M326.7 846.0h0M309.6 797.4h0M321.7 802.4h0M317.4 837.2h0M323.2 819.6h0M296.8 803.4h0M298.1 800.7h0M305.2 797.1h0" stroke="#6d6fc9" stroke-width="1.8" stroke-linecap="round" fill="none"/>
<path d="M285.7 829.2h0M310.5 797.1h0M299.7 824.5h0M298.2 819.3h0M289.0 811.3h0M283.4 830.4h0M295.5 800.7h0M308.1 798.0h0M292.6 830.9h0M299.6 839.2h0M305.8 839.7h0M303.4 820.2h0M329.4 808.1h0M291.7 846.5h0M332.6 829.1h0M321.1 801.3h0M329.9 829.8h0M328.6 807.2h0M315.2 852.5h0M291.4 841.9h0M317.2 827.0h0M297.9 808.8h0M299.8 800.5h0M315.4 817.1h0M305.4 822.8h0M281.9 817.6h0M328.4 840.1h0M331.2 810.5h0M304.8 814.9h0M334.2 832.0h0M300.8 841.6h0M293.3 815.3h0M291.1 810.2h0M309.7 837.5h0M302.0 803.4h0" stroke="#3838b2" stroke-width="1.8" stroke-linecap="round" fill="none"/>
<path d="M332.0 810.8h0M314.3 846.5h0M307.4 814.4h0M311.7 854.1h0M290.1 804.3h0M279.8 821.5h0M298.1 821.1h0M281.9 818.6h0M324.8 826.1h0M285.9 834.6h0M319.1 825.9h0M307.4 797.7h0M319.4 815.8h0M324.0 842.2h0M314.7 833.0h0M303.7 836.5h0M289.8 805.0h0M318.8 835.3h0M313.9 826.7h0M319.0 801.2h0M311.7 849.5h0M325.0 814.3h0M283.0 822.2h0M322.4 835.5h0M301.9 820.5h0M321.0 845.8h0M326.5 805.0h0M315.6 829.6h0M311.0 852.4h0" stroke="#2e2ea4" stroke-width="1.8" stroke-linecap="round" fill="none"/>
<path d="M292.8 804.3h0M297.7 842.2h0M319.6 803.0h0M282.2 842.2h0M304.8 844.5h0M309.9 801.9h0M300.2 820.2h0M282.6 836.7h0M314.8 797.8h0M325.9 832.6h0M294.3 832.2h0M285.5 809.7h0M308.1 840.1h0M282.6 810.6h0M308.9 842.2h0M298.9 818.6h0M298.9 805.4h0M303.5 809.9h0" stroke="#4c4ebe" stroke-width="1.8" stroke-linecap="round" fill="none"/>
<path d="M311.2 837.7h0M301.5 839.5h0M297.8 831.1h0" stroke="#6d6fc9" stroke-width="1.7" stroke-linecap="round" fill="none"/>
<path d="M334.2 819.6h0M286.3 806.0h0M290.5 809.0h0M294.6 851.2h0M302.5 797.9h0M283.4 844.1h0M296.4 843.2h0" stroke="#2e2ea4" stroke-width="1.7" stroke-linecap="round" fill="none"/>
<path d="M325.1 827.0h0M335.8 828.5h0" stroke="#4c4ebe" stroke-width="1.7" stroke-linecap="round" fill="none"/>
<path d="M284.3 811.1h0M292.4 802.7h0M316.5 827.1h0M321.6 840.5h0M290.8 817.4h0" stroke="#3838b2" stroke-width="1.7" stroke-linecap="round" fill="none"/>
<path d="M281.1 841.6h0" stroke="#4c4ebe" stroke-width="1.6879862726337507" stroke-linecap="round" fill="none"/>
<path d="M337.0 827.2h0" stroke="#3838b2" stroke-width="1.656270185842878" stroke-linecap="round" fill="none"/>
<path d="M289.3 850.8h0" stroke="#2e2ea4" stroke-width="1.6402986983800858" stroke-linecap="round" fill="none"/>
<path d="M309.3 796.7h0" stroke="#2e2ea4" stroke-width="1.5902739928647875" stroke-linecap="round" fill="none"/>
<path d="M284.7 825.7h0M311.1 832.1h0M316.7 847.8h0M299.6 816.1h0M322.1 817.8h0M296.1 798.8h0M299.5 852.2h0M301.1 839.3h0M324.1 816.0h0M291.2 834.2h0M291.7 801.2h0M317.1 822.7h0M294.1 830.0h0M323.2 849.3h0M287.1 808.1h0M306.1 844.2h0M310.3 818.5h0M289.8 807.9h0M320.2 839.9h0M331.6 841.5h0M299.4 822.7h0M331.5 824.2h0M331.3 813.5h0M324.5 809.3h0M320.1 851.3h0M290.2 818.8h0" stroke="#4c4ebe" stroke-width="1.3" stroke-linecap="round" fill="none"/>
<path d="M288.6 811.1h0M296.1 798.8h0M332.0 810.7h0M327.4 812.5h0M301.1 826.5h0M308.7 855.9h0M332.0 810.7h0M318.4 814.9h0M308.8 797.6h0M290.5 801.5h0M289.3 804.5h0M288.8 837.4h0M289.8 832.2h0M311.6 838.0h0M313.2 850.2h0M290.8 846.5h0M321.8 801.2h0M293.7 833.3h0M330.5 842.6h0M289.5 842.1h0M302.4 796.9h0M310.4 800.8h0M289.8 833.1h0M291.2 837.4h0M280.7 822.0h0M315.8 799.3h0M319.6 817.7h0M318.2 831.8h0M290.0 833.9h0M316.8 820.9h0M286.6 839.3h0M286.0 805.6h0M318.6 836.0h0M307.9 811.6h0" stroke="#6d6fc9" stroke-width="1.3" stroke-linecap="round" fill="none"/>
<path d="M299.0 833.2h0M295.8 820.9h0M300.9 801.2h0M322.3 822.7h0M321.5 800.2h0M308.3 798.9h0M322.8 825.6h0M325.8 841.6h0M319.1 837.3h0M294.0 829.7h0M301.3 801.8h0M298.2 836.7h0M299.0 839.5h0M314.1 802.0h0M284.4 806.7h0M297.0 817.6h0M305.9 852.3h0M324.6 803.4h0M325.6 848.2h0M280.4 838.2h0M316.2 836.9h0M308.8 840.0h0M311.4 849.9h0M287.9 837.4h0M302.3 798.0h0M299.1 801.1h0M322.8 841.8h0M285.2 814.6h0M294.8 809.5h0M314.1 803.0h0M297.1 826.1h0M302.5 798.5h0M288.6 817.5h0M328.7 813.8h0M287.7 840.4h0M331.9 834.8h0M296.3 844.3h0M300.3 833.4h0M285.2 811.6h0" stroke="#2e2ea4" stroke-width="1.3" stroke-linecap="round" fill="none"/>
<path d="M313.4 823.2h0M290.9 819.2h0M292.0 801.8h0M303.5 801.5h0M315.7 801.7h0M304.9 856.1h0M325.7 803.7h0M318.7 803.9h0M312.9 798.9h0M314.5 798.0h0M301.3 814.9h0M312.7 828.0h0M280.9 821.9h0M296.7 845.2h0M298.9 832.2h0M298.8 807.1h0M292.4 812.0h0M322.1 842.1h0M279.5 823.0h0M283.6 821.7h0M297.1 800.6h0" stroke="#3838b2" stroke-width="1.3" stroke-linecap="round" fill="none"/>
<path d="M298.3 797.7h0" stroke="#6d6fc9" stroke-width="1.247740261049998" stroke-linecap="round" fill="none"/>
<path d="M293.5 799.6h0" stroke="#2e2ea4" stroke-width="1.2265005862629579" stroke-linecap="round" fill="none"/>
<path d="M331.2 808.6h0" stroke="#2e2ea4" stroke-width="1.2140073106039821" stroke-linecap="round" fill="none"/>
<path d="M281.0 811.3h0" stroke="#3838b2" stroke-width="1.1682902399265132" stroke-linecap="round" fill="none"/>
<path d="M291.6 800.6h0" stroke="#3838b2" stroke-width="1.1603061247970317" stroke-linecap="round" fill="none"/>
<path d="M319.0 798.8h0" stroke="#2e2ea4" stroke-width="1.0813244037907808" stroke-linecap="round" fill="none"/>
<path d="M281.2 842.4h0" stroke="#4c4ebe" stroke-width="1.0" stroke-linecap="round" fill="none"/>
<path d="M332.4 810.1h0M308.3 796.3h0" stroke="#6d6fc9" stroke-width="1.0" stroke-linecap="round" fill="none"/>
<path d="M334.7 814.3h0" stroke="#3838b2" stroke-width="1.0" stroke-linecap="round" fill="none"/>
<path d="M281.9 830.4h0M293.2 828.0h0M285.7 805.8h0M307.9 796.6h0M307.1 813.9h0M287.9 837.3h0M293.2 852.5h0M298.1 800.3h0M306.4 839.0h0M323.6 807.3h0M324.4 804.8h0M314.5 816.8h0M299.0 801.6h0M292.3 806.8h0M330.2 813.5h0M333.3 811.5h0M290.3 808.2h0M280.7 812.3h0M292.2 820.5h0M325.4 829.3h0M329.4 836.3h0M283.6 809.9h0M310.2 812.2h0" stroke="#6d6fc9" stroke-width="0.9" stroke-linecap="round" fill="none"/>
<path d="M318.7 838.4h0M329.6 807.8h0M310.1 825.3h0M293.0 803.5h0M296.4 799.0h0M323.7 826.2h0M317.7 807.6h0M291.7 824.7h0M318.8 804.1h0M320.8 836.0h0M319.2 803.6h0M288.6 809.8h0M315.5 852.6h0M289.2 811.4h0M298.1 818.4h0M310.4 845.5h0M320.1 831.7h0M284.6 807.6h0M312.4 799.9h0M278.6 830.6h0M310.7 856.7h0M290.7 803.8h0M282.1 828.4h0M285.5 818.8h0M292.6 803.3h0M288.2 841.7h0M308.5 797.9h0M330.1 807.0h0M302.1 800.2h0M300.4 813.8h0M322.2 823.9h0M325.5 830.1h0M300.4 806.9h0M293.4 809.7h0M317.5 800.3h0M301.0 803.1h0M294.0 820.1h0M304.0 851.7h0M314.1 825.7h0M296.9 804.6h0M291.6 804.8h0M331.6 817.5h0M290.3 834.4h0M303.6 799.2h0M327.6 841.2h0M293.8 853.0h0M307.1 838.3h0M288.8 806.5h0M303.6 821.5h0" stroke="#3838b2" stroke-width="0.9" stroke-linecap="round" fill="none"/>
<path d="M300.0 815.6h0M310.0 856.6h0M291.6 837.6h0M280.1 839.3h0M326.7 807.7h0M313.4 844.6h0M332.4 810.1h0M291.2 834.4h0M309.0 839.5h0M316.9 801.2h0M300.2 839.7h0M296.2 808.0h0M307.3 825.7h0M307.6 797.4h0M299.8 797.6h0M314.8 843.2h0M293.4 799.5h0M306.8 841.8h0M329.9 806.8h0M290.8 834.3h0M293.2 835.8h0M326.3 813.7h0M297.5 835.7h0M296.1 804.2h0M304.9 797.4h0M284.7 810.0h0M323.3 812.3h0M333.8 828.6h0M295.8 845.5h0M328.6 808.0h0M320.9 803.8h0M328.0 816.4h0M321.7 830.4h0M301.2 798.3h0M300.0 812.7h0M283.8 810.5h0M316.8 826.9h0M322.1 816.2h0M326.2 825.6h0M293.7 844.5h0M321.6 842.0h0M282.4 835.4h0M312.8 841.4h0M332.5 839.0h0" stroke="#2e2ea4" stroke-width="0.9" stroke-linecap="round" fill="none"/>
<path d="M302.4 846.4h0M302.0 815.7h0M329.8 807.9h0M284.6 830.6h0M322.4 823.3h0M322.2 805.0h0M301.6 813.7h0M303.0 799.2h0M282.6 820.2h0M304.2 838.4h0M331.6 829.8h0M329.8 819.4h0M279.0 830.6h0M326.0 812.8h0M333.8 824.5h0M312.6 839.9h0M312.5 810.0h0M298.9 801.3h0M316.8 827.4h0M313.3 833.9h0M280.4 836.0h0M294.4 833.9h0M301.6 837.2h0" stroke="#4c4ebe" stroke-width="0.9" stroke-linecap="round" fill="none"/>
</g>
<circle cx="307.0" cy="826.6" r="31.6" fill="url(#pshade)" stroke="#96928b" stroke-width="1.0"/>
<circle cx="373.3" cy="826.6" r="31.6" fill="#c9c8c6"/>
<path d="M376.5 825.9h0M372.2 814.7h0M377.2 826.3h0M391.4 809.5h0M392.1 803.1h0M374.4 844.1h0M369.2 811.2h0M372.1 840.9h0M390.9 804.7h0M377.5 813.0h0M392.5 816.8h0M375.7 846.8h0M365.9 830.7h0M356.7 819.5h0M347.0 814.3h0M361.6 811.4h0M393.0 803.9h0M344.1 828.4h0M384.5 827.9h0M387.0 852.3h0M364.0 802.8h0M368.5 847.2h0M380.5 820.4h0M378.2 831.0h0M346.2 832.0h0M355.4 820.1h0M360.6 826.4h0M390.3 820.9h0M374.9 843.3h0M381.0 811.5h0M387.7 816.8h0M365.6 829.5h0M395.7 811.9h0M363.2 828.2h0M354.9 827.5h0M388.8 802.1h0M372.4 810.5h0M400.8 833.9h0M384.6 822.5h0M352.4 826.6h0M379.5 825.7h0M398.9 837.1h0M354.8 817.9h0M377.3 803.8h0M367.9 812.4h0M375.7 828.0h0M361.2 847.6h0M360.4 838.8h0M354.7 809.5h0M359.4 817.1h0M385.0 802.4h0M395.6 809.0h0M397.8 828.9h0M362.5 841.9h0M362.0 825.3h0M373.4 856.5h0M359.3 851.7h0M366.5 811.1h0M363.5 847.9h0M368.1 809.8h0M384.9 831.1h0M389.8 806.9h0M394.7 843.9h0M357.8 818.6h0M381.8 819.9h0M387.7 836.8h0M371.6 804.4h0M344.8 829.4h0M352.3 843.1h0M399.9 827.4h0M386.9 846.8h0M386.2 805.9h0M353.7 816.0h0M373.5 808.3h0M375.6 848.9h0M363.1 825.3h0M353.1 822.7h0M387.3 847.7h0M376.4 809.4h0M393.1 804.2h0M363.2 810.2h0M371.8 837.3h0M369.0 856.4h0M400.1 837.3h0M364.6 801.4h0M392.9 840.7h0M380.2 850.4h0M380.3 802.0h0M345.7 820.4h0M374.8 838.4h0M378.0 821.3h0M356.3 836.2h0M386.5 813.8h0M354.0 817.6h0M352.8 829.3h0M350.5 831.2h0M355.5 834.7h0M399.8 813.1h0M373.8 855.9h0M390.5 829.2h0M383.3 819.3h0M358.7 800.4h0M357.7 813.4h0M393.1 830.4h0M347.3 832.6h0M352.4 843.8h0M353.4 840.1h0M374.0 814.4h0M392.6 820.8h0M343.9 830.4h0M353.7 817.2h0M376.5 840.4h0M374.7 805.2h0M359.7 805.5h0M366.2 811.0h0M386.5 811.3h0M385.9 851.6h0M381.8 820.5h0M392.0 810.1h0M370.4 849.2h0M383.6 821.1h0M365.4 814.1h0M390.6 850.3h0M397.7 825.9h0M378.3 808.3h0M352.0 836.9h0M383.1 803.4h0M349.9 831.1h0M351.1 842.2h0M391.3 807.2h0M365.2 843.3h0M391.7 824.3h0M368.5 818.6h0M383.0 837.1h0M366.6 813.9h0M368.8 819.8h0M364.2 803.1h0M372.7 841.3h0M373.2 847.8h0M379.1 840.0h0M383.1 799.2h0M384.8 845.0h0M357.4 802.0h0M352.9 818.6h0M376.9 800.1h0M367.7 803.5h0M375.6 820.9h0M374.9 812.5h0M361.9 841.6h0M350.4 823.7h0M358.8 817.8h0M357.6 845.3h0M390.2 818.8h0M401.1 828.0h0M394.3 808.6h0M360.5 811.9h0M399.8 838.1h0M363.6 830.7h0M368.8 822.1h0M355.4 841.6h0M379.2 809.5h0M379.2 843.2h0M377.2 818.4h0M384.7 840.2h0M400.3 818.2h0M379.8 825.2h0M361.8 826.5h0M350.3 812.9h0M348.5 829.4h0M364.3 807.1h0M362.0 836.0h0M367.8 797.3h0M401.7 820.8h0M387.4 806.7h0M362.8 826.9h0M377.2 814.3h0M398.6 814.8h0M367.4 854.6h0M374.3 799.5h0M385.5 836.5h0M389.7 850.8h0M374.1 846.6h0M373.6 807.6h0M357.2 809.1h0M352.2 846.5h0M360.6 804.0h0M370.6 803.1h0M387.3 851.8h0M382.3 823.2h0M364.5 836.2h0M388.8 843.5h0M363.3 831.1h0M348.4 829.5h0M389.2 844.8h0M358.5 803.5h0M401.5 826.4h0M367.2 832.8h0M367.1 837.3h0M384.3 812.1h0M349.5 817.1h0M344.1 834.0h0M360.7 807.1h0M380.7 839.3h0M365.8 808.1h0M348.5 813.1h0M361.1 801.9h0M368.1 832.4h0M368.4 854.8h0M374.0 837.1h0M400.6 839.2h0M375.4 834.6h0M369.4 831.5h0M370.2 801.8h0M350.6 838.6h0M400.0 829.6h0M356.9 806.3h0M391.7 849.5h0M394.1 824.7h0M364.1 846.2h0M368.0 806.8h0" stroke="#9596d2" stroke-opacity="0.55" stroke-width="1.1" stroke-linecap="round" fill="none"/>
<g filter="url(#pblur)">
<path d="M375.7 845.1h0M371.5 852.7h0M357.4 814.8h0M366.5 810.1h0M377.9 820.0h0M377.0 844.6h0M380.9 808.5h0M401.0 818.0h0M375.4 831.8h0M382.7 823.7h0M352.3 806.0h0" stroke="#2e2ea4" stroke-width="2.4" stroke-linecap="round" fill="none"/>
<path d="M397.6 816.3h0M359.7 816.8h0M346.4 823.3h0M393.1 846.6h0M351.9 825.6h0" stroke="#4c4ebe" stroke-width="2.4" stroke-linecap="round" fill="none"/>
<path d="M389.1 849.5h0M349.6 810.2h0M363.2 824.1h0" stroke="#6d6fc9" stroke-width="2.4" stroke-linecap="round" fill="none"/>
<path d="M345.9 816.7h0M345.9 822.9h0M387.4 824.3h0M369.1 809.5h0M369.9 853.7h0M396.1 841.4h0M372.4 829.4h0" stroke="#3838b2" stroke-width="2.4" stroke-linecap="round" fill="none"/>
<path d="M397.4 820.4h0M359.4 845.3h0M395.2 808.3h0M377.3 838.0h0M355.8 814.9h0M394.5 811.0h0M347.5 836.1h0M375.3 855.3h0M378.4 839.7h0M348.2 816.4h0M346.2 814.1h0M368.2 836.9h0M381.0 797.8h0M387.3 833.4h0M348.3 831.3h0" stroke="#6d6fc9" stroke-width="1.8" stroke-linecap="round" fill="none"/>
<path d="M360.8 804.3h0M347.0 822.4h0M397.5 819.0h0M379.5 824.9h0M388.7 830.0h0M397.1 810.5h0M365.3 843.7h0M388.1 823.7h0M386.0 820.0h0M351.7 847.2h0M354.8 845.2h0M354.4 848.3h0M399.3 823.8h0M350.5 843.6h0M376.8 807.2h0M374.3 814.6h0M396.2 819.7h0" stroke="#4c4ebe" stroke-width="1.8" stroke-linecap="round" fill="none"/>
<path d="M373.0 843.0h0M396.5 821.5h0M359.5 830.2h0M377.1 807.7h0M389.8 841.4h0M366.3 825.2h0M395.4 817.4h0M385.6 818.8h0M366.0 811.8h0M388.7 803.1h0M399.5 820.3h0M394.5 811.5h0M353.4 814.2h0M382.2 803.1h0M366.6 823.5h0M398.6 842.5h0M398.1 822.3h0M347.1 832.3h0M388.0 801.4h0M391.1 840.2h0M363.6 819.3h0M354.5 836.7h0M389.2 841.9h0M362.6 847.0h0M369.9 854.3h0M363.4 824.6h0M344.6 830.3h0M359.4 849.5h0" stroke="#2e2ea4" stroke-width="1.8" stroke-linecap="round" fill="none"/>
<path d="M373.7 813.4h0M345.9 822.9h0M394.7 833.3h0M376.3 856.3h0M359.4 844.1h0M364.8 799.4h0M381.6 854.9h0M382.4 807.1h0M352.7 830.7h0M389.1 803.0h0M353.0 834.1h0M358.0 844.0h0M379.0 847.5h0M389.6 805.0h0M388.0 805.7h0M385.5 850.7h0M399.3 832.6h0M398.1 818.4h0M397.6 818.8h0M362.1 811.5h0M389.9 850.2h0M386.9 810.7h0" stroke="#3838b2" stroke-width="1.8" stroke-linecap="round" fill="none"/>
<path d="M354.9 803.1h0" stroke="#6d6fc9" stroke-width="1.7896815872721348" stroke-linecap="round" fill="none"/>
<path d="M356.1 851.1h0" stroke="#2e2ea4" stroke-width="1.710981278081789" stroke-linecap="round" fill="none"/>
<path d="M376.4 844.7h0M371.7 853.5h0M377.1 820.4h0M376.1 844.7h0M400.3 818.6h0M374.7 831.4h0M352.3 806.9h0" stroke="#2e2ea4" stroke-width="1.7" stroke-linecap="round" fill="none"/>
<path d="M398.2 815.8h0M359.0 817.2h0M393.8 846.0h0" stroke="#4c4ebe" stroke-width="1.7" stroke-linecap="round" fill="none"/>
<path d="M345.7 817.5h0M346.0 823.7h0M369.6 810.2h0M369.7 852.9h0M395.3 841.6h0M372.4 830.2h0" stroke="#3838b2" stroke-width="1.7" stroke-linecap="round" fill="none"/>
<path d="M363.4 824.9h0" stroke="#6d6fc9" stroke-width="1.7" stroke-linecap="round" fill="none"/>
<path d="M398.0 809.6h0" stroke="#3838b2" stroke-width="1.6270150902668163" stroke-linecap="round" fill="none"/>
<path d="M345.5 815.1h0" stroke="#6d6fc9" stroke-width="1.5076423623923745" stroke-linecap="round" fill="none"/>
<path d="M343.4 830.4h0" stroke="#2e2ea4" stroke-width="1.3454185891227937" stroke-linecap="round" fill="none"/>
<path d="M397.8 819.1h0M397.3 821.2h0M376.8 810.0h0M372.4 853.3h0M347.6 827.0h0M390.0 805.7h0M400.9 832.0h0M348.3 822.0h0M367.5 854.5h0M373.7 853.3h0M352.6 806.1h0M390.5 838.4h0M381.9 809.1h0M350.2 834.1h0M399.4 828.5h0M382.0 809.7h0M391.7 833.0h0M364.3 799.3h0M359.1 844.1h0M389.0 851.4h0M392.6 804.7h0M401.8 824.5h0M374.4 827.4h0M371.1 800.8h0M368.5 797.3h0M369.8 817.1h0M367.6 848.2h0M366.0 848.0h0M363.0 843.6h0M385.4 843.0h0M367.4 841.8h0" stroke="#6d6fc9" stroke-width="1.3" stroke-linecap="round" fill="none"/>
<path d="M350.7 820.0h0M390.6 838.9h0M387.1 830.4h0M375.8 828.8h0M373.1 840.0h0M387.2 833.1h0M395.1 843.9h0M372.5 852.0h0M378.9 799.9h0M387.9 802.4h0M352.0 843.0h0M365.0 843.7h0M383.2 849.6h0M380.2 837.0h0M354.2 812.1h0M372.2 835.9h0M390.1 813.8h0" stroke="#4c4ebe" stroke-width="1.3" stroke-linecap="round" fill="none"/>
<path d="M371.5 852.5h0M394.5 811.8h0M397.2 809.8h0M350.9 842.9h0M347.6 825.8h0M397.5 820.5h0M373.8 815.9h0M359.3 852.9h0M391.9 806.0h0M397.5 816.2h0M380.6 847.5h0M388.4 851.9h0M392.6 809.6h0M375.5 803.4h0M391.2 840.1h0M371.0 855.6h0M371.4 853.9h0M368.4 831.0h0M356.9 849.1h0M349.9 823.5h0M383.8 803.9h0M357.4 850.7h0M403.0 821.5h0M395.1 836.3h0M361.8 848.7h0M373.4 805.7h0M381.3 825.5h0M360.4 807.9h0M376.4 856.4h0M376.2 827.2h0M357.5 802.2h0M378.8 817.7h0M349.9 828.1h0M358.4 818.3h0" stroke="#3838b2" stroke-width="1.3" stroke-linecap="round" fill="none"/>
<path d="M359.3 801.0h0M393.1 806.9h0M366.1 802.9h0M374.4 804.9h0M357.3 849.6h0M388.0 839.9h0M370.1 854.3h0M366.4 828.3h0M374.8 808.6h0M386.9 842.6h0M351.5 806.7h0M359.8 825.0h0M387.9 801.7h0M372.9 814.4h0M397.0 810.9h0M346.0 827.7h0M393.8 840.9h0M401.0 821.7h0M381.8 841.8h0M388.0 812.0h0M382.6 838.6h0M360.8 852.6h0M344.5 832.3h0M358.7 848.6h0M364.9 819.8h0" stroke="#2e2ea4" stroke-width="1.3" stroke-linecap="round" fill="none"/>
<path d="M376.0 796.5h0" stroke="#4c4ebe" stroke-width="1.0824582332914474" stroke-linecap="round" fill="none"/>
<path d="M392.6 803.3h0" stroke="#4c4ebe" stroke-width="1.0532320772286994" stroke-linecap="round" fill="none"/>
<path d="M353.4 803.7h0M370.6 856.8h0M360.0 853.8h0" stroke="#3838b2" stroke-width="1.0" stroke-linecap="round" fill="none"/>
<path d="M400.3 812.8h0" stroke="#6d6fc9" stroke-width="1.0" stroke-linecap="round" fill="none"/>
<path d="M382.8 844.5h0M378.5 848.9h0M403.2 831.3h0M401.4 830.8h0M347.4 833.5h0M346.7 828.1h0M395.4 817.5h0M347.7 825.2h0M389.0 839.7h0M395.5 806.5h0M385.3 816.6h0M397.3 821.3h0M378.5 847.6h0M364.4 825.9h0M346.4 830.1h0M378.6 850.4h0M359.1 849.6h0M394.3 846.1h0M389.2 848.1h0M346.2 824.4h0M360.2 833.1h0M365.3 826.4h0M378.0 854.2h0M380.5 801.3h0M386.7 810.0h0M362.5 803.4h0M368.0 855.9h0M394.7 833.3h0M388.5 822.7h0M385.2 824.9h0M360.6 842.4h0M374.9 823.2h0M374.6 831.9h0M400.0 817.8h0M393.3 814.9h0M379.5 848.4h0M352.0 825.9h0M389.0 851.4h0M367.3 816.0h0M369.6 818.8h0M387.3 833.0h0M386.1 841.1h0M375.3 815.5h0M363.6 847.5h0M357.6 844.1h0M358.0 837.5h0M359.2 810.7h0M381.5 855.0h0M394.9 846.0h0M380.4 842.4h0M362.0 850.6h0M363.7 846.6h0M401.5 829.6h0" stroke="#2e2ea4" stroke-width="0.9" stroke-linecap="round" fill="none"/>
<path d="M358.1 803.4h0M402.7 828.0h0M385.7 829.0h0M388.3 850.3h0M388.7 830.2h0M359.0 843.1h0M371.9 853.5h0M376.5 855.7h0M392.7 808.7h0M369.4 837.8h0M365.8 801.7h0M389.7 823.8h0M384.6 804.6h0M399.9 822.0h0M386.2 853.1h0M369.4 807.0h0M382.5 846.3h0M374.5 827.6h0M402.0 825.2h0M358.6 839.2h0M346.6 827.0h0M354.7 813.4h0M382.3 802.7h0M390.5 851.5h0M374.6 797.2h0M372.7 810.7h0M355.4 816.9h0" stroke="#4c4ebe" stroke-width="0.9" stroke-linecap="round" fill="none"/>
<path d="M382.7 830.4h0M372.0 800.0h0M389.2 850.1h0M379.0 835.9h0M384.5 810.3h0M349.6 822.9h0M382.7 828.7h0M352.3 808.6h0M350.6 832.0h0M387.5 819.9h0M391.6 806.5h0M394.9 829.9h0M368.8 814.4h0M381.2 807.3h0M381.4 853.0h0M375.3 849.8h0M376.3 807.9h0M374.5 853.7h0M355.4 846.5h0M373.0 843.6h0M349.7 844.3h0M391.8 820.3h0M356.6 840.2h0M346.0 814.6h0M355.0 830.9h0M382.7 855.4h0M365.1 839.0h0M352.5 835.9h0M349.8 826.8h0M393.2 839.3h0M392.0 812.9h0M359.9 852.7h0" stroke="#3838b2" stroke-width="0.9" stroke-linecap="round" fill="none"/>
<path d="M361.6 817.5h0M386.9 833.6h0M355.4 842.3h0M363.9 811.2h0M373.2 826.0h0M371.6 825.5h0M360.7 838.7h0M344.1 828.9h0M375.6 845.8h0M374.8 826.5h0M393.4 810.8h0M386.4 809.3h0M390.4 838.4h0M380.5 839.4h0M351.9 836.0h0M380.7 808.5h0M392.6 807.8h0M350.4 837.1h0M385.8 835.7h0M356.5 849.9h0M368.2 854.0h0M394.9 813.4h0" stroke="#6d6fc9" stroke-width="0.9" stroke-linecap="round" fill="none"/>
</g>
<circle cx="373.3" cy="826.6" r="31.6" fill="url(#pshade)" stroke="#96928b" stroke-width="1.0"/>
<circle cx="440.0" cy="826.6" r="31.6" fill="#cecdcb"/>
<path d="M426.5 842.5h0M422.6 836.6h0M419.4 839.7h0M438.7 850.5h0M456.5 827.7h0M434.2 836.4h0M439.3 809.9h0M447.2 798.1h0M439.4 855.0h0M448.7 803.6h0M460.0 830.1h0M428.5 814.9h0M442.7 843.1h0M438.6 853.3h0M428.7 842.6h0M421.7 803.7h0M438.3 832.7h0M467.1 822.1h0M445.5 805.5h0M441.1 838.4h0M433.2 845.9h0M463.1 836.7h0M439.5 823.2h0M451.6 809.0h0M458.1 816.5h0M445.8 807.1h0M423.9 812.7h0M451.3 828.2h0M442.1 845.7h0M424.9 842.8h0M429.7 810.6h0M430.9 846.1h0M465.5 818.8h0M424.8 804.1h0M441.3 836.1h0M448.7 832.4h0M463.8 828.0h0M448.9 821.6h0M428.7 799.7h0M441.1 814.9h0M430.2 815.0h0M441.4 829.5h0M411.5 822.0h0M449.2 833.6h0M435.5 830.4h0M414.9 832.3h0M434.2 828.1h0M453.2 829.1h0M425.6 801.5h0M430.3 826.4h0M444.1 845.6h0M448.0 833.0h0M414.7 837.7h0M442.2 854.8h0M454.1 812.7h0M442.0 839.4h0M426.4 802.8h0M448.8 816.0h0M436.0 828.6h0M434.5 842.0h0M445.9 832.4h0M456.6 825.9h0M418.0 826.7h0M417.2 830.6h0M418.9 826.3h0M461.0 838.1h0M427.5 804.3h0M432.1 845.5h0M448.9 802.5h0M456.5 832.2h0M452.0 849.0h0M424.6 837.4h0M443.4 846.6h0M435.3 803.2h0M443.4 845.2h0M434.9 821.6h0M443.7 824.0h0M431.8 818.4h0M464.1 819.8h0M443.7 847.6h0M455.7 803.6h0M427.5 806.1h0M438.6 797.8h0M416.5 824.6h0M446.4 806.1h0M444.5 849.1h0M425.1 847.2h0M439.7 797.9h0M443.5 829.4h0M463.4 815.8h0M467.2 826.2h0M451.4 823.2h0M449.2 848.3h0M440.5 816.3h0M453.7 822.0h0M445.7 845.6h0M443.7 834.8h0M444.8 829.2h0M454.5 846.7h0M444.9 800.6h0M417.3 839.5h0M461.0 845.1h0M431.1 832.3h0M430.2 835.5h0M439.2 808.2h0M453.1 828.0h0M465.7 840.8h0M417.4 840.7h0M423.9 815.9h0M437.5 804.4h0M468.9 834.7h0M425.9 846.4h0M414.4 841.3h0M443.6 832.8h0M458.4 831.6h0M451.7 810.2h0M450.3 821.8h0M452.0 824.0h0M449.9 817.8h0M419.5 814.9h0M459.0 823.1h0M443.7 820.9h0M457.5 813.8h0M411.2 819.7h0M430.8 848.3h0M425.8 818.0h0M451.9 842.3h0M435.2 849.6h0M432.8 831.3h0M429.3 799.7h0M427.8 815.6h0M430.3 854.4h0M415.9 835.4h0M464.2 838.9h0M452.1 817.1h0M431.5 849.3h0M465.5 818.8h0M450.1 828.0h0M454.6 814.3h0M459.3 820.7h0M447.2 814.5h0M460.2 822.0h0M453.4 826.9h0M456.9 836.2h0M468.6 818.7h0M457.3 818.2h0M443.1 800.8h0M454.5 800.8h0M453.1 803.8h0M434.9 837.9h0M425.9 834.6h0M440.2 814.7h0M447.5 851.2h0M448.4 828.7h0M444.2 826.6h0M461.1 841.6h0M438.8 836.4h0M422.0 826.9h0M447.7 826.8h0M439.5 846.1h0M454.4 839.8h0M411.1 829.5h0M427.1 816.1h0M442.2 839.3h0M417.7 845.7h0M451.4 824.3h0M423.9 805.8h0M463.4 814.8h0M433.9 819.9h0M437.4 855.7h0M464.0 811.5h0M426.2 849.3h0M444.5 808.2h0M429.6 844.2h0M436.0 825.6h0M469.8 830.7h0M423.9 837.3h0M421.5 814.9h0M432.9 805.8h0M446.2 827.4h0" stroke="#9596d2" stroke-opacity="0.55" stroke-width="1.1" stroke-linecap="round" fill="none"/>
<g filter="url(#pblur)">
<path d="M453.7 808.3h0M439.8 799.2h0M433.9 825.1h0M438.3 852.4h0" stroke="#4c4ebe" stroke-width="2.4" stroke-linecap="round" fill="none"/>
<path d="M419.1 812.0h0" stroke="#6d6fc9" stroke-width="2.4" stroke-linecap="round" fill="none"/>
<path d="M461.6 835.8h0" stroke="#2e2ea4" stroke-width="2.4" stroke-linecap="round" fill="none"/>
<path d="M432.1 842.0h0" stroke="#3838b2" stroke-width="2.4" stroke-linecap="round" fill="none"/>
<path d="M459.0 847.5h0M437.7 835.8h0M448.5 844.7h0M425.9 836.2h0M430.5 836.2h0M440.6 851.7h0M418.7 814.5h0M416.7 825.3h0M434.2 855.7h0M422.6 838.7h0M464.8 832.4h0M428.3 827.2h0M456.1 836.2h0M456.0 826.4h0M422.0 844.6h0" stroke="#4c4ebe" stroke-width="1.8" stroke-linecap="round" fill="none"/>
<path d="M421.0 849.4h0M413.2 839.7h0M442.0 833.9h0M437.2 816.8h0M428.6 814.0h0M444.9 855.7h0M467.9 821.7h0M457.3 812.3h0M420.7 813.4h0M421.9 849.5h0M426.4 850.4h0M440.2 816.6h0M422.1 842.6h0M442.4 828.6h0M435.0 852.9h0" stroke="#2e2ea4" stroke-width="1.8" stroke-linecap="round" fill="none"/>
<path d="M457.7 835.4h0M447.6 805.1h0M438.5 818.4h0M464.5 815.2h0M418.5 845.0h0M451.3 852.3h0M461.3 845.5h0" stroke="#6d6fc9" stroke-width="1.8" stroke-linecap="round" fill="none"/>
<path d="M443.3 798.3h0M426.1 838.5h0M449.6 851.4h0M461.4 824.0h0M459.1 821.5h0M424.5 842.6h0M449.0 854.7h0M438.4 839.3h0M413.1 832.1h0M461.9 822.2h0M463.2 809.1h0" stroke="#3838b2" stroke-width="1.8" stroke-linecap="round" fill="none"/>
<path d="M418.3 811.7h0" stroke="#6d6fc9" stroke-width="1.7" stroke-linecap="round" fill="none"/>
<path d="M439.2 798.6h0M437.8 853.1h0" stroke="#4c4ebe" stroke-width="1.7" stroke-linecap="round" fill="none"/>
<path d="M462.3 835.4h0" stroke="#2e2ea4" stroke-width="1.7" stroke-linecap="round" fill="none"/>
<path d="M465.3 842.6h0" stroke="#3838b2" stroke-width="1.6309715886024279" stroke-linecap="round" fill="none"/>
<path d="M418.7 838.1h0M422.7 838.5h0M465.1 817.4h0M432.2 854.9h0M418.5 837.0h0M432.0 852.0h0M441.8 834.1h0M441.4 816.5h0M424.8 848.8h0M427.3 801.5h0M443.9 822.5h0M440.3 849.5h0M432.5 809.2h0M418.0 844.2h0M450.3 836.8h0M457.1 848.8h0M435.6 801.8h0M451.3 808.8h0M416.8 837.1h0M433.6 841.1h0M431.6 852.3h0M452.7 846.8h0M452.8 805.8h0M463.8 835.7h0M413.6 812.7h0M463.1 831.0h0M421.9 844.9h0M425.7 800.9h0M461.3 825.5h0M434.7 816.3h0M438.5 809.9h0" stroke="#2e2ea4" stroke-width="1.3" stroke-linecap="round" fill="none"/>
<path d="M419.3 837.6h0M455.6 835.5h0M420.5 808.5h0M463.7 828.3h0M423.7 804.5h0M465.3 829.3h0M430.2 851.3h0M425.3 810.5h0M423.6 849.5h0M430.9 844.5h0M432.4 800.3h0M420.8 821.7h0M420.4 827.9h0M449.1 847.5h0M441.6 801.2h0M413.7 841.2h0M413.1 838.8h0M429.5 847.2h0M435.5 855.5h0M427.5 809.6h0M464.6 821.3h0M426.6 838.5h0M420.8 804.8h0M459.3 827.1h0M428.3 811.7h0M420.0 844.4h0M457.7 844.1h0M430.0 808.3h0M431.1 854.7h0M458.9 819.1h0M424.6 851.5h0" stroke="#3838b2" stroke-width="1.3" stroke-linecap="round" fill="none"/>
<path d="M450.9 844.2h0M430.0 833.0h0M425.7 840.4h0M450.2 814.6h0M442.0 853.5h0M453.2 826.0h0M444.6 854.3h0M434.3 854.5h0M414.5 835.6h0M423.8 848.6h0M430.3 805.6h0M432.1 808.9h0M429.9 850.9h0M439.5 851.0h0M460.6 827.9h0M429.5 836.0h0M427.9 830.2h0M458.9 837.1h0M414.6 839.3h0M427.6 848.0h0" stroke="#6d6fc9" stroke-width="1.3" stroke-linecap="round" fill="none"/>
<path d="M450.1 835.2h0M457.0 830.8h0M455.8 835.2h0M441.3 856.5h0M423.3 849.9h0M451.1 848.0h0M461.5 823.7h0M423.7 805.3h0M458.3 810.4h0M428.6 821.7h0M450.3 804.3h0M451.8 823.7h0M463.9 835.7h0M458.9 838.1h0M429.9 838.8h0M420.7 845.0h0M457.2 835.0h0M461.8 834.8h0" stroke="#4c4ebe" stroke-width="1.3" stroke-linecap="round" fill="none"/>
<path d="M420.6 849.7h0" stroke="#2e2ea4" stroke-width="1.234433699070621" stroke-linecap="round" fill="none"/>
<path d="M419.2 848.6h0M442.0 796.4h0" stroke="#3838b2" stroke-width="1.0" stroke-linecap="round" fill="none"/>
<path d="M442.9 856.8h0" stroke="#4c4ebe" stroke-width="1.0" stroke-linecap="round" fill="none"/>
<path d="M417.2 846.5h0" stroke="#2e2ea4" stroke-width="1.0" stroke-linecap="round" fill="none"/>
<path d="M438.4 809.7h0M438.9 854.6h0M426.0 838.4h0M419.8 824.4h0M453.1 809.9h0M463.9 842.7h0M464.8 827.9h0M432.8 853.2h0M442.0 847.2h0M452.0 811.0h0M464.0 835.8h0M467.7 833.7h0M466.7 822.6h0M419.3 810.6h0M430.6 808.7h0M422.8 812.7h0M466.2 823.8h0M462.3 806.0h0M456.2 827.5h0M446.3 849.4h0M432.7 836.2h0M448.4 855.2h0M419.7 837.2h0M412.9 839.1h0M454.6 847.3h0M460.8 843.3h0M447.1 844.3h0M426.3 822.4h0M452.3 839.3h0M425.8 850.2h0" stroke="#2e2ea4" stroke-width="0.9" stroke-linecap="round" fill="none"/>
<path d="M455.1 834.8h0M465.2 822.5h0M450.6 851.9h0M434.2 800.7h0M450.3 846.2h0M451.4 837.6h0M464.7 843.2h0M432.4 809.2h0M432.6 798.6h0M423.3 812.4h0M448.4 845.6h0M466.7 838.1h0M450.3 830.9h0M441.9 853.7h0M432.7 835.0h0M463.0 814.5h0M465.2 835.5h0M432.5 840.0h0M436.4 811.0h0M416.6 810.5h0M469.1 823.8h0M444.3 826.0h0M427.4 827.9h0M438.9 835.3h0M458.0 844.8h0M424.0 848.3h0M450.5 805.3h0M458.8 845.3h0M425.3 850.8h0M462.0 817.9h0M442.2 807.6h0M425.5 849.9h0M429.0 833.3h0M418.5 848.0h0" stroke="#3838b2" stroke-width="0.9" stroke-linecap="round" fill="none"/>
<path d="M453.7 812.2h0M454.4 803.3h0M457.8 845.6h0M440.8 809.7h0M437.7 855.5h0M437.8 806.4h0M427.1 802.8h0M455.9 839.2h0M429.2 852.5h0M448.3 827.9h0M451.9 835.6h0M452.6 824.9h0M466.3 840.7h0M449.2 834.0h0M435.7 831.2h0M425.5 822.4h0M443.0 807.6h0M438.0 815.7h0M427.1 849.3h0M423.2 802.2h0M415.9 837.4h0M466.3 836.4h0M450.4 801.9h0M439.7 856.7h0M461.5 847.3h0M452.9 824.8h0M460.9 809.2h0M443.7 833.6h0" stroke="#6d6fc9" stroke-width="0.9" stroke-linecap="round" fill="none"/>
<path d="M434.8 809.4h0M418.2 837.3h0M442.1 799.7h0M415.0 835.2h0M429.8 821.4h0M444.3 829.3h0M439.1 805.6h0M431.6 849.7h0M448.6 825.6h0M420.1 848.6h0M457.1 825.6h0M440.9 814.1h0M412.4 821.7h0M429.5 811.4h0M445.8 813.9h0M467.2 832.1h0M444.4 831.4h0" stroke="#4c4ebe" stroke-width="0.9" stroke-linecap="round" fill="none"/>
</g>
<circle cx="440.0" cy="826.6" r="31.6" fill="url(#pshade)" stroke="#96928b" stroke-width="1.0"/>
<text x="270.3" y="767.0" font-size="11.6" text-anchor="end" fill="#111" stroke="#111" stroke-width="0.22">0</text>
<text x="270.3" y="832.0" font-size="11.6" text-anchor="end" fill="#111" stroke="#111" stroke-width="0.22">20</text>
<line x1="531.40" y1="536.85" x2="531.40" y2="659.20" stroke="#111" stroke-width="1.3"/>
<line x1="530.80" y1="658.60" x2="669.80" y2="658.60" stroke="#111" stroke-width="1.3"/>
<line x1="527.40" y1="658.60" x2="531.40" y2="658.60" stroke="#111" stroke-width="1.1"/>
<text x="526.9" y="662.8" font-size="11.8" text-anchor="end" fill="#111" stroke="#111" stroke-width="0.22">0</text>
<line x1="527.40" y1="634.25" x2="531.40" y2="634.25" stroke="#111" stroke-width="1.1"/>
<text x="526.9" y="638.5" font-size="11.8" text-anchor="end" fill="#111" stroke="#111" stroke-width="0.22">20</text>
<line x1="527.40" y1="609.90" x2="531.40" y2="609.90" stroke="#111" stroke-width="1.1"/>
<text x="526.9" y="614.1" font-size="11.8" text-anchor="end" fill="#111" stroke="#111" stroke-width="0.22">40</text>
<line x1="527.40" y1="585.55" x2="531.40" y2="585.55" stroke="#111" stroke-width="1.1"/>
<text x="526.9" y="589.8" font-size="11.8" text-anchor="end" fill="#111" stroke="#111" stroke-width="0.22">60</text>
<line x1="527.40" y1="561.20" x2="531.40" y2="561.20" stroke="#111" stroke-width="1.1"/>
<text x="526.9" y="565.4" font-size="11.8" text-anchor="end" fill="#111" stroke="#111" stroke-width="0.22">80</text>
<line x1="527.40" y1="536.85" x2="531.40" y2="536.85" stroke="#111" stroke-width="1.1"/>
<text x="526.9" y="541.1" font-size="11.8" text-anchor="end" fill="#111" stroke="#111" stroke-width="0.22">100</text>
<line x1="554.30" y1="658.60" x2="554.30" y2="662.60" stroke="#111" stroke-width="1.1"/>
<text x="554.3" y="671.5" font-size="11.4" text-anchor="middle" fill="#111" stroke="#111" stroke-width="0.22">0</text>
<line x1="600.00" y1="658.60" x2="600.00" y2="662.60" stroke="#111" stroke-width="1.1"/>
<text x="600.0" y="671.5" font-size="11.4" text-anchor="middle" fill="#111" stroke="#111" stroke-width="0.22">50</text>
<line x1="645.80" y1="658.60" x2="645.80" y2="662.60" stroke="#111" stroke-width="1.1"/>
<text x="645.8" y="671.5" font-size="11.4" text-anchor="middle" fill="#111" stroke="#111" stroke-width="0.22">100</text>
<text x="513.8" y="671.5" font-size="11.4" text-anchor="start" fill="#111" stroke="#111" stroke-width="0.22">Ola</text>
<text x="668.2" y="670.5" font-size="11.0" text-anchor="start" fill="#111" stroke="#111" stroke-width="0.22">μM</text>
<text x="506.3" y="599.5" font-size="11.1" text-anchor="middle" fill="#111" stroke="#111" stroke-width="0.22" transform="rotate(-90 506.3 599.5)">No. of clones</text>
<text x="540.4" y="533.6" font-size="8.5" text-anchor="start" fill="#111" stroke="#111" stroke-width="0.06">PF-543</text>
<rect x="577.40" y="528.40" width="10.40" height="4.60" fill="none" stroke="#111" stroke-width="1.3"/>
<text x="590.0" y="533.6" font-size="8.4" text-anchor="start" fill="#111" stroke="#111" stroke-width="0.06">0</text>
<rect x="608.50" y="528.40" width="11.20" height="4.60" fill="none" stroke="#e5393c" stroke-width="1.3"/>
<text x="621.7" y="533.6" font-size="8.4" text-anchor="start" fill="#111" stroke="#111" stroke-width="0.06">20 μM</text>
<line x1="546.90" y1="557.67" x2="546.90" y2="545.01" stroke="#111" stroke-width="1.2"/>
<line x1="544.30" y1="545.01" x2="549.50" y2="545.01" stroke="#111" stroke-width="1.2"/>
<line x1="561.70" y1="579.58" x2="561.70" y2="570.94" stroke="#e5393c" stroke-width="1.2"/>
<line x1="559.10" y1="570.94" x2="564.30" y2="570.94" stroke="#e5393c" stroke-width="1.2"/>
<path d="M540.20 658.60V557.67H553.60V658.60" fill="none" stroke="#111" stroke-width="1.6"/>
<path d="M555.00 658.60V579.58H568.40V658.60" fill="none" stroke="#e5393c" stroke-width="1.6"/>
<circle cx="546.90" cy="545.37" r="1.3" fill="#111"/>
<circle cx="546.90" cy="559.37" r="1.3" fill="#111"/>
<circle cx="546.90" cy="567.41" r="1.3" fill="#111"/>
<circle cx="561.70" cy="570.94" r="1.3" fill="#111"/>
<circle cx="561.70" cy="578.25" r="1.3" fill="#111"/>
<circle cx="561.70" cy="587.13" r="1.3" fill="#111"/>
<line x1="592.60" y1="585.31" x2="592.60" y2="577.15" stroke="#111" stroke-width="1.2"/>
<line x1="590.00" y1="577.15" x2="595.20" y2="577.15" stroke="#111" stroke-width="1.2"/>
<line x1="607.40" y1="604.54" x2="607.40" y2="594.07" stroke="#e5393c" stroke-width="1.2"/>
<line x1="604.80" y1="594.07" x2="610.00" y2="594.07" stroke="#e5393c" stroke-width="1.2"/>
<path d="M585.90 658.60V585.31H599.30V658.60" fill="none" stroke="#111" stroke-width="1.6"/>
<path d="M600.70 658.60V604.54H614.10V658.60" fill="none" stroke="#e5393c" stroke-width="1.6"/>
<circle cx="592.60" cy="577.64" r="1.3" fill="#111"/>
<circle cx="592.60" cy="584.94" r="1.3" fill="#111"/>
<circle cx="592.60" cy="593.10" r="1.3" fill="#111"/>
<circle cx="607.40" cy="595.66" r="1.3" fill="#111"/>
<circle cx="607.40" cy="601.62" r="1.3" fill="#111"/>
<circle cx="607.40" cy="614.89" r="1.3" fill="#111"/>
<line x1="638.40" y1="604.54" x2="638.40" y2="598.82" stroke="#111" stroke-width="1.2"/>
<line x1="635.80" y1="598.82" x2="641.00" y2="598.82" stroke="#111" stroke-width="1.2"/>
<line x1="653.20" y1="616.35" x2="653.20" y2="609.90" stroke="#e5393c" stroke-width="1.2"/>
<line x1="650.60" y1="609.90" x2="655.80" y2="609.90" stroke="#e5393c" stroke-width="1.2"/>
<path d="M631.70 658.60V604.54H645.10V658.60" fill="none" stroke="#111" stroke-width="1.6"/>
<path d="M646.50 658.60V616.35H659.90V658.60" fill="none" stroke="#e5393c" stroke-width="1.6"/>
<circle cx="638.40" cy="599.55" r="1.3" fill="#111"/>
<circle cx="638.40" cy="605.03" r="1.3" fill="#111"/>
<circle cx="638.40" cy="608.80" r="1.3" fill="#111"/>
<circle cx="653.20" cy="610.02" r="1.3" fill="#111"/>
<circle cx="653.20" cy="616.35" r="1.3" fill="#111"/>
<circle cx="653.20" cy="621.34" r="1.3" fill="#111"/>
<text x="562.3" y="574.2" font-size="16.5" text-anchor="middle" fill="#111" stroke="#111" stroke-width="0.3">*</text>
<text x="605.5" y="597.6" font-size="16.5" text-anchor="middle" fill="#111" stroke="#111" stroke-width="0.3">*</text>
<text x="612.2" y="597.6" font-size="16.5" text-anchor="middle" fill="#111" stroke="#111" stroke-width="0.3">*</text>
<text x="651.1" y="613.2" font-size="16.5" text-anchor="middle" fill="#111" stroke="#111" stroke-width="0.3">*</text>
<text x="658.1" y="613.2" font-size="16.5" text-anchor="middle" fill="#111" stroke="#111" stroke-width="0.3">*</text>
<line x1="534.40" y1="716.02" x2="534.40" y2="837.70" stroke="#111" stroke-width="1.3"/>
<line x1="533.80" y1="837.10" x2="673.70" y2="837.10" stroke="#111" stroke-width="1.3"/>
<line x1="530.40" y1="837.10" x2="534.40" y2="837.10" stroke="#111" stroke-width="1.1"/>
<text x="529.9" y="841.3" font-size="11.8" text-anchor="end" fill="#111" stroke="#111" stroke-width="0.22">0</text>
<line x1="530.40" y1="812.88" x2="534.40" y2="812.88" stroke="#111" stroke-width="1.1"/>
<text x="529.9" y="817.1" font-size="11.8" text-anchor="end" fill="#111" stroke="#111" stroke-width="0.22">50</text>
<line x1="530.40" y1="788.67" x2="534.40" y2="788.67" stroke="#111" stroke-width="1.1"/>
<text x="529.9" y="792.9" font-size="11.8" text-anchor="end" fill="#111" stroke="#111" stroke-width="0.22">100</text>
<line x1="530.40" y1="764.46" x2="534.40" y2="764.46" stroke="#111" stroke-width="1.1"/>
<text x="529.9" y="768.7" font-size="11.8" text-anchor="end" fill="#111" stroke="#111" stroke-width="0.22">150</text>
<line x1="530.40" y1="740.24" x2="534.40" y2="740.24" stroke="#111" stroke-width="1.1"/>
<text x="529.9" y="744.4" font-size="11.8" text-anchor="end" fill="#111" stroke="#111" stroke-width="0.22">200</text>
<line x1="530.40" y1="716.02" x2="534.40" y2="716.02" stroke="#111" stroke-width="1.1"/>
<text x="529.9" y="720.2" font-size="11.8" text-anchor="end" fill="#111" stroke="#111" stroke-width="0.22">250</text>
<line x1="557.60" y1="837.10" x2="557.60" y2="841.10" stroke="#111" stroke-width="1.1"/>
<text x="557.6" y="850.7" font-size="11.4" text-anchor="middle" fill="#111" stroke="#111" stroke-width="0.22">0</text>
<line x1="603.20" y1="837.10" x2="603.20" y2="841.10" stroke="#111" stroke-width="1.1"/>
<text x="603.2" y="850.7" font-size="11.4" text-anchor="middle" fill="#111" stroke="#111" stroke-width="0.22">25</text>
<line x1="649.70" y1="837.10" x2="649.70" y2="841.10" stroke="#111" stroke-width="1.1"/>
<text x="649.7" y="850.7" font-size="11.4" text-anchor="middle" fill="#111" stroke="#111" stroke-width="0.22">50</text>
<text x="513.0" y="850.7" font-size="11.4" text-anchor="start" fill="#111" stroke="#111" stroke-width="0.22">Ola</text>
<text x="670.5" y="849.7" font-size="11.0" text-anchor="start" fill="#111" stroke="#111" stroke-width="0.22">μM</text>
<text x="506.8" y="778.4" font-size="11.1" text-anchor="middle" fill="#111" stroke="#111" stroke-width="0.22" transform="rotate(-90 506.8 778.4)">No. of clones</text>
<text x="539.1" y="712.3" font-size="8.5" text-anchor="start" fill="#111" stroke="#111" stroke-width="0.06">PF-543</text>
<rect x="579.30" y="707.10" width="10.40" height="4.60" fill="none" stroke="#111" stroke-width="1.3"/>
<text x="591.8" y="712.3" font-size="8.75" text-anchor="start" fill="#111" stroke="#111" stroke-width="0.06">0</text>
<rect x="610.60" y="707.10" width="11.20" height="4.60" fill="none" stroke="#e5393c" stroke-width="1.3"/>
<text x="623.8" y="712.3" font-size="8.75" text-anchor="start" fill="#111" stroke="#111" stroke-width="0.06">20 μM</text>
<line x1="550.20" y1="730.70" x2="550.20" y2="723.39" stroke="#111" stroke-width="1.2"/>
<line x1="547.60" y1="723.39" x2="552.80" y2="723.39" stroke="#111" stroke-width="1.2"/>
<line x1="565.00" y1="763.10" x2="565.00" y2="756.22" stroke="#e5393c" stroke-width="1.2"/>
<line x1="562.40" y1="756.22" x2="567.60" y2="756.22" stroke="#e5393c" stroke-width="1.2"/>
<path d="M543.50 837.10V730.70H556.90V837.10" fill="none" stroke="#111" stroke-width="1.6"/>
<path d="M558.30 837.10V763.10H571.70V837.10" fill="none" stroke="#e5393c" stroke-width="1.6"/>
<circle cx="550.20" cy="724.74" r="1.3" fill="#111"/>
<circle cx="550.20" cy="727.70" r="1.3" fill="#111"/>
<circle cx="550.20" cy="737.19" r="1.3" fill="#111"/>
<circle cx="565.00" cy="757.19" r="1.3" fill="#111"/>
<circle cx="565.00" cy="761.31" r="1.3" fill="#111"/>
<circle cx="565.00" cy="769.01" r="1.3" fill="#111"/>
<line x1="595.80" y1="760.39" x2="595.80" y2="751.72" stroke="#111" stroke-width="1.2"/>
<line x1="593.20" y1="751.72" x2="598.40" y2="751.72" stroke="#111" stroke-width="1.2"/>
<line x1="610.60" y1="779.42" x2="610.60" y2="771.19" stroke="#e5393c" stroke-width="1.2"/>
<line x1="608.00" y1="771.19" x2="613.20" y2="771.19" stroke="#e5393c" stroke-width="1.2"/>
<path d="M589.10 837.10V760.39H602.50V837.10" fill="none" stroke="#111" stroke-width="1.6"/>
<path d="M603.90 837.10V779.42H617.30V837.10" fill="none" stroke="#e5393c" stroke-width="1.6"/>
<circle cx="595.80" cy="752.83" r="1.3" fill="#111"/>
<circle cx="595.80" cy="759.13" r="1.3" fill="#111"/>
<circle cx="595.80" cy="767.80" r="1.3" fill="#111"/>
<circle cx="610.60" cy="771.62" r="1.3" fill="#111"/>
<circle cx="610.60" cy="778.11" r="1.3" fill="#111"/>
<circle cx="610.60" cy="786.10" r="1.3" fill="#111"/>
<line x1="642.30" y1="783.29" x2="642.30" y2="775.30" stroke="#111" stroke-width="1.2"/>
<line x1="639.70" y1="775.30" x2="644.90" y2="775.30" stroke="#111" stroke-width="1.2"/>
<line x1="657.10" y1="797.19" x2="657.10" y2="791.09" stroke="#e5393c" stroke-width="1.2"/>
<line x1="654.50" y1="791.09" x2="659.70" y2="791.09" stroke="#e5393c" stroke-width="1.2"/>
<path d="M635.60 837.10V783.29H649.00V837.10" fill="none" stroke="#111" stroke-width="1.6"/>
<path d="M650.40 837.10V797.19H663.80V837.10" fill="none" stroke="#e5393c" stroke-width="1.6"/>
<circle cx="642.30" cy="776.08" r="1.3" fill="#111"/>
<circle cx="642.30" cy="782.86" r="1.3" fill="#111"/>
<circle cx="642.30" cy="789.20" r="1.3" fill="#111"/>
<circle cx="657.10" cy="791.82" r="1.3" fill="#111"/>
<circle cx="657.10" cy="797.00" r="1.3" fill="#111"/>
<circle cx="657.10" cy="801.89" r="1.3" fill="#111"/>
<text x="562.3" y="758.9" font-size="16.5" text-anchor="middle" fill="#111" stroke="#111" stroke-width="0.3">*</text>
<text x="569.3" y="758.9" font-size="16.5" text-anchor="middle" fill="#111" stroke="#111" stroke-width="0.3">*</text>
<text x="608.0" y="774.6" font-size="16.5" text-anchor="middle" fill="#111" stroke="#111" stroke-width="0.3">*</text>
<text x="615.1" y="774.6" font-size="16.5" text-anchor="middle" fill="#111" stroke="#111" stroke-width="0.3">*</text>
<text x="654.0" y="794.1" font-size="16.5" text-anchor="middle" fill="#111" stroke="#111" stroke-width="0.3">*</text>
<text x="661.2" y="794.1" font-size="16.5" text-anchor="middle" fill="#111" stroke="#111" stroke-width="0.3">*</text>
</svg></body></html>
